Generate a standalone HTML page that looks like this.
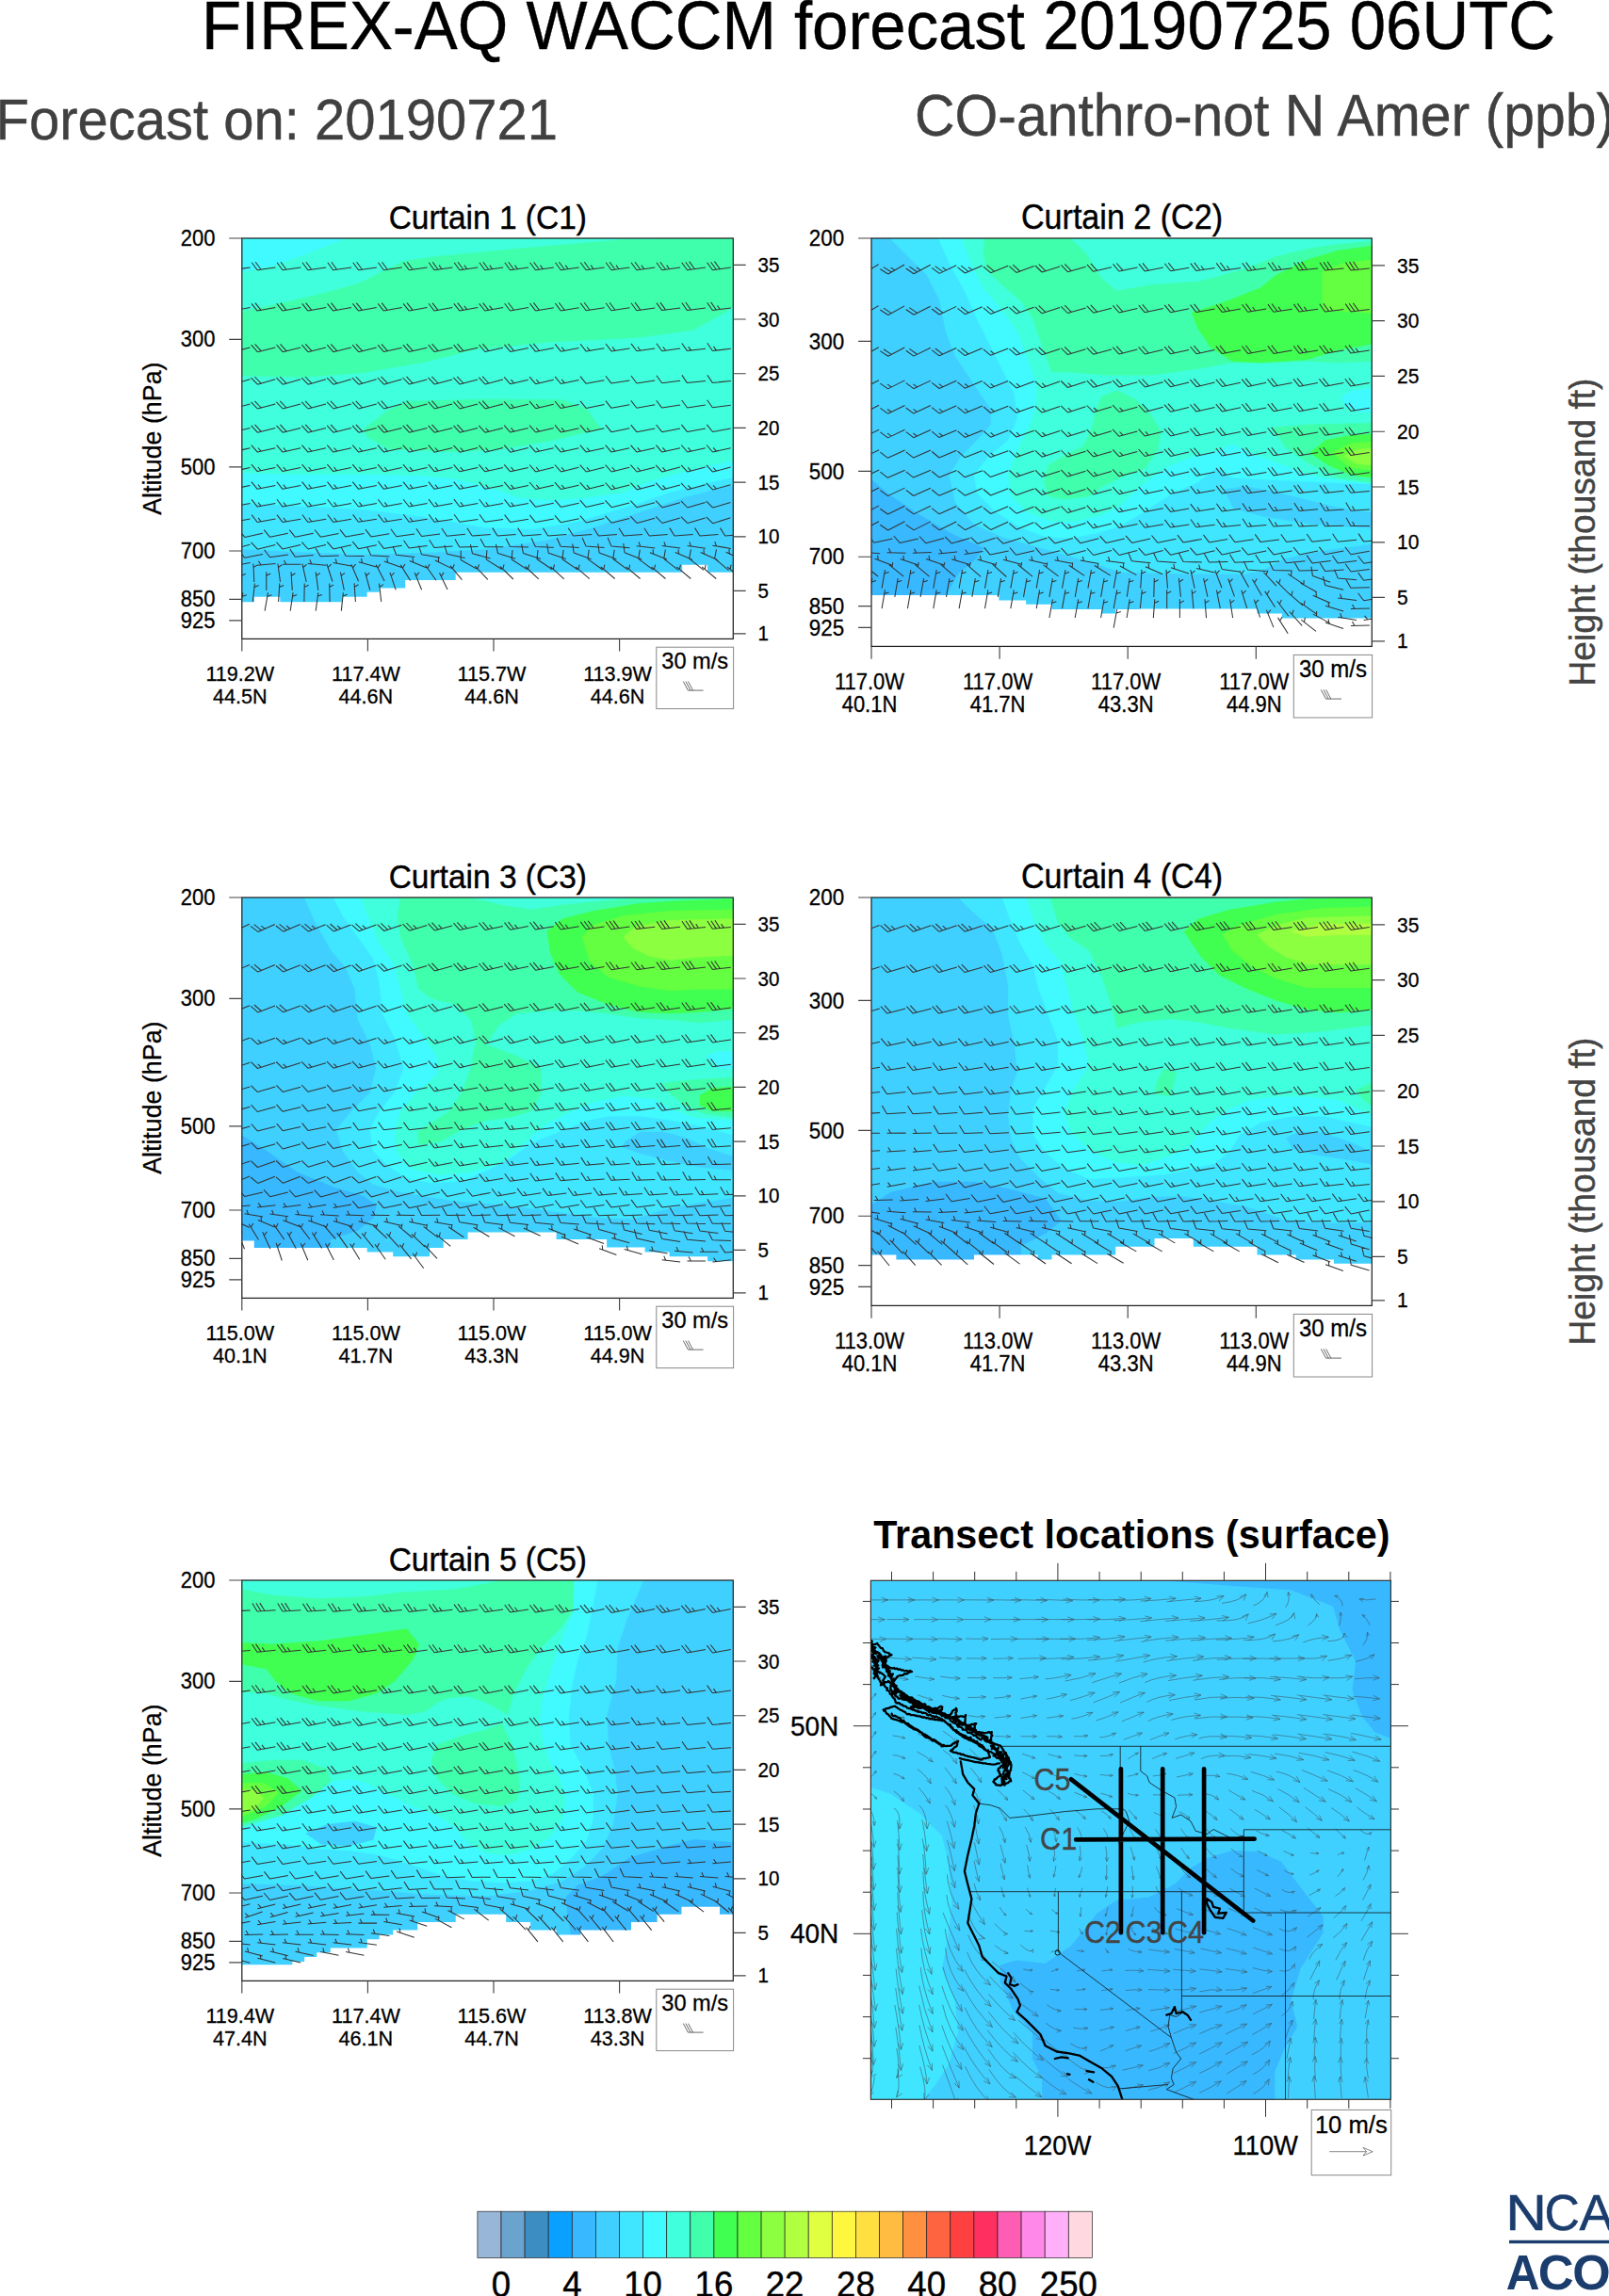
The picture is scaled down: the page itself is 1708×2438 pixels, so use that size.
<!DOCTYPE html>
<html><head><meta charset="utf-8"><title>FIREX-AQ WACCM forecast</title>
<style>html,body{margin:0;padding:0;background:#fff}svg{display:block}</style></head>
<body>
<svg width="1708" height="2438" viewBox="0 0 1708 2438" font-family="'Liberation Sans', sans-serif">
<rect width="1708" height="2438" fill="#fff"/>
<text transform="translate(932.5 51.5) scale(1.000 1.055)" font-size="68.9" text-anchor="middle" fill="#000"  stroke="#000" stroke-width="0.4">FIREX-AQ WACCM forecast 20190725 06UTC</text>
<text transform="translate(-4.5 148.4) scale(1.000 1.065)" font-size="58" text-anchor="start" fill="#404040"  stroke="#404040" stroke-width="0.4">Forecast on: 20190721</text>
<text transform="translate(971 143.5) scale(1.000 1.060)" font-size="58.9" text-anchor="start" fill="#404040"  stroke="#404040" stroke-width="0.4">CO-anthro-not N Amer (ppb)</text>
<clipPath id="cp0"><rect x="256.8" y="253" width="521.5" height="425.4"/></clipPath>
<g clip-path="url(#cp0)">
<rect x="256.8" y="253" width="521.5" height="425.4" fill="#40FFDC"/>
<polygon points="256.8,253 367,253 321.6,270.8 289.2,282.2 256.8,288.6" fill="#40FAFF" stroke="#40FAFF" stroke-width="0.6"/>
<polygon points="256.8,330.8 289.2,324.3 337.8,312.9 380,301.6 402.7,290.3 428.6,277.3 464.2,272.4 548.5,264.3 661.9,254.6 778.3,253 778.3,325.9 762.4,335.6 736.5,350.2 678.1,358.3 580.9,363.2 503.1,371.3 451.3,384.2 386.4,395.6 321.6,400.4 256.8,398.8" fill="#40FFAC" stroke="#40FFAC" stroke-width="0.6"/>
<polygon points="386.4,455.5 409.1,437.7 431.8,426.3 516.1,424.1 597.1,424.7 623,434.4 637.6,455.5 580.9,468.5 532.3,476.6 483.7,479.8 412.4,476.6 389.7,463.6" fill="#40FFAC" stroke="#40FFAC" stroke-width="0.6"/>
<polygon points="256.8,502.5 305.4,504.1 386.4,504.1 451.3,505.7 483.7,509 532.3,521.9 548.5,528.4 580.9,531.6 613.3,530 661.9,523.5 687.9,512.2 726.8,500.9 778.3,489.5 778.3,678.4 256.8,678.4" fill="#40FAFF" stroke="#40FAFF" stroke-width="0.6"/>
<polygon points="256.8,534.9 321.6,538.1 386.4,541.4 451.3,549.5 516.1,560.8 564.7,562.4 613.3,554.3 645.7,544.6 678.1,534.9 710.6,523.5 743,515.4 778.3,507.3 778.3,678.4 256.8,678.4" fill="#40E6FF" stroke="#40E6FF" stroke-width="0.6"/>
<polygon points="256.8,583.5 321.6,586.7 386.4,589.3 451.3,587.4 516.1,583.5 580.9,573.8 629.5,560.8 678.1,544.6 726.8,528.4 778.3,515.4 778.3,678.4 256.8,678.4" fill="#40D0FF" stroke="#40D0FF" stroke-width="0.6"/>
<path d="M256.8 678.4L256.8 639.2L269.8 639.2L269.8 633.7L297.3 633.7L297.3 639.2L363.8 639.2L363.8 633.7L389.7 633.7L389.7 628.8L402.7 628.8L402.7 624.6L430.2 624.6L430.2 615.9L483.7 615.9L483.7 607.8L778.6 607.8L778.3 678.4ZM724.2 599.7H751.1V608.1H724.2Z" fill="#fff"/>
<path d="M265.7 284L246.2 286.8M246.2 286.8L240.4 278.8M250.2 286.2L244.4 278.2M292.5 284L273.1 286.8M273.1 286.8L267.3 278.8M277.1 286.2L271.2 278.2M319.4 284L299.9 286.8M299.9 286.8L294.1 278.8M303.9 286.2L298.1 278.2M346.2 284L326.8 286.8M326.8 286.8L321 278.8M330.8 286.2L324.9 278.2M373.1 284L353.6 286.8M353.6 286.8L347.8 278.8M357.6 286.2L351.8 278.2M399.9 284L380.5 286.8M380.5 286.8L374.7 278.8M384.5 286.2L378.6 278.2M426.8 284L407.3 286.8M407.3 286.8L401.5 278.8M411.3 286.2L405.5 278.2M453.6 284L434.2 286.8M434.2 286.8L428.4 278.8M438.2 286.2L432.3 278.2M480.5 284L461 286.8M461 286.8L455.2 278.8M465 286.2L459.2 278.2M469 285.7L466.1 281.6M507.3 284L487.9 286.8M487.9 286.8L482.1 278.8M491.9 286.2L486 278.2M495.8 285.7L492.9 281.6M534.2 284L514.7 286.8M514.7 286.8L508.9 278.8M518.7 286.2L512.9 278.2M522.7 285.7L519.8 281.6M561 284L541.6 286.8M541.6 286.8L535.8 278.8M545.6 286.2L539.7 278.2M549.5 285.7L546.6 281.6M587.9 284L568.4 286.8M568.4 286.8L562.6 278.8M572.4 286.2L566.6 278.2M576.4 285.7L573.5 281.6M614.7 284L595.3 286.8M595.3 286.8L589.5 278.8M599.3 286.2L593.4 278.2M603.2 285.7L600.3 281.6M641.6 284L622.1 286.8M622.1 286.8L616.3 278.8M626.1 286.2L620.3 278.2M630.1 285.7L627.2 281.6M668.4 284L649 286.8M649 286.8L643.2 278.8M653 286.2L647.1 278.2M656.9 285.7L654 281.6M695.3 284L675.8 286.8M675.8 286.8L670 278.8M679.8 286.2L674 278.2M683.8 285.7L680.9 281.6M722.1 284L702.7 286.8M702.7 286.8L696.9 278.8M706.7 286.2L700.8 278.2M710.6 285.7L707.7 281.6M749 284L729.5 286.8M729.5 286.8L723.7 278.8M733.5 286.2L727.7 278.2M737.5 285.7L731.6 277.6M775.8 284L756.4 286.8M756.4 286.8L750.6 278.8M760.4 286.2L754.5 278.2M764.3 285.7L758.5 277.6M265.6 326.5L246.3 330.1M246.3 330.1L240.1 322.4M250.3 329.4L244.1 321.6M292.4 326.5L273.2 330.1M273.2 330.1L267 322.4M277.1 329.4L270.9 321.6M319.3 326.5L300 330.1M300 330.1L293.8 322.4M304 329.4L297.8 321.6M346.1 326.5L326.9 330.1M326.9 330.1L320.7 322.4M330.8 329.4L324.6 321.6M373 326.5L353.7 330.1M353.7 330.1L347.5 322.4M357.7 329.4L351.5 321.6M399.8 326.5L380.6 330.1M380.6 330.1L374.4 322.4M384.5 329.4L378.3 321.6M426.7 326.5L407.4 330.1M407.4 330.1L401.2 322.4M411.3 329.4L405.2 321.6M453.5 326.5L434.3 330.1M434.3 330.1L428.1 322.3M438.2 329.4L432 321.6M480.4 326.5L461.1 330.1M461.1 330.1L455 322.3M465 329.4L458.9 321.6M507.2 326.5L488 330.1M488 330.1L481.8 322.3M491.9 329.3L485.7 321.6M495.8 328.6L492.8 324.7M534.1 326.6L514.8 330M514.8 330L508.7 322.3M518.7 329.3L512.6 321.6M522.7 328.6L519.6 324.7M561 326.6L541.6 330M541.6 330L535.6 322.2M545.6 329.3L539.5 321.5M587.8 326.7L568.5 329.9M568.5 329.9L562.5 322.1M572.4 329.3L566.4 321.4M614.7 326.7L595.3 329.9M595.3 329.9L589.3 322M599.3 329.2L593.3 321.3M641.5 326.8L622.2 329.8M622.2 329.8L616.2 321.9M626.1 329.2L620.2 321.3M668.4 326.8L649 329.8M649 329.8L643.1 321.8M653 329.2L647.1 321.2M695.3 326.9L675.8 329.7M675.8 329.7L670 321.7M679.8 329.1L674 321.1M722.1 327L702.7 329.6M702.7 329.6L696.9 321.6M706.7 329.1L700.9 321.1M749 327L729.5 329.6M729.5 329.6L723.8 321.5M733.5 329.1L727.8 321M775.8 327.1L756.4 329.5M756.4 329.5L750.7 321.4M760.3 329L754.6 320.9M764.3 328.5L761.5 324.5M265.5 369.1L246.4 373.7M246.4 373.7L239.9 366.2M250.3 372.7L243.8 365.3M292.3 369.1L273.3 373.7M273.3 373.7L266.7 366.2M277.2 372.7L270.6 365.3M319.2 369.1L300.1 373.7M300.1 373.7L293.6 366.2M304 372.7L297.5 365.3M346 369.1L327 373.7M327 373.7L320.4 366.2M330.9 372.7L324.3 365.3M372.9 369.1L353.8 373.7M353.8 373.7L347.3 366.2M357.7 372.7L351.2 365.3M399.7 369.1L380.7 373.7M380.7 373.7L374.1 366.2M384.6 372.7L378 365.3M426.6 369.2L407.5 373.6M407.5 373.6L401 366.2M411.4 372.7L404.9 365.3M453.4 369.2L434.4 373.6M434.4 373.6L427.9 366.1M438.2 372.7L431.7 365.2M480.3 369.2L461.2 373.6M461.2 373.6L454.7 366.1M465.1 372.7L458.6 365.2M507.2 369.2L488 373.6M488 373.6L481.6 366.1M491.9 372.7L485.5 365.2M534 369.3L514.9 373.5M514.9 373.5L508.5 366M518.8 372.7L512.4 365.1M560.9 369.4L541.7 373.4M541.7 373.4L535.4 365.8M545.6 372.6L539.3 365M587.8 369.5L568.5 373.3M568.5 373.3L562.3 365.6M572.5 372.5L566.2 364.8M614.6 369.6L595.4 373.2M595.4 373.2L589.2 365.4M599.3 372.5L596.2 368.6M641.5 369.7L622.2 373.1M622.2 373.1L616.1 365.2M626.1 372.4L623.1 368.5M668.4 369.9L649 372.9M649 372.9L643.1 365M653 372.3L650 368.4M695.2 370L675.9 372.8M675.9 372.8L670 364.9M679.8 372.2L676.9 368.3M722.1 370.1L702.7 372.7M702.7 372.7L696.9 364.7M706.7 372.2L703.8 368.2M749 370.2L729.5 372.6M729.5 372.6L723.8 364.5M733.5 372.1L730.7 368.1M775.8 370.3L756.4 372.5M756.4 372.5L750.8 364.3M760.3 372L757.5 367.9M265.4 402.8L246.5 408.2M246.5 408.2L239.7 401.1M250.4 407.1L243.5 400M292.2 402.8L273.4 408.2M273.4 408.2L266.5 401.1M277.2 407.1L270.3 400M319.1 402.8L300.2 408.2M300.2 408.2L293.4 401.1M304.1 407.1L297.2 400M345.9 402.8L327.1 408.2M327.1 408.2L320.2 401.1M330.9 407.1L324 400M372.8 402.8L353.9 408.2M353.9 408.2L347.1 401.1M357.8 407.1L350.9 400M399.6 402.8L380.8 408.2M380.8 408.2L373.9 401.1M384.6 407.1L377.7 400M426.5 402.8L407.6 408.2M407.6 408.2L400.8 401M411.5 407.1L404.6 399.9M453.3 402.9L434.5 408.1M434.5 408.1L427.6 401M438.3 407.1L431.5 399.9M480.2 402.9L461.3 408.1M461.3 408.1L454.5 400.9M465.2 407L458.4 399.8M507.1 402.9L488.1 408.1M488.1 408.1L481.4 400.8M492 407L485.2 399.8M533.9 403L515 408M515 408L508.3 400.7M518.8 407L512.1 399.7M560.8 403.2L541.8 407.8M541.8 407.8L535.2 400.4M545.7 406.9L542.4 403.2M587.7 403.3L568.6 407.7M568.6 407.7L562.1 400.1M572.5 406.8L569.3 403M614.6 403.5L595.4 407.5M595.4 407.5L589.1 399.9M599.3 406.7L596.2 402.9M641.5 403.7L622.2 407.3M622.2 407.3L616 399.6M668.4 403.9L649 407.1M649 407.1L643 399.3M695.2 404L675.9 407M675.9 407L670 399M722.1 404.2L702.7 406.8M702.7 406.8L696.9 398.7M749 404.4L729.5 406.6M729.5 406.6L723.9 398.4M775.9 404.6L756.3 406.4M756.3 406.4L750.9 398.2M265.4 429L246.5 434M246.5 434L239.7 426.8M250.3 433L243.6 425.8M292.3 429L273.3 434M273.3 434L266.6 426.8M277.2 433L270.4 425.8M319.1 429L300.2 434M300.2 434L293.4 426.8M304 433L297.3 425.8M346 429L327 434M327 434L320.3 426.8M330.9 433L324.1 425.8M372.8 429L353.9 434M353.9 434L347.1 426.8M357.7 433L351 425.8M399.7 429L380.7 434M380.7 434L374 426.8M384.6 433L377.8 425.8M426.5 429L407.6 434M407.6 434L400.8 426.8M411.4 433L404.7 425.7M453.4 429L434.4 434M434.4 434L427.7 426.7M438.3 433L431.6 425.7M480.2 429L461.3 434M461.3 434L454.6 426.7M465.1 433L458.4 425.7M507.1 429L488.1 434M488.1 434L481.4 426.7M492 433L485.3 425.7M533.9 429.1L515 433.9M515 433.9L508.3 426.6M518.8 432.9L512.2 425.6M560.8 429.2L541.8 433.8M541.8 433.8L535.2 426.4M545.7 432.9L542.4 429.2M587.7 429.3L568.6 433.7M568.6 433.7L562.1 426.2M572.5 432.8L569.3 429M614.6 429.4L595.4 433.6M595.4 433.6L589 426M599.3 432.7L596.1 428.9M641.5 429.6L622.2 433.4M622.2 433.4L616 425.8M668.3 429.7L649.1 433.3M649.1 433.3L642.9 425.6M695.2 429.8L675.9 433.2M675.9 433.2L669.8 425.4M722.1 429.9L702.7 433.1M702.7 433.1L696.7 425.2M748.9 430L729.6 433M729.6 433L723.7 425M775.8 430.2L756.4 432.8M756.4 432.8L750.6 424.8M265.5 454.4L246.4 459.2M246.4 459.2L239.8 451.8M250.3 458.2L243.7 450.8M292.3 454.4L273.3 459.2M273.3 459.2L266.7 451.8M277.2 458.2L270.5 450.8M319.2 454.4L300.1 459.2M300.1 459.2L293.5 451.8M304 458.2L297.4 450.8M346 454.4L327 459.2M327 459.2L320.4 451.8M330.9 458.2L324.2 450.8M372.9 454.4L353.8 459.2M353.8 459.2L347.2 451.8M357.7 458.2L351.1 450.8M399.7 454.4L380.7 459.2M380.7 459.2L374.1 451.8M384.6 458.2L377.9 450.8M426.6 454.4L407.5 459.2M407.5 459.2L400.9 451.8M411.4 458.2L404.8 450.8M453.4 454.4L434.4 459.2M434.4 459.2L427.8 451.8M438.3 458.2L431.6 450.8M480.3 454.4L461.2 459.2M461.2 459.2L454.6 451.8M465.1 458.2L458.5 450.8M507.1 454.4L488.1 459.2M488.1 459.2L481.5 451.8M492 458.2L485.3 450.8M534 454.4L514.9 459.2M514.9 459.2L508.3 451.8M518.8 458.2L515.5 454.5M560.8 454.5L541.8 459.1M541.8 459.1L535.2 451.7M545.7 458.2L542.4 454.4M587.7 454.6L568.6 459M568.6 459L562.1 451.6M572.5 458.1L569.2 454.4M614.6 454.7L595.4 458.9M595.4 458.9L589 451.4M599.3 458.1L596.1 454.3M641.4 454.7L622.3 458.9M622.3 458.9L615.9 451.3M626.2 458L623 454.3M668.3 454.8L649.1 458.8M649.1 458.8L642.8 451.2M695.2 454.9L675.9 458.7M675.9 458.7L669.7 451.1M722 454.9L702.8 458.7M702.8 458.7L696.5 451M748.9 455L729.6 458.6M729.6 458.6L723.4 450.9M775.7 455.1L756.5 458.5M756.5 458.5L750.3 450.8M265.5 475.7L246.4 480.1M246.4 480.1L239.9 472.6M250.3 479.2L247.1 475.5M292.3 475.7L273.3 480.1M273.3 480.1L266.8 472.6M277.1 479.2L273.9 475.5M319.2 475.7L300.1 480.1M300.1 480.1L293.6 472.6M304 479.2L300.8 475.5M346 475.7L327 480.1M327 480.1L320.5 472.6M330.8 479.2L327.6 475.5M372.9 475.7L353.8 480.1M353.8 480.1L347.3 472.6M357.7 479.2L354.5 475.5M399.7 475.7L380.7 480.1M380.7 480.1L374.2 472.6M384.5 479.2L381.3 475.5M426.6 475.7L407.5 480.1M407.5 480.1L401 472.7M411.4 479.2L408.1 475.5M453.4 475.7L434.4 480.1M434.4 480.1L427.8 472.7M438.3 479.2L435 475.5M480.3 475.6L461.2 480.2M461.2 480.2L454.7 472.7M465.1 479.2L461.8 475.5M507.1 475.6L488.1 480.2M488.1 480.2L481.5 472.8M492 479.2L488.7 475.5M534 475.6L514.9 480.2M514.9 480.2L508.4 472.8M518.8 479.3L515.5 475.5M560.8 475.6L541.8 480.2M541.8 480.2L535.2 472.7M545.7 479.2L542.4 475.5M587.7 475.7L568.6 480.1M568.6 480.1L562.1 472.7M572.5 479.2L569.2 475.5M614.5 475.7L595.5 480.1M595.5 480.1L588.9 472.7M599.4 479.2L596.1 475.5M641.4 475.7L622.3 480.1M622.3 480.1L615.8 472.7M626.2 479.2L622.9 475.5M668.3 475.7L649.1 480.1M649.1 480.1L642.7 472.6M653 479.2L649.8 475.5M695.1 475.7L676 480.1M676 480.1L669.5 472.6M679.9 479.2L676.7 475.4M722 475.7L702.8 480.1M702.8 480.1L696.4 472.6M706.7 479.2L703.5 475.4M748.8 475.8L729.7 480M729.7 480L723.2 472.5M733.6 479.2L730.4 475.4M775.7 475.8L756.5 480M756.5 480L750.1 472.5M760.4 479.2L757.2 475.4M265.5 496.6L246.4 500.6M246.4 500.6L240 493.1M250.3 499.8L247.1 496M292.4 496.6L273.2 500.6M273.2 500.6L266.9 493.1M277.1 499.8L273.9 496M319.2 496.6L300.1 500.6M300.1 500.6L293.7 493.1M304 499.8L300.8 496M346.1 496.6L326.9 500.6M326.9 500.6L320.6 493.1M330.8 499.8L327.6 496M372.9 496.6L353.8 500.6M353.8 500.6L347.4 493.1M357.7 499.8L354.5 496M399.8 496.6L380.6 500.6M380.6 500.6L374.2 493.1M384.5 499.8L381.3 496M426.6 496.5L407.5 500.7M407.5 500.7L401.1 493.1M411.4 499.8L408.2 496M453.5 496.5L434.3 500.7M434.3 500.7L427.9 493.2M438.2 499.8L435 496.1M480.3 496.5L461.2 500.7M461.2 500.7L454.7 493.2M465.1 499.9L461.9 496.1M507.2 496.4L488 500.8M488 500.8L481.6 493.3M491.9 499.9L488.7 496.1M534 496.4L514.9 500.8M514.9 500.8L508.4 493.3M518.8 499.9L515.5 496.2M560.8 496.4L541.8 500.8M541.8 500.8L535.2 493.4M545.7 499.9L542.4 496.2M587.7 496.3L568.6 500.9M568.6 500.9L562.1 493.5M572.5 500L569.2 496.2M614.5 496.3L595.5 500.9M595.5 500.9L588.9 493.5M599.4 500L596.1 496.3M641.4 496.2L622.3 501M622.3 501L615.7 493.6M626.2 500L622.9 496.3M668.2 496.2L649.2 501M649.2 501L642.6 493.6M653.1 500L649.8 496.3M695 496.2L676.1 501M676.1 501L669.4 493.7M679.9 500L676.6 496.4M721.9 496.1L702.9 501.1M702.9 501.1L696.2 493.8M706.8 500.1L703.4 496.4M748.7 496.1L729.8 501.1M729.8 501.1L723.1 493.8M733.6 500.1L730.3 496.4M775.6 496.1L756.6 501.1M756.6 501.1L749.9 493.9M760.5 500.1L757.1 496.5M265.6 515.5L246.3 519.3M246.3 519.3L240.1 511.7M250.3 518.5L247.1 514.7M292.4 515.5L273.2 519.3M273.2 519.3L266.9 511.7M277.1 518.5L274 514.7M319.3 515.5L300 519.3M300 519.3L293.8 511.6M304 518.5L300.8 514.7M346.1 515.5L326.9 519.3M326.9 519.3L320.6 511.6M330.8 518.5L327.7 514.7M373 515.5L353.7 519.3M353.7 519.3L347.5 511.6M357.7 518.5L354.5 514.7M399.8 515.5L380.6 519.3M380.6 519.3L374.3 511.6M384.5 518.5L381.4 514.7M426.7 515.5L407.4 519.3M407.4 519.3L401.2 511.6M411.4 518.5L408.2 514.7M453.5 515.5L434.3 519.3M434.3 519.3L428 511.6M438.2 518.5L435.1 514.7M480.4 515.5L461.1 519.3M461.1 519.3L454.9 511.6M465.1 518.5L461.9 514.7M507.2 515.5L488 519.3M488 519.3L481.7 511.7M491.9 518.5L488.8 514.7M534.1 515.5L514.8 519.3M514.8 519.3L508.6 511.7M518.8 518.6L515.6 514.7M560.9 515.4L541.7 519.4M541.7 519.4L535.3 511.9M545.6 518.6L542.4 514.8M587.7 515.3L568.6 519.5M568.6 519.5L562.1 512M572.5 518.7L569.3 514.9M614.5 515.2L595.5 519.6M595.5 519.6L588.9 512.2M599.4 518.7L596.1 515M641.4 515.1L622.3 519.7M622.3 519.7L615.7 512.3M626.2 518.8L622.9 515.1M668.2 515L649.2 519.8M649.2 519.8L642.6 512.5M653.1 518.8L649.8 515.2M695 514.9L676.1 519.9M676.1 519.9L669.4 512.6M679.9 518.9L676.6 515.2M721.9 514.9L702.9 519.9M702.9 519.9L696.2 512.7M706.8 518.9L703.4 515.3M748.7 514.8L729.8 520M729.8 520L723 512.8M733.7 518.9L730.3 515.3M775.5 514.7L756.7 520.1M756.7 520.1L749.8 512.9M760.5 519L757.1 515.4M265.6 534.5L246.3 538.1M246.3 538.1L240.1 530.4M250.3 537.4L247.2 533.5M292.4 534.5L273.2 538.1M273.2 538.1L267 530.3M277.1 537.4L274 533.5M319.3 534.5L300 538.1M300 538.1L293.9 530.3M303.9 537.3L300.9 533.5M346.1 534.6L326.9 538M326.9 538L320.7 530.3M330.8 537.3L327.7 533.4M373 534.6L353.7 538M353.7 538L347.6 530.2M357.6 537.3L354.6 533.4M399.9 534.6L380.5 538M380.5 538L374.5 530.2M384.5 537.3L381.4 533.4M426.7 534.6L407.4 538M407.4 538L401.3 530.2M411.3 537.3L408.3 533.4M453.6 534.6L434.2 538M434.2 538L428.2 530.2M438.2 537.3L435.1 533.4M480.4 534.6L461.1 538M461.1 538L455 530.1M465 537.3L462 533.4M507.3 534.6L487.9 538M487.9 538L481.9 530.1M491.9 537.3L488.9 533.4M534.1 534.6L514.8 538M514.8 538L508.7 530.2M518.7 537.3L515.7 533.4M560.9 534.5L541.7 538.1M541.7 538.1L535.5 530.4M545.6 537.4L542.5 533.5M587.7 534.3L568.6 538.3M568.6 538.3L562.2 530.7M614.6 534.2L595.4 538.4M595.4 538.4L589 530.9M641.4 534L622.3 538.6M622.3 538.6L615.8 531.2M668.2 533.9L649.2 538.7M649.2 538.7L642.5 531.4M695 533.8L676.1 538.8M676.1 538.8L669.3 531.6M721.8 533.7L703 538.9M703 538.9L696.1 531.7M748.7 533.6L729.8 539M729.8 539L722.9 531.9M775.5 533.5L756.7 539.1M756.7 539.1L749.7 532.1M265.6 551.1L246.3 554.5M246.3 554.5L240.2 546.7M250.2 553.8L247.2 549.9M292.5 551.1L273.1 554.5M273.1 554.5L267.1 546.6M277.1 553.8L274.1 549.9M319.3 551.2L300 554.4M300 554.4L293.9 546.6M303.9 553.8L300.9 549.8M346.2 551.2L326.8 554.4M326.8 554.4L320.8 546.5M330.8 553.7L327.8 549.8M373 551.2L353.7 554.4M353.7 554.4L347.7 546.5M357.6 553.7L354.6 549.8M399.9 551.3L380.5 554.3M380.5 554.3L374.6 546.4M384.5 553.7L381.5 549.8M426.7 551.3L407.4 554.3M407.4 554.3L401.4 546.4M411.3 553.7L408.4 549.7M453.6 551.3L434.2 554.3M434.2 554.3L428.3 546.3M438.2 553.7L435.2 549.7M480.4 551.4L461.1 554.2M461.1 554.2L455.2 546.3M465 553.6L462.1 549.7M507.3 551.4L487.9 554.2M487.9 554.2L482.1 546.2M534.1 551.4L514.8 554.2M514.8 554.2L508.9 546.2M561 551.2L541.6 554.4M541.6 554.4L535.6 546.6M587.8 551L568.5 554.6M568.5 554.6L562.3 546.9M614.6 550.8L595.4 554.8M595.4 554.8L589 547.3M641.4 550.6L622.3 555M622.3 555L615.8 547.6M668.2 550.4L649.2 555.2M649.2 555.2L642.5 547.9M695 550.2L676.1 555.4M676.1 555.4L669.3 548.1M721.8 550.1L703 555.5M703 555.5L696.1 548.4M748.6 550L729.9 555.6M729.9 555.6L722.9 548.6M775.4 549.8L756.8 555.8M756.8 555.8L749.7 548.8M252.1 566.2L232.9 570.4M232.9 570.4L226.5 562.9M278.9 566.2L259.8 570.4M259.8 570.4L253.4 562.8M305.8 566.3L286.6 570.3M286.6 570.3L280.3 562.7M332.7 566.3L313.4 570.3M313.4 570.3L307.2 562.6M359.5 566.4L340.3 570.2M340.3 570.2L334 562.5M386.4 566.5L367.1 570.1M367.1 570.1L360.9 562.4M413.3 566.7L393.9 569.9M393.9 569.9L387.9 562.1M440.1 566.9L420.8 569.7M420.8 569.7L414.9 561.7M467 567.1L447.6 569.5M447.6 569.5L441.9 561.4M493.9 567.3L474.4 569.3M474.4 569.3L468.9 561M520.8 567.6L501.2 569M501.2 569L495.9 560.7M547.6 567.6L528.1 569M528.1 569L522.8 560.6M574.5 567.6L554.9 569M554.9 569L549.7 560.6M601.3 567.6L581.8 569M581.8 569L576.5 560.7M628.2 567.6L608.6 569M608.6 569L603.3 560.7M655 567.5L635.5 569.1M635.5 569.1L630.2 560.7M681.9 567.5L662.3 569.1M662.3 569.1L657 560.7M708.7 567.6L689.2 569M689.2 569L683.9 560.7M735.6 567.6L716 569M716 569L710.8 560.6M762.4 567.6L742.9 569M742.9 569L737.6 560.6M789.3 567.6L769.7 569M769.7 569L764.5 560.6M265.4 578.3L246.5 583.3M246.5 583.3L239.7 576.1M292.3 578.4L273.3 583.2M273.3 583.2L266.6 575.9M319.2 578.5L300.1 583.1M300.1 583.1L293.5 575.8M346 578.6L327 583M327 583L320.4 575.6M372.9 578.7L353.8 582.9M353.8 582.9L347.3 575.4M399.8 578.8L380.6 582.8M380.6 582.8L374.3 575.2M426.7 579.2L407.4 582.4M407.4 582.4L401.4 574.5M453.6 579.6L434.2 582M434.2 582L428.5 573.8M480.5 580.1L461 581.5M461 581.5L455.7 573.2M507.4 580.5L487.8 581.1M487.8 581.1L482.9 572.5M534.2 580.8L514.7 580.8M514.7 580.8L510 572M561.1 581L541.5 580.6M541.5 580.6L537.1 571.7M587.9 581.2L568.4 580.4M568.4 580.4L564.1 571.5M614.8 581.4L595.2 580.2M595.2 580.2L591.1 571.2M641.6 581.5L622.1 580.1M622.1 580.1L618.1 571M668.5 581.7L648.9 579.9M648.9 579.9L645.1 570.7M695.3 581.9L675.8 579.7M679.8 580.1L678 575.5M722.1 582.1L702.7 579.5M706.6 580L704.9 575.4M748.9 582.2L729.6 579.4M733.5 579.9L731.9 575.3M775.8 582.4L756.4 579.2M760.4 579.8L758.8 575.1M252.1 588.3L232.9 592.5M232.9 592.5L226.5 585M279 588.5L259.7 592.3M259.7 592.3L253.5 584.6M305.9 589L286.5 591.8M286.5 591.8L280.6 583.8M332.8 589.5L313.3 591.3M313.3 591.3L307.8 583.1M359.7 590L340.1 590.8M340.1 590.8L335.1 582.3M386.5 590.5L367 590.3M367 590.3L362.4 581.6M413.4 591L393.8 589.8M393.8 589.8L389.7 580.8M440.2 591.5L420.7 589.3M420.7 589.3L417.1 580.1M467 592L447.6 588.8M447.6 588.8L444.5 579.4M493.7 592.5L474.6 588.3M474.6 588.3L471.9 578.8M520.5 593L501.5 587.8M501.5 587.8L499.4 578.2M547.2 593.2L528.5 587.6M528.5 587.6L526.5 577.9M574 593.4L555.4 587.4M555.4 587.4L553.6 577.7M600.8 593.5L582.3 587.3M582.3 587.3L580.6 577.5M627.6 593.7L609.2 587.1M609.2 587.1L607.7 577.3M654.4 593.8L636.1 587M636.1 587L634.8 577.2M681.2 594L663 586.8M663 586.8L661.8 577M708 594.1L689.9 586.7M693.6 588.2L693.1 583.3M734.8 594.3L716.8 586.5M720.5 588.1L720.1 583.2M761.6 594.4L743.7 586.4M747.4 588L747 583.1M788.4 594.5L770.6 586.3M774.2 587.9L774 583M265.6 597.6L246.3 601M250.2 600.3L247.2 596.4M292.6 598.4L273 600.2M277 599.8L274.3 595.7M319.4 599.3L299.9 599.3M303.9 599.3L301.5 594.9M346.3 600.2L326.7 598.4M330.7 598.8L328.8 594.2M373 601.1L353.7 597.5M357.6 598.2L356.2 593.5M399.6 601.9L380.8 596.7M384.6 597.8L383.5 592.9M426.3 602.5L407.8 596.1M411.6 597.4L410.8 592.5M453 603L434.8 595.6M438.5 597.1L438.1 592.2M479.6 603.6L461.9 595M465.5 596.8L465.4 591.8M506.1 604.1L489.1 594.5M489.1 594.5L489.3 584.6M532.7 604.5L516.2 594.1M516.2 594.1L516.9 584.2M559.5 604.6L543.1 594M543.1 594L544 584.1M586.3 604.8L570 593.8M570 593.8L571 584M613.1 604.9L596.9 593.7M596.9 593.7L598.1 583.9M639.8 605L623.9 593.6M623.9 593.6L625.2 583.8M666.6 605.1L650.8 593.5M650.8 593.5L652.2 583.7M693.4 605.2L677.7 593.4M677.7 593.4L679.3 583.6M720.1 605.3L704.7 593.3M704.7 593.3L706.4 583.5M746.9 605.4L731.6 593.2M731.6 593.2L733.5 583.4M773.6 605.6L758.6 593M758.6 593L760.5 583.4M242.5 618L242.5 598.4M242.5 602.4L246.9 600.1M269.8 618L268.9 598.4M269.1 602.4L273.4 599.9M297.5 617.9L294.9 598.5M295.4 602.5L299.5 599.6M325.2 617.8L320.9 598.6M321.8 602.5L325.5 599.3M352.9 617.5L346.9 598.9M348.1 602.7L351.6 599.1M380.6 617.2L372.9 599.2M374.5 602.9L377.6 599M408.1 616.9L399.1 599.5M400.9 603.1L403.7 599M435.6 616.5L425.3 599.9M427.4 603.3L429.9 599M463 616.2L451.6 600.2M453.9 603.5L456.1 599.1M490.4 615.7L477.9 600.7M480.4 603.7L482.3 599.2M517.8 615.3L504.2 601.1M507 604L508.5 599.3M544.9 615L530.8 601.4M533.7 604.2L535.1 599.4M571.8 614.9L557.6 601.5M560.5 604.2L561.8 599.5M598.8 614.8L584.3 601.6M587.3 604.3L588.5 599.5M625.8 614.6L611 601.8M614 604.4L615.2 599.6M652.7 614.5L637.8 601.9M640.8 604.5L641.9 599.6M679.6 614.5L664.6 601.9M667.7 604.5L668.7 599.6M706.5 614.5L691.4 601.9M694.5 604.5L695.5 599.6M733.3 614.5L718.3 601.9M721.4 604.5L722.4 599.6M760.2 614.5L745.1 601.9M748.2 604.5L749.2 599.6M787 614.5L772 601.9M775.1 604.5L776.1 599.6M255.3 626.9L256.6 607.3M256.3 611.3L260.8 609.3M282.8 626.9L282.8 607.3M282.8 611.3L287.2 609M310.3 626.9L309 607.3M309.3 611.3L313.5 608.7M337.8 626.8L335.2 607.4M335.7 611.4L339.7 608.5M365.3 626.7L361.4 607.5M362.2 611.4L366 608.3M392.8 626.5L387.6 607.7M388.7 611.5L392.3 608.1M420.2 626.4L413.9 607.8M415.2 611.6L418.6 608M447.6 626.2L440.2 608M441.7 611.7L444.9 607.9M475 626L466.5 608.2M468.3 611.9L471.2 607.9M241.2 638.9L243.8 619.5M243.3 623.4L247.9 621.7M268.3 638.9L270.4 619.5M270 623.4L274.6 621.6M295.6 639L296.8 619.4M296.6 623.4L301.1 621.4M322.9 639L323.2 619.4M323.2 623.4L327.6 621.2M350.1 639L349.7 619.4M349.8 623.4L354.1 621M377.4 639L376.1 619.4M376.3 623.4L380.5 620.8M404.7 638.9L402.5 619.5M402.9 623.4L407 620.6M254 648.5L257.9 629.3M257.1 633.2L261.8 631.8M281.1 648.6L284.5 629.2M283.8 633.2L288.5 631.7M308.2 648.6L311.1 629.2M310.5 633.2L315.2 631.5M335.2 648.6L337.8 629.2M337.2 633.1L341.9 631.4M362.3 648.6L364.4 629.2M364 633.1L368.6 631.3" fill="none" stroke="#333" stroke-width="1.05" stroke-linecap="butt"/>
</g>
<rect x="256.8" y="253" width="521.5" height="425.4" fill="none" stroke="#222" stroke-width="1.25"/>
<text transform="translate(228.4 261) scale(1.000 1.050)" font-size="22" text-anchor="end" fill="#000"  stroke="#000" stroke-width="0.28">200</text>
<text transform="translate(228.4 368.4) scale(1.000 1.050)" font-size="22" text-anchor="end" fill="#000"  stroke="#000" stroke-width="0.28">300</text>
<text transform="translate(228.4 503.8) scale(1.000 1.050)" font-size="22" text-anchor="end" fill="#000"  stroke="#000" stroke-width="0.28">500</text>
<text transform="translate(228.4 593) scale(1.000 1.050)" font-size="22" text-anchor="end" fill="#000"  stroke="#000" stroke-width="0.28">700</text>
<text transform="translate(228.4 644.4) scale(1.000 1.050)" font-size="22" text-anchor="end" fill="#000"  stroke="#000" stroke-width="0.28">850</text>
<text transform="translate(228.4 666.8) scale(1.000 1.050)" font-size="22" text-anchor="end" fill="#000"  stroke="#000" stroke-width="0.28">925</text>
<text transform="translate(804.6 288.8) scale(1.000 1.050)" font-size="20.6" text-anchor="start" fill="#000"  stroke="#000" stroke-width="0.28">35</text>
<text transform="translate(804.6 346.5) scale(1.000 1.050)" font-size="20.6" text-anchor="start" fill="#000"  stroke="#000" stroke-width="0.28">30</text>
<text transform="translate(804.6 404.2) scale(1.000 1.050)" font-size="20.6" text-anchor="start" fill="#000"  stroke="#000" stroke-width="0.28">25</text>
<text transform="translate(804.6 461.9) scale(1.000 1.050)" font-size="20.6" text-anchor="start" fill="#000"  stroke="#000" stroke-width="0.28">20</text>
<text transform="translate(804.6 519.6) scale(1.000 1.050)" font-size="20.6" text-anchor="start" fill="#000"  stroke="#000" stroke-width="0.28">15</text>
<text transform="translate(804.6 577.3) scale(1.000 1.050)" font-size="20.6" text-anchor="start" fill="#000"  stroke="#000" stroke-width="0.28">10</text>
<text transform="translate(804.6 634.8) scale(1.000 1.050)" font-size="20.6" text-anchor="start" fill="#000"  stroke="#000" stroke-width="0.28">5</text>
<text transform="translate(804.6 680.4) scale(1.000 1.050)" font-size="20.6" text-anchor="start" fill="#000"  stroke="#000" stroke-width="0.28">1</text>
<text transform="translate(254.8 722.9) scale(1.000 1.050)" font-size="21.6" text-anchor="middle" fill="#000"  stroke="#000" stroke-width="0.28">119.2W</text>
<text transform="translate(254.8 746.8) scale(1.000 1.050)" font-size="21.6" text-anchor="middle" fill="#000"  stroke="#000" stroke-width="0.28">44.5N</text>
<text transform="translate(388.4 722.9) scale(1.000 1.050)" font-size="21.6" text-anchor="middle" fill="#000"  stroke="#000" stroke-width="0.28">117.4W</text>
<text transform="translate(388.4 746.8) scale(1.000 1.050)" font-size="21.6" text-anchor="middle" fill="#000"  stroke="#000" stroke-width="0.28">44.6N</text>
<text transform="translate(522 722.9) scale(1.000 1.050)" font-size="21.6" text-anchor="middle" fill="#000"  stroke="#000" stroke-width="0.28">115.7W</text>
<text transform="translate(522 746.8) scale(1.000 1.050)" font-size="21.6" text-anchor="middle" fill="#000"  stroke="#000" stroke-width="0.28">44.6N</text>
<text transform="translate(655.6 722.9) scale(1.000 1.050)" font-size="21.6" text-anchor="middle" fill="#000"  stroke="#000" stroke-width="0.28">113.9W</text>
<text transform="translate(655.6 746.8) scale(1.000 1.050)" font-size="21.6" text-anchor="middle" fill="#000"  stroke="#000" stroke-width="0.28">44.6N</text>
<path d="M243.2 253H256.8M243.2 360.4H256.8M243.2 495.8H256.8M243.2 585H256.8M243.2 636.4H256.8M243.2 658.8H256.8M778.3 281.3H791.7M778.3 339H791.7M778.3 396.7H791.7M778.3 454.4H791.7M778.3 512.1H791.7M778.3 569.8H791.7M778.3 627.3H791.7M778.3 672.9H791.7M256.8 678.4V691.6M390.4 678.4V691.6M524 678.4V691.6M657.6 678.4V691.6" fill="none" stroke="#444" stroke-width="1.15"/>
<text transform="translate(517.8 243.2) scale(1.000 1.075)" font-size="33.5" text-anchor="middle" fill="#000"  stroke="#000" stroke-width="0.4">Curtain 1 (C1)</text>
<text transform="translate(171.3 465.7) rotate(-90) scale(1.000 1.040)" font-size="26.8" text-anchor="middle" fill="#000"  stroke="#000" stroke-width="0.28">Altitude (hPa)</text>
<rect x="696.8" y="687.2" width="81.8" height="65.4" fill="#fff" stroke="#888" stroke-width="1"/>
<text transform="translate(737.7 710.1) scale(1.000 1.040)" font-size="23.6" text-anchor="middle" fill="#000"  stroke="#000" stroke-width="0.28">30 m/s</text>
<path d="M746.6 733.1L730.4 733.1M730.4 733.1L725.3 723.6M733 733.1L727.9 723.6M735.6 733.1L730.5 723.6" fill="none" stroke="#444" stroke-width="0.8"/>
<clipPath id="cp1"><rect x="925" y="253" width="531.3" height="433.4"/></clipPath>
<g clip-path="url(#cp1)">
<rect x="925" y="253" width="531.3" height="433.4" fill="#40D0FF"/>
<polygon points="944.8,253 961.3,269.5 984.4,292.6 997.6,319 1004.2,352 1014.2,378.4 1034,408.1 1052.1,434.5 1052.1,451 1037.3,467.6 1020.8,484.1 1007.6,503.9 1014.2,533.6 1034,556.7 1063.7,569.9 1109.9,583.1 1156.1,596.3 1190.2,607.5 1256.2,609.2 1322.6,609.2 1339.1,605.9 1363.8,592.7 1405.1,584.4 1456.3,577.5 1456.3,253" fill="#40E6FF" stroke="#40E6FF" stroke-width="0.6"/>
<polygon points="1299.5,519.7 1322.6,516.4 1355.6,523 1388.6,531.3 1421.6,539.5 1456.3,544.5 1456.3,561 1388.6,556 1339.1,547.8 1309.4,539.5" fill="#40D0FF" stroke="#40D0FF" stroke-width="0.6"/>
<polygon points="925,509.5 944.8,526 974.5,545.8 1007.6,565.6 1043.9,582.1 1034,595.3 1017.5,608.5 1004.2,631.6 1004.2,686.4 925,686.4" fill="#38B8FF" stroke="#38B8FF" stroke-width="0.6"/>
<polygon points="996,253 1007.6,279.4 1024.1,309.1 1037.3,338.8 1050.5,365.2 1063.7,391.6 1076.9,418 1080.2,444.4 1070.3,467.6 1050.5,484.1 1034,503.9 1037.3,523.7 1057.1,543.5 1083.5,560 1109.9,569.9 1136.3,571.5 1162.7,566.6 1189.2,558.3 1209,546.8 1228.8,533.6 1248.6,522 1271.7,512.1 1291.5,496.6 1308,507.2 1354.3,509.8 1403.8,512.1 1456.3,513.8 1456.3,253" fill="#40FAFF" stroke="#40FAFF" stroke-width="0.6"/>
<polygon points="1020.8,253 1030.7,279.4 1043.9,305.8 1063.7,328.9 1080.2,352 1090.1,378.4 1100,404.8 1100,431.2 1093.4,451 1080.2,477.5 1070.3,503.9 1073.6,527 1090.1,543.5 1116.5,553.4 1142.9,553.4 1169.4,546.8 1189.2,536.9 1205.7,520.4 1222.2,507.2 1242,494 1268.4,484.1 1294.8,477.5 1308,470.9 1327.9,480.8 1354.3,490.7 1380.7,500.6 1403.8,507.2 1456.3,513.8 1456.3,437.8 1440.1,437.8 1426.9,431.2 1423.6,421.3 1433.5,414.7 1456.3,411.4 1456.3,253" fill="#40FFDC" stroke="#40FFDC" stroke-width="0.6"/>
<polygon points="1045.5,253 1136.3,253 1152.8,269.5 1169.4,295.9 1185.9,309.1 1222.2,302.5 1271.7,299.2 1321.2,286 1354.3,272.8 1387.3,264.6 1420.3,259.6 1456.3,256.3 1456.3,383.4 1420.3,385 1387.3,383.4 1354.3,385 1308,385 1271.7,391.6 1222.2,398.2 1172.7,398.2 1136.3,394.9 1116.5,394.9 1106.6,368.5 1096.7,338.8 1083.5,319 1063.7,302.5 1047.2,286 1043.9,266.2" fill="#40FFAC" stroke="#40FFAC" stroke-width="0.6"/>
<polygon points="1169.4,421.3 1185.9,414.7 1205.7,424.6 1222.2,441.1 1232.1,457.7 1228.8,477.5 1215.6,497.3 1189.2,507.2 1169.4,517.1 1156.1,527 1129.7,530.3 1113.2,527 1108.3,510.5 1113.2,494 1129.7,484.1 1149.5,474.2 1159.4,454.3 1162.7,437.8" fill="#40FFAC" stroke="#40FFAC" stroke-width="0.6"/>
<polygon points="1351,454.3 1387.3,451 1456.3,449.4 1456.3,512.1 1420.3,507.2 1387.3,490.7 1364.2,474.2" fill="#40FFAC" stroke="#40FFAC" stroke-width="0.6"/>
<polygon points="1265.1,332.2 1304.7,319 1337.8,305.8 1354.3,292.6 1387.3,276.1 1420.3,266.2 1456.3,261.3 1456.3,365.2 1420.3,371.8 1387.3,381.7 1337.8,385 1308,383.4 1284.9,368.5 1271.7,348.7" fill="#40FF50" stroke="#40FF50" stroke-width="0.6"/>
<polygon points="1390.6,480.8 1407.1,467.6 1433.5,462.6 1456.3,461 1456.3,507.2 1433.5,503.9 1410.4,494" fill="#40FF50" stroke="#40FF50" stroke-width="0.6"/>
<polygon points="1403.8,287.7 1426.9,279.4 1456.3,276.1 1456.3,332.2 1426.9,330.6 1403.8,328.9" fill="#64FF40" stroke="#64FF40" stroke-width="0.6"/>
<polygon points="1413.7,480.8 1433.5,470.9 1456.3,469.2 1456.3,498.9 1433.5,496.6" fill="#64FF40" stroke="#64FF40" stroke-width="0.6"/>
<polygon points="1426.9,484.1 1440.1,477.5 1456.3,475.8 1456.3,494 1440.1,492.3" fill="#8CFF40" stroke="#8CFF40" stroke-width="0.6"/>
<path d="M925 686.4L925 631.9L1060.4 631.9L1060.4 637.5L1089.1 637.5L1089.1 641.8L1116.5 641.8L1116.5 647.1L1169.4 647.1L1169.4 651.4L1184.2 651.4L1184.2 647.1L1209 647.1L1209 646.5L1334.5 646.5L1334.5 651.4L1360.9 651.4L1360.9 656.4L1456.6 656.4L1456.3 686.4Z" fill="#fff"/>
<path d="M932.6 280.7L915.7 291.3M915.7 291.3L906.9 286.3M919.1 289.1L910.4 284.1M922.6 287L918.2 284.5M960.1 281L942.8 291M942.8 291L934.3 285.7M946.4 289L937.8 283.6M949.9 286.9L945.6 284.3M987.7 281.3L970 290.7M970 290.7L961.7 285M973.6 288.8L965.3 283.1M977.2 286.9L973 284M1015.2 281.7L997.2 290.4M997.2 290.4L989.1 284.4M1000.9 288.6L992.7 282.6M1004.5 286.8L1000.5 283.8M1042.7 282L1024.4 290M1024.4 290L1016.5 283.8M1028.1 288.4L1020.2 282.2M1031.9 286.7L1027.9 283.6M1070.2 282.3L1051.6 289.7M1051.6 289.7L1043.9 283.2M1055.4 288.2L1047.7 281.7M1097.7 282.6L1078.9 289.4M1078.9 289.4L1071.4 282.6M1082.7 288L1075.2 281.2M1125.1 283L1106.1 289M1106.1 289L1098.9 282M1110 287.8L1102.8 280.7M1152.6 283.3L1133.4 288.7M1133.4 288.7L1126.4 281.4M1137.3 287.6L1130.3 280.3M1180 283.7L1160.6 288.3M1160.6 288.3L1153.9 280.8M1164.6 287.4L1157.9 279.8M1207.5 284L1187.9 288M1187.9 288L1181.5 280.3M1191.9 287.2L1185.4 279.5M1234.8 284.1L1215.2 287.9M1215.2 287.9L1208.9 280.1M1219.2 287.1L1212.9 279.3M1262.2 284.3L1242.6 287.8M1242.6 287.8L1236.3 279.8M1246.6 287L1240.3 279.1M1289.6 284.4L1269.9 287.6M1269.9 287.6L1263.8 279.6M1273.9 287L1267.8 278.9M1277.9 286.3L1274.9 282.3M1317 284.5L1297.2 287.5M1297.2 287.5L1291.2 279.4M1301.3 286.9L1295.3 278.8M1305.3 286.3L1302.3 282.2M1344.3 284.7L1324.6 287.4M1324.6 287.4L1318.7 279.2M1328.6 286.8L1322.7 278.6M1332.6 286.3L1329.7 282.2M1371.7 284.8L1351.9 287.2M1351.9 287.2L1346.1 279M1355.9 286.7L1350.1 278.5M1360 286.2L1357.1 282.1M1399.1 284.9L1379.2 287.1M1379.2 287.1L1373.5 278.8M1383.3 286.7L1377.6 278.4M1387.3 286.2L1381.6 277.9M1426.5 285L1406.6 287M1406.6 287L1401 278.7M1410.6 286.6L1405 278.2M1414.7 286.2L1409.1 277.8M1453.8 285.1L1433.9 286.9M1433.9 286.9L1428.4 278.5M1438 286.6L1432.5 278.1M1442 286.2L1436.5 277.7M932.7 324.6L915.5 334.8M915.5 334.8L906.9 329.6M919.1 332.7L910.4 327.5M960.2 324.9L942.8 334.5M942.8 334.5L934.3 329M946.3 332.6L937.9 327.1M987.7 325.2L970 334.3M970 334.3L961.7 328.5M973.6 332.4L965.3 326.6M1015.2 325.4L997.2 334M997.2 334L989.1 328M1000.9 332.2L992.8 326.2M1042.7 325.7L1024.4 333.7M1024.4 333.7L1016.5 327.4M1028.1 332.1L1020.2 325.8M1070.2 326L1051.6 333.4M1051.6 333.4L1043.9 326.9M1055.4 331.9L1047.7 325.4M1097.6 326.3L1078.9 333.1M1078.9 333.1L1071.4 326.4M1082.7 331.7L1075.2 325M1125.1 326.6L1106.1 332.8M1106.1 332.8L1098.9 325.9M1110 331.6L1102.7 324.6M1152.5 326.9L1133.4 332.5M1133.4 332.5L1126.3 325.3M1137.3 331.4L1130.2 324.2M1180 327.2L1160.7 332.2M1160.7 332.2L1153.8 324.8M1164.6 331.2L1157.8 323.8M1207.4 327.4L1188 332M1188 332L1181.3 324.4M1191.9 331.1L1185.3 323.5M1234.8 327.6L1215.3 331.8M1215.3 331.8L1208.8 324.1M1219.3 331L1212.7 323.3M1262.2 327.7L1242.6 331.7M1242.6 331.7L1236.2 323.9M1246.6 330.9L1240.2 323.1M1289.6 327.9L1269.9 331.6M1269.9 331.6L1263.6 323.7M1273.9 330.8L1267.6 322.9M1316.9 328L1297.3 331.4M1297.3 331.4L1291.1 323.5M1301.3 330.7L1295.1 322.8M1305.3 330L1302.2 326M1344.3 328.1L1324.6 331.3M1324.6 331.3L1318.5 323.3M1328.6 330.7L1322.5 322.6M1332.6 330L1329.6 326M1371.7 328.2L1351.9 331.2M1351.9 331.2L1345.9 323.1M1356 330.6L1350 322.5M1360 330L1357 325.9M1399.1 328.3L1379.3 331.1M1379.3 331.1L1373.3 322.9M1383.3 330.5L1377.4 322.4M1387.3 330L1384.4 325.9M1426.4 328.4L1406.6 331M1406.6 331L1400.8 322.8M1410.7 330.5L1404.8 322.3M1414.7 330L1411.8 325.8M1453.8 328.5L1434 330.9M1434 330.9L1428.2 322.6M1438 330.4L1432.2 322.2M1442.1 329.9L1436.3 321.7M932.8 368.7L915.4 378.5M915.4 378.5L906.9 373.1M919 376.5L910.5 371.1M960.3 369L942.7 378.3M942.7 378.3L934.3 372.6M946.3 376.4L937.9 370.7M987.8 369.2L969.9 378.1M969.9 378.1L961.7 372.2M973.5 376.2L965.4 370.4M1015.3 369.4L997.1 377.8M997.1 377.8L989.1 371.7M1000.8 376.1L992.8 370M1042.7 369.7L1024.4 377.6M1024.4 377.6L1016.5 371.3M1028.1 376L1020.3 369.7M1070.2 369.9L1051.6 377.3M1051.6 377.3L1043.9 370.8M1055.4 375.8L1051.6 372.6M1097.6 370.2L1078.9 377.1M1078.9 377.1L1071.4 370.4M1082.7 375.7L1075.2 369M1125.1 370.4L1106.2 376.8M1106.2 376.8L1098.8 369.9M1110 375.5L1102.7 368.6M1152.5 370.7L1133.4 376.6M1133.4 376.6L1126.3 369.5M1137.3 375.4L1130.2 368.3M1179.9 370.9L1160.7 376.3M1160.7 376.3L1153.7 369.1M1164.6 375.2L1157.7 368M1207.4 371.1L1188 376.1M1188 376.1L1181.2 368.7M1192 375.1L1185.2 367.7M1234.7 371.3L1215.3 376M1215.3 376L1208.6 368.4M1219.3 375L1212.6 367.5M1262.1 371.4L1242.7 375.8M1242.7 375.8L1236.1 368.2M1246.6 374.9L1240 367.3M1289.5 371.6L1270 375.7M1270 375.7L1263.5 368M1274 374.9L1267.5 367.1M1316.9 371.7L1297.3 375.6M1297.3 375.6L1290.9 367.7M1301.3 374.8L1294.9 366.9M1344.3 371.8L1324.6 375.4M1324.6 375.4L1318.4 367.5M1328.6 374.7L1322.4 366.8M1371.6 371.9L1352 375.4M1352 375.4L1345.8 367.4M1356 374.7L1349.8 366.7M1399 372L1379.3 375.3M1379.3 375.3L1373.2 367.3M1383.3 374.6L1377.2 366.6M1387.4 373.9L1384.3 369.9M1426.4 372.1L1406.7 375.2M1406.7 375.2L1400.6 367.1M1410.7 374.6L1404.6 366.5M1414.7 373.9L1411.7 369.9M1453.7 372.1L1434 375.1M1434 375.1L1428 367M1438 374.5L1432 366.4M1442.1 373.9L1439.1 369.8M932.9 403.7L915.3 413.1M915.3 413.1L907 407.4M918.9 411.1L914.7 408.3M960.4 403.9L942.6 412.9M942.6 412.9L934.3 407.1M946.2 411L942.1 408.1M987.9 404.1L969.8 412.7M969.8 412.7L961.7 406.7M973.5 410.9L969.5 407.9M1015.3 404.3L997.1 412.5M997.1 412.5L989.1 406.3M1000.8 410.8L996.8 407.7M1042.7 404.5L1024.4 412.3M1024.4 412.3L1016.5 405.9M1028.1 410.7L1024.2 407.5M1070.2 404.6L1051.6 412.1M1051.6 412.1L1043.9 405.6M1055.4 410.6L1051.6 407.3M1097.6 404.9L1078.9 411.9M1078.9 411.9L1071.3 405.2M1082.7 410.4L1078.9 407.1M1125 405.1L1106.2 411.7M1106.2 411.7L1098.8 404.9M1110 410.3L1106.3 406.9M1152.5 405.3L1133.5 411.5M1133.5 411.5L1126.2 404.5M1137.4 410.2L1133.7 406.7M1179.9 405.5L1160.8 411.3M1160.8 411.3L1153.7 404.1M1164.7 410.1L1157.6 402.9M1207.3 405.7L1188.1 411.1M1188.1 411.1L1181.1 403.8M1192 410L1185 402.7M1234.7 405.8L1215.4 410.9M1215.4 410.9L1208.5 403.6M1219.3 409.9L1212.5 402.5M1262.1 405.9L1242.7 410.8M1242.7 410.8L1235.9 403.3M1246.7 409.8L1239.9 402.3M1289.5 406.1L1270 410.7M1270 410.7L1263.4 403.1M1274 409.7L1267.3 402.2M1316.8 406.2L1297.4 410.5M1297.4 410.5L1290.8 402.9M1301.3 409.6L1294.8 402M1344.2 406.3L1324.7 410.4M1324.7 410.4L1318.2 402.7M1328.7 409.6L1322.2 401.8M1371.6 406.4L1352 410.3M1352 410.3L1345.6 402.6M1356 409.5L1349.6 401.7M1399 406.5L1379.4 410.3M1379.4 410.3L1373 402.4M1383.4 409.5L1377 401.7M1426.3 406.5L1406.7 410.2M1406.7 410.2L1400.4 402.3M1410.7 409.5L1404.4 401.6M1453.7 406.6L1434 410.1M1434 410.1L1427.8 402.2M1438.1 409.4L1431.8 401.5M933 430.3L915.3 439.4M915.3 439.4L907 433.7M918.9 437.6L914.7 434.7M960.5 430.5L942.5 439.2M942.5 439.2L934.4 433.3M946.2 437.5L942.1 434.5M987.9 430.6L969.8 439.1M969.8 439.1L961.7 433M973.5 437.3L969.5 434.3M1015.3 430.8L997.1 438.9M997.1 438.9L989.1 432.6M1000.8 437.2L996.8 434.1M1042.8 431L1024.3 438.7M1024.3 438.7L1016.5 432.3M1028.1 437.1L1024.2 433.9M1070.2 431.2L1051.6 438.5M1051.6 438.5L1044 431.9M1055.4 437L1051.6 433.7M1097.6 431.4L1078.9 438.3M1078.9 438.3L1071.4 431.6M1082.7 436.9L1079 433.5M1125.1 431.6L1106.2 438.1M1106.2 438.1L1098.8 431.2M1110 436.8L1106.3 433.3M1152.5 431.8L1133.5 437.9M1133.5 437.9L1126.2 430.9M1137.3 436.7L1133.7 433.1M1179.9 432L1160.8 437.7M1160.8 437.7L1153.7 430.5M1164.7 436.5L1161.1 433M1207.3 432.2L1188.1 437.5M1188.1 437.5L1181.1 430.2M1192 436.4L1188.5 432.8M1234.7 432.3L1215.4 437.4M1215.4 437.4L1208.5 430M1219.3 436.4L1212.5 428.9M1262.1 432.5L1242.7 437.2M1242.7 437.2L1236 429.7M1246.7 436.3L1239.9 428.7M1289.5 432.6L1270 437.1M1270 437.1L1263.4 429.5M1274 436.2L1267.4 428.6M1316.9 432.8L1297.3 436.9M1297.3 436.9L1290.8 429.2M1301.3 436.1L1294.8 428.4M1344.2 432.9L1324.7 436.8M1324.7 436.8L1318.3 429M1328.7 436L1322.3 428.2M1371.6 433L1352 436.7M1352 436.7L1345.7 428.9M1356 436L1349.7 428.1M1399 433L1379.3 436.7M1379.3 436.7L1373.1 428.8M1383.4 435.9L1377.1 428M1426.3 433.1L1406.7 436.6M1406.7 436.6L1400.5 428.7M1410.7 435.9L1404.5 428M1453.7 433.2L1434 436.5M1434 436.5L1427.9 428.6M1438.1 435.9L1431.9 427.9M933.1 456.2L915.2 465.1M915.2 465.1L907 459.2M960.5 456.3L942.5 464.9M942.5 464.9L934.4 458.9M946.2 463.2L942.1 460.2M987.9 456.5L969.7 464.7M969.7 464.7L961.8 458.6M973.5 463.1L969.5 460M1015.4 456.7L997 464.6M997 464.6L989.2 458.2M1000.8 463L996.8 459.8M1042.8 456.9L1024.3 464.4M1024.3 464.4L1016.6 457.9M1028.1 462.8L1024.2 459.6M1070.2 457.1L1051.6 464.2M1051.6 464.2L1044 457.6M1055.4 462.7L1051.6 459.4M1097.7 457.3L1078.9 464M1078.9 464L1071.4 457.2M1082.7 462.6L1079 459.2M1125.1 457.4L1106.2 463.8M1106.2 463.8L1098.8 456.9M1110 462.5L1106.4 459.1M1152.5 457.6L1133.4 463.6M1133.4 463.6L1126.3 456.6M1137.3 462.4L1133.7 458.9M1179.9 457.8L1160.7 463.4M1160.7 463.4L1153.7 456.2M1164.7 462.3L1161.1 458.7M1207.3 458L1188 463.3M1188 463.3L1181.1 455.9M1192 462.2L1188.5 458.5M1234.7 458.2L1215.4 463.1M1215.4 463.1L1208.6 455.6M1219.3 462.1L1215.9 458.4M1262.1 458.3L1242.7 462.9M1242.7 462.9L1236 455.4M1246.6 462L1240 454.4M1289.5 458.5L1270 462.8M1270 462.8L1263.4 455.1M1274 461.9L1267.4 454.2M1316.9 458.6L1297.3 462.6M1297.3 462.6L1290.9 454.9M1301.3 461.8L1294.9 454M1344.3 458.8L1324.6 462.5M1324.6 462.5L1318.3 454.7M1328.7 461.7L1322.3 453.9M1371.6 458.8L1352 462.4M1352 462.4L1345.7 454.5M1356 461.7L1349.7 453.8M1399 458.9L1379.3 462.4M1379.3 462.4L1373.1 454.4M1383.3 461.7L1377.1 453.7M1426.4 459L1406.7 462.3M1406.7 462.3L1400.5 454.3M1410.7 461.6L1404.5 453.6M1453.7 459L1434 462.2M1434 462.2L1427.9 454.2M1438 461.6L1431.9 453.5M933.1 477.8L915.1 486.5M915.1 486.5L907 480.5M960.6 478L942.4 486.3M942.4 486.3L934.4 480.2M988 478.1L969.7 486.1M969.7 486.1L961.8 479.9M1015.4 478.3L997 486M997 486L989.2 479.5M1042.8 478.5L1024.3 485.8M1024.3 485.8L1016.6 479.2M1070.3 478.7L1051.5 485.6M1051.5 485.6L1044 478.9M1055.4 484.2L1051.6 480.8M1097.7 478.8L1078.8 485.4M1078.8 485.4L1071.4 478.6M1082.7 484.1L1079 480.7M1125.1 479L1106.1 485.2M1106.1 485.2L1098.9 478.3M1110 484L1106.4 480.5M1152.5 479.2L1133.4 485.1M1133.4 485.1L1126.3 478M1137.3 483.9L1133.8 480.3M1179.9 479.4L1160.7 484.9M1160.7 484.9L1153.7 477.6M1164.6 483.8L1161.1 480.1M1207.3 479.5L1188 484.7M1188 484.7L1181.2 477.3M1192 483.7L1188.5 480M1234.7 479.7L1215.3 484.5M1215.3 484.5L1208.6 477.1M1219.3 483.6L1215.9 479.8M1262.1 479.9L1242.7 484.4M1242.7 484.4L1236 476.8M1246.6 483.5L1240 475.9M1289.5 480L1270 484.2M1270 484.2L1263.5 476.5M1274 483.4L1267.5 475.6M1316.9 480.2L1297.3 484M1297.3 484L1290.9 476.2M1301.3 483.3L1294.9 475.4M1344.3 480.3L1324.6 483.9M1324.6 483.9L1318.4 476M1328.6 483.2L1322.4 475.3M1371.6 480.4L1352 483.8M1352 483.8L1345.8 475.9M1356 483.1L1349.8 475.2M1399 480.5L1379.3 483.8M1379.3 483.8L1373.2 475.8M1383.3 483.1L1377.2 475.1M1426.4 480.5L1406.7 483.7M1406.7 483.7L1400.6 475.7M1410.7 483.1L1404.6 475M1453.7 480.6L1434 483.6M1434 483.6L1428 475.5M1438 483L1432 474.9M933.2 499L915.1 507.4M915.1 507.4L907 501.4M960.6 499.2L942.4 507.3M942.4 507.3L934.4 501.1M988 499.3L969.7 507.1M969.7 507.1L961.8 500.8M1015.5 499.5L996.9 506.9M996.9 506.9L989.2 500.5M1042.9 499.7L1024.2 506.8M1024.2 506.8L1016.6 500.2M1070.3 499.8L1051.5 506.6M1051.5 506.6L1044 499.8M1097.7 500L1078.8 506.4M1078.8 506.4L1071.5 499.5M1082.7 505.1L1079 501.7M1125.1 500.2L1106.1 506.3M1106.1 506.3L1098.9 499.2M1110 505L1106.4 501.5M1152.5 500.3L1133.4 506.1M1133.4 506.1L1126.3 498.9M1137.3 504.9L1133.8 501.3M1179.9 500.5L1160.7 505.9M1160.7 505.9L1153.7 498.6M1164.6 504.8L1161.2 501.2M1207.3 500.7L1188 505.8M1188 505.8L1181.2 498.3M1192 504.7L1188.5 501M1234.7 500.9L1215.3 505.6M1215.3 505.6L1208.6 498.1M1219.3 504.6L1215.9 500.9M1262.1 501L1242.7 505.4M1242.7 505.4L1236.1 497.8M1246.6 504.5L1243.3 500.7M1289.5 501.2L1270 505.2M1270 505.2L1263.5 497.5M1274 504.4L1267.5 496.6M1316.9 501.4L1297.3 505.1M1297.3 505.1L1291 497.2M1301.3 504.3L1295 496.4M1344.3 501.5L1324.6 504.9M1324.6 504.9L1318.4 497M1328.6 504.2L1322.4 496.3M1371.7 501.6L1352 504.9M1352 504.9L1345.8 496.8M1356 504.2L1349.9 496.2M1399 501.7L1379.3 504.8M1379.3 504.8L1373.2 496.7M1383.3 504.1L1377.3 496.1M1426.4 501.7L1406.6 504.7M1406.6 504.7L1400.6 496.6M1410.7 504.1L1404.7 496M1453.8 501.8L1434 504.6M1434 504.6L1428 496.5M1438 504.1L1432.1 495.9M933.1 518L915.2 526.7M915.2 526.7L907 520.8M960.5 518.1L942.5 526.6M942.5 526.6L934.4 520.6M987.9 518.3L969.7 526.5M969.7 526.5L961.8 520.3M1015.4 518.4L997 526.3M997 526.3L989.2 520M1042.8 518.6L1024.3 526.2M1024.3 526.2L1016.5 519.8M1070.2 518.7L1051.6 526M1051.6 526L1043.9 519.5M1097.7 519L1078.9 525.8M1078.9 525.8L1071.4 519M1125.1 519.2L1106.1 525.5M1106.1 525.5L1098.8 518.5M1110 524.2L1106.4 520.7M1152.5 519.5L1133.4 525.2M1133.4 525.2L1126.3 518.1M1137.3 524.1L1133.8 520.5M1180 519.8L1160.7 525M1160.7 525L1153.8 517.6M1164.6 523.9L1161.2 520.2M1207.4 520L1188 524.7M1188 524.7L1181.3 517.2M1191.9 523.8L1188.6 520M1234.8 520.2L1215.3 524.5M1215.3 524.5L1208.7 516.9M1219.3 523.7L1216 519.8M1262.2 520.4L1242.6 524.3M1242.6 524.3L1236.2 516.5M1246.6 523.5L1243.4 519.6M1289.6 520.6L1269.9 524.1M1269.9 524.1L1263.7 516.2M1273.9 523.4L1270.8 519.5M1317 520.8L1297.2 523.9M1297.2 523.9L1291.2 515.9M1301.3 523.3L1295.2 515.2M1344.3 521L1324.6 523.8M1324.6 523.8L1318.6 515.6M1328.6 523.2L1322.7 515.1M1371.7 521.1L1351.9 523.7M1351.9 523.7L1346.1 515.5M1356 523.1L1350.1 514.9M1399.1 521.2L1379.3 523.6M1379.3 523.6L1373.5 515.3M1383.3 523.1L1377.5 514.8M1426.4 521.3L1406.6 523.5M1406.6 523.5L1400.9 515.1M1410.6 523L1405 514.7M1453.8 521.4L1433.9 523.3M1433.9 523.3L1428.4 514.9M1438 522.9L1432.4 514.5M933 537.1L915.2 546.2M915.2 546.2L907 540.4M960.4 537.2L942.5 546M942.5 546L934.3 540.2M987.9 537.3L969.8 545.9M969.8 545.9L961.7 539.9M1015.3 537.4L997.1 545.8M997.1 545.8L989.1 539.7M1042.7 537.6L1024.4 545.7M1024.4 545.7L1016.5 539.5M1070.1 537.7L1051.7 545.5M1051.7 545.5L1043.9 539.2M1097.6 538.1L1078.9 545.2M1078.9 545.2L1071.3 538.6M1125.1 538.4L1106.2 544.8M1106.2 544.8L1098.8 538M1110 543.5L1106.3 540.1M1152.5 538.8L1133.4 544.5M1133.4 544.5L1126.3 537.3M1137.3 543.3L1133.8 539.7M1180 539.1L1160.7 544.1M1160.7 544.1L1153.8 536.7M1164.6 543.1L1161.2 539.4M1207.4 539.4L1187.9 543.8M1187.9 543.8L1181.4 536.2M1191.9 542.9L1188.6 539.1M1234.8 539.7L1215.2 543.6M1215.2 543.6L1208.9 535.8M1219.2 542.8L1216 538.9M1262.2 539.9L1242.6 543.4M1242.6 543.4L1236.3 535.4M1246.6 542.7L1243.5 538.7M1289.6 540.1L1269.9 543.1M1269.9 543.1L1263.8 535.1M1273.9 542.5L1270.9 538.5M1317 540.3L1297.2 542.9M1297.2 542.9L1291.4 534.7M1301.2 542.4L1298.3 538.3M1344.4 540.5L1324.5 542.7M1324.5 542.7L1318.8 534.4M1328.6 542.3L1325.7 538.1M1371.7 540.7L1351.9 542.6M1351.9 542.6L1346.3 534.2M1355.9 542.2L1353.1 538M1399.1 540.8L1379.2 542.4M1379.2 542.4L1373.8 534M1383.3 542.1L1380.6 537.9M1426.5 541L1406.6 542.3M1406.6 542.3L1401.2 533.7M1410.6 542L1408 537.7M1453.8 541.1L1433.9 542.2M1433.9 542.2L1428.7 533.5M1438 541.9L1435.4 537.6M932.9 553.7L915.3 563.1M915.3 563.1L907 557.5M960.4 553.8L942.6 563M942.6 563L934.3 557.3M987.8 553.9L969.9 562.9M969.9 562.9L961.7 557.1M1015.2 554L997.2 562.8M997.2 562.8L989.1 556.9M1042.6 554.1L1024.5 562.7M1024.5 562.7L1016.4 556.7M1070 554.3L1051.8 562.6M1051.8 562.6L1043.8 556.5M1097.5 554.7L1079 562.2M1079 562.2L1071.3 555.7M1125 555.1L1106.2 561.7M1106.2 561.7L1098.8 554.9M1152.5 555.6L1133.4 561.3M1133.4 561.3L1126.3 554.1M1137.3 560.1L1133.8 556.5M1180 556L1160.6 560.8M1160.6 560.8L1153.9 553.4M1164.6 559.9L1161.2 556.1M1207.5 556.4L1187.9 560.4M1187.9 560.4L1181.5 552.7M1191.9 559.6L1188.7 555.7M1234.9 556.7L1215.2 560.2M1215.2 560.2L1209 552.3M1219.2 559.5L1216.1 555.5M1262.3 556.9L1242.5 560M1242.5 560L1236.5 551.9M1246.6 559.3L1243.5 555.3M1289.6 557.2L1269.8 559.7M1269.8 559.7L1264 551.5M1273.9 559.2L1271 555.1M1317 557.4L1297.2 559.5M1297.2 559.5L1291.5 551.1M1301.2 559L1298.4 554.9M1344.4 557.6L1324.5 559.2M1324.5 559.2L1319.1 550.7M1328.6 558.9L1325.8 554.7M1371.8 557.8L1351.8 559.1M1351.8 559.1L1346.6 550.5M1355.9 558.8L1353.3 554.5M1399.1 558L1379.2 558.9M1379.2 558.9L1374.1 550.2M1383.3 558.7L1380.7 554.4M1426.5 558.2L1406.5 558.7M1406.5 558.7L1401.6 549.9M1410.6 558.6L1408.1 554.2M1453.9 558.4L1433.9 558.5M1433.9 558.5L1429.1 549.7M1438 558.5L1435.6 554.1M920.2 572.2L900.6 576.2M900.6 576.2L894.2 568.4M947.5 572.1L928 576.3M928 576.3L921.5 568.6M974.8 571.9L955.4 576.6M955.4 576.6L948.7 569M1002.1 571.6L982.9 576.8M982.9 576.8L976 569.5M1029.4 571.4L1010.3 577.1M1010.3 577.1L1003.2 569.9M1056.7 571.2L1037.7 577.3M1037.7 577.3L1030.5 570.3M1084.1 571.2L1065.1 577.3M1065.1 577.3L1057.8 570.3M1111.5 571.3L1092.4 577.1M1092.4 577.1L1085.2 570M1138.9 571.5L1119.7 576.9M1119.7 576.9L1112.7 569.7M1166.3 571.7L1147 576.8M1147 576.8L1140.1 569.4M1193.7 571.9L1174.3 576.6M1174.3 576.6L1167.6 569.1M1221.1 572L1201.6 576.4M1201.6 576.4L1195 568.8M1248.5 572.2L1228.9 576.3M1228.9 576.3L1222.5 568.5M1275.9 572.4L1256.2 576.1M1256.2 576.1L1249.9 568.2M1303.2 572.6L1283.6 575.9M1283.6 575.9L1277.4 567.9M1330.6 572.7L1310.9 575.7M1310.9 575.7L1304.9 567.6M1358 572.9L1338.2 575.6M1338.2 575.6L1332.3 567.4M1385.4 573L1365.6 575.5M1365.6 575.5L1359.8 567.2M1412.7 573.1L1392.9 575.3M1392.9 575.3L1387.2 567M1440.1 573.2L1420.2 575.2M1420.2 575.2L1414.6 566.8M1467.5 573.4L1447.6 575.1M1447.6 575.1L1442.1 566.6M934.1 587.8L914.2 586.1M918.2 586.4L916.3 581.8M961.5 587.2L941.5 586.7M945.6 586.8L943.3 582.3M988.8 586.6L968.9 587.3M972.9 587.2L970.4 582.8M1016.1 586L996.3 587.9M1000.3 587.5L997.5 583.3M1043.4 585.4L1023.7 588.5M1027.7 587.9L1024.7 583.8M1070.7 584.9L1051.1 589.1M1051.1 589.1L1044.7 581.3M1098 584.8L1078.5 589.2M1078.5 589.2L1071.9 581.5M1125.3 584.7L1105.9 589.3M1105.9 589.3L1099.2 581.7M1152.7 584.6L1133.3 589.4M1133.3 589.4L1126.5 581.9M1180 584.5L1160.7 589.5M1160.7 589.5L1153.8 582M1207.3 584.4L1188 589.5M1188 589.5L1181.2 582.1M1234.7 584.5L1215.4 589.4M1215.4 589.4L1208.6 581.9M1262.1 584.6L1242.7 589.3M1242.7 589.3L1236 581.8M1289.5 584.7L1270 589.2M1270 589.2L1263.4 581.6M1316.9 584.8L1297.3 589.1M1297.3 589.1L1290.8 581.4M1344.2 584.9L1324.7 589M1324.7 589L1318.2 581.3M1371.6 585L1352 588.9M1352 588.9L1345.6 581.1M1399 585.1L1379.4 588.9M1379.4 588.9L1373 581M1426.3 585.1L1406.7 588.8M1406.7 588.8L1400.4 580.9M1453.7 585.2L1434 588.7M1434 588.7L1427.8 580.8M919.7 600.4L901.1 593.1M904.9 594.6L904.4 589.6M947.1 600.3L928.5 593.2M932.3 594.6L931.6 589.6M974.6 600.1L955.7 593.4M959.6 594.8L958.8 589.8M1002 599.9L983 593.6M986.9 594.9L986 589.9M1029.4 599.6L1010.3 593.8M1014.2 595L1013.2 590.1M1056.8 599.4L1037.6 594.1M1041.5 595.2L1040.4 590.2M1084.2 599.2L1064.9 594.3M1068.8 595.3L1067.6 590.4M1111.7 598.9L1092.2 594.6M1096.1 595.5L1094.8 590.6M1139.1 598.6L1119.5 594.8M1123.5 595.6L1122 590.8M1166.5 598.4L1146.8 595.1M1150.8 595.8L1149.2 591M1193.9 598.1L1174.1 595.4M1178.1 595.9L1176.4 591.2M1221.3 597.7L1201.4 595.7M1201.4 595.7L1197.6 586.4M1248.7 597.4L1228.7 596.1M1228.7 596.1L1224.5 587M1276 597L1256.1 596.5M1256.1 596.5L1251.5 587.5M1303.4 596.6L1283.4 596.9M1283.4 596.9L1278.5 588.1M1330.7 596.2L1310.8 597.3M1310.8 597.3L1305.5 588.7M1358.1 596L1338.2 597.5M1338.2 597.5L1332.7 589M1385.4 595.8L1365.5 597.7M1365.5 597.7L1359.9 589.3M1412.7 595.6L1392.9 597.9M1392.9 597.9L1387.1 589.6M1440.1 595.4L1420.3 598.1M1420.3 598.1L1414.4 590M1467.4 595.2L1447.7 598.3M1447.7 598.3L1441.6 590.2M932 612L916.3 599.7M916.3 599.7L918 589.7M959.3 612.1L943.7 599.6M946.9 602.1L947.8 597.2M986.5 612.2L971.2 599.4M974.3 602L975.3 597.1M1013.8 612.3L998.6 599.3M1001.7 602L1002.8 597.1M1041.1 612.4L1026 599.2M1029.1 601.9L1030.3 597M1068.4 612.5L1053.5 599.2M1056.5 601.9L1057.7 597M1096 612.1L1080.5 599.5M1083.7 602.1L1084.7 597.1M1123.6 611.8L1107.6 599.8M1110.9 602.3L1111.7 597.3M1151.2 611.4L1134.7 600.2M1138.1 602.5L1138.6 597.5M1178.8 611.1L1161.8 600.5M1165.3 602.7L1165.6 597.7M1206.4 610.6L1188.9 601M1192.5 603L1192.6 597.9M1234.2 609.8L1215.9 601.8M1219.6 603.5L1219.2 598.4M1261.9 609L1242.9 602.7M1246.8 603.9L1245.9 599M1289.5 608.1L1270 603.5M1274 604.5L1272.7 599.6M1317 607.2L1297.2 604.4M1297.2 604.4L1293.8 594.9M1344.4 606.5L1324.5 605.1M1324.5 605.1L1320.4 595.9M1371.8 606L1351.8 605.6M1351.8 605.6L1347.3 596.6M1399.1 605.6L1379.2 606.1M1379.2 606.1L1374.2 597.3M1426.5 605.1L1406.6 606.5M1406.6 606.5L1401.2 598M1453.8 604.6L1434 607M1434 607L1428.2 598.7M908.7 624.7L912.2 605M911.5 609.1L916.3 607.5M936.1 624.7L939.5 605M938.8 609.1L943.6 607.5M963.4 624.7L966.9 605M966.2 609.1L971 607.5M990.8 624.7L994.2 605M993.5 609.1L998.3 607.5M1018.1 624.7L1021.6 605M1020.9 609.1L1025.7 607.5M1045.5 624.7L1048.9 605M1048.2 609.1L1053 607.5M1072.8 624.7L1076.3 605M1075.6 609.1L1080.4 607.5M1100.2 624.7L1103.6 605M1102.9 609.1L1107.7 607.5M1127.5 624.7L1131 605M1130.3 609.1L1135.1 607.5M1154.9 624.7L1158.4 605M1157.7 609.1L1162.4 607.5M1182.2 624.7L1185.7 605M1185 609.1L1189.8 607.5M1210.7 624.8L1212 604.9M1211.7 609L1216.3 606.9M1239.5 624.8L1237.9 604.9M1238.2 609L1242.5 606.3M1268.2 624.6L1263.8 605.1M1264.7 609.1L1268.6 605.8M1297 624.2L1289.8 605.6M1291.3 609.4L1294.6 605.6M1325.6 623.6L1315.9 606.2M1317.9 609.7L1320.6 605.5M1354.9 622.2L1341.3 607.5M1344.1 610.5L1345.8 605.8M1383.8 620.4L1367.1 609.4M1370.5 611.6L1371 606.6M1412.2 618.2L1393.4 611.6M1393.4 611.6L1391.9 601.6M1440.1 615.8L1420.2 613.9M1420.2 613.9L1416.4 604.6M1467.4 613.5L1447.6 616.3M1447.6 616.3L1441.7 608.1M922.4 633.8L925.9 614.1M925.2 618.1L930 616.6M949.8 633.8L953.2 614.1M952.5 618.1L957.3 616.6M977.1 633.8L980.6 614.1M979.9 618.1L984.7 616.6M1004.5 633.8L1007.9 614.1M1007.2 618.1L1012 616.6M1031.8 633.8L1035.3 614.1M1034.6 618.1L1039.4 616.6M1059.2 633.8L1062.6 614.1M1061.9 618.1L1066.7 616.6M1086.5 633.8L1090 614.1M1089.3 618.1L1094.1 616.6M1113.9 633.8L1117.4 614.1M1116.6 618.1L1121.4 616.6M1141.2 633.8L1144.7 614.1M1144 618.1L1148.8 616.6M1168.6 633.8L1172.1 614.1M1171.4 618.1L1176.1 616.6M1196.3 633.8L1199.1 614.1M1198.5 618.1L1203.3 616.4M1224.8 633.9L1225.3 614M1225.2 618L1229.7 615.8M1253.4 633.9L1251.4 614M1251.8 618.1L1256 615.3M1281.9 633.7L1277.6 614.2M1278.5 618.2L1282.3 614.9M1310.4 633.4L1303.8 614.5M1305.1 618.4L1308.5 614.7M1339.4 632.6L1329.5 615.3M1331.5 618.8L1334.2 614.6M1368.9 631L1354.7 616.9M1357.6 619.8L1359.1 615M1397.9 628.8L1380.5 619.1M1384 621.1L1384.1 616M1426.2 626.3L1406.8 621.5M1406.8 621.5L1404.4 611.8M1453.9 623.7L1433.9 624.2M1433.9 624.2L1428.9 615.4M908.7 646.1L912.2 626.4M911.5 630.5L916.3 628.9M936.1 646.1L939.5 626.4M938.8 630.5L943.6 628.9M963.4 646.1L966.9 626.4M966.2 630.5L971 628.9M990.8 646.1L994.2 626.4M993.5 630.5L998.3 628.9M1018.1 646.1L1021.6 626.4M1020.9 630.5L1025.7 628.9M1045.5 646.1L1048.9 626.4M1048.2 630.5L1053 628.9M1072.8 646.1L1076.3 626.4M1075.6 630.5L1080.4 628.9M1100.2 646.1L1103.6 626.4M1102.9 630.5L1107.7 628.9M1127.5 646.1L1131 626.4M1130.3 630.5L1135.1 628.9M1154.9 646.1L1158.4 626.4M1157.7 630.5L1162.4 628.9M1182.2 646.1L1185.7 626.4M1185 630.5L1189.8 628.9M1210.3 646.2L1212.3 626.3M1211.9 630.4L1216.6 628.5M1238.7 646.3L1238.7 626.3M1238.7 630.4L1243.1 628M1267 646.2L1265.1 626.3M1265.5 630.4L1269.7 627.6M1295.3 646.1L1291.4 626.5M1292.2 630.5L1296.1 627.3M1323.7 645.8L1317.8 626.7M1319 630.6L1322.6 627.1M1353.5 644.7L1342.7 627.9M1344.9 631.3L1347.4 626.9M1383 642.8L1367.9 629.8M1371 632.4L1372.1 627.5M1412 640.3L1393.7 632.2M1397.4 633.9L1397 628.9M1440.1 637.5L1420.3 635M1424.3 635.5L1422.5 630.8M1467.4 634.7L1447.7 637.8M1447.7 637.8L1441.6 629.8M1113.9 656L1117.4 636.3M1116.6 640.3L1121.4 638.8M1141.2 656L1144.7 636.3M1144 640.3L1148.8 638.8M1168.6 656L1172.1 636.3M1171.4 640.3L1176.1 638.8M1196.1 656L1199.2 636.3M1198.6 640.3L1203.4 638.7M1224.3 656.1L1225.8 636.2M1225.5 640.3L1230.1 638.3M1252.4 656.1L1252.4 636.2M1252.4 640.2L1256.9 637.9M1280.5 656.1L1279 636.2M1279.3 640.3L1283.6 637.6M1308.6 656L1305.6 636.3M1306.2 640.3L1310.3 637.3M1337.6 655.6L1331.3 636.7M1332.6 640.6L1336 636.9M1367.8 654.2L1355.8 638.2M1358.3 641.4L1360.4 636.9M1397.3 651.9L1381 640.4M1384.3 642.8L1385 637.8M1426.1 649.1L1407 643.2M1410.9 644.4L1409.9 639.5M1453.9 645.9L1433.9 646.4M1438 646.3L1435.5 641.9M1182.2 666.7L1185.7 647M1185 651L1189.8 649.5M1351.9 666.1L1344.3 647.6M1345.8 651.4L1349 647.5M1382.2 664.3L1368.8 649.5M1371.5 652.5L1373.2 647.7M1411.6 661.6L1394 652.1M1397.6 654.1L1397.6 649M1440 658.4L1420.3 655.3M1424.3 656L1422.7 651.2M1467.4 655.1L1447.7 658.6M1451.7 657.9L1448.6 653.9M1367.2 672.7L1356.5 655.9M1358.6 659.3L1361.1 654.9M1397 670.4L1381.3 658.1M1384.5 660.7L1385.4 655.7M1426 667.5L1407 661.1M1410.9 662.4L1410.1 657.4M1453.9 664.1L1433.9 664.5M1438 664.4L1435.5 660" fill="none" stroke="#333" stroke-width="1.05" stroke-linecap="butt"/>
</g>
<rect x="925" y="253" width="531.3" height="433.4" fill="none" stroke="#222" stroke-width="1.25"/>
<text transform="translate(896.1 261.1) scale(1.000 1.050)" font-size="22.4" text-anchor="end" fill="#000"  stroke="#000" stroke-width="0.28">200</text>
<text transform="translate(896.1 370.6) scale(1.000 1.050)" font-size="22.4" text-anchor="end" fill="#000"  stroke="#000" stroke-width="0.28">300</text>
<text transform="translate(896.1 508.5) scale(1.000 1.050)" font-size="22.4" text-anchor="end" fill="#000"  stroke="#000" stroke-width="0.28">500</text>
<text transform="translate(896.1 599.4) scale(1.000 1.050)" font-size="22.4" text-anchor="end" fill="#000"  stroke="#000" stroke-width="0.28">700</text>
<text transform="translate(896.1 651.7) scale(1.000 1.050)" font-size="22.4" text-anchor="end" fill="#000"  stroke="#000" stroke-width="0.28">850</text>
<text transform="translate(896.1 674.6) scale(1.000 1.050)" font-size="22.4" text-anchor="end" fill="#000"  stroke="#000" stroke-width="0.28">925</text>
<text transform="translate(1483.1 289.5) scale(1.000 1.050)" font-size="21" text-anchor="start" fill="#000"  stroke="#000" stroke-width="0.28">35</text>
<text transform="translate(1483.1 348.2) scale(1.000 1.050)" font-size="21" text-anchor="start" fill="#000"  stroke="#000" stroke-width="0.28">30</text>
<text transform="translate(1483.1 407) scale(1.000 1.050)" font-size="21" text-anchor="start" fill="#000"  stroke="#000" stroke-width="0.28">25</text>
<text transform="translate(1483.1 465.8) scale(1.000 1.050)" font-size="21" text-anchor="start" fill="#000"  stroke="#000" stroke-width="0.28">20</text>
<text transform="translate(1483.1 524.6) scale(1.000 1.050)" font-size="21" text-anchor="start" fill="#000"  stroke="#000" stroke-width="0.28">15</text>
<text transform="translate(1483.1 583.4) scale(1.000 1.050)" font-size="21" text-anchor="start" fill="#000"  stroke="#000" stroke-width="0.28">10</text>
<text transform="translate(1483.1 642) scale(1.000 1.050)" font-size="21" text-anchor="start" fill="#000"  stroke="#000" stroke-width="0.28">5</text>
<text transform="translate(1483.1 688.4) scale(1.000 1.050)" font-size="21" text-anchor="start" fill="#000"  stroke="#000" stroke-width="0.28">1</text>
<text transform="translate(923 731.7) scale(1.000 1.050)" font-size="22" text-anchor="middle" fill="#000"  stroke="#000" stroke-width="0.28">117.0W</text>
<text transform="translate(923 756.1) scale(1.000 1.050)" font-size="22" text-anchor="middle" fill="#000"  stroke="#000" stroke-width="0.28">40.1N</text>
<text transform="translate(1059.1 731.7) scale(1.000 1.050)" font-size="22" text-anchor="middle" fill="#000"  stroke="#000" stroke-width="0.28">117.0W</text>
<text transform="translate(1059.1 756.1) scale(1.000 1.050)" font-size="22" text-anchor="middle" fill="#000"  stroke="#000" stroke-width="0.28">41.7N</text>
<text transform="translate(1195.2 731.7) scale(1.000 1.050)" font-size="22" text-anchor="middle" fill="#000"  stroke="#000" stroke-width="0.28">117.0W</text>
<text transform="translate(1195.2 756.1) scale(1.000 1.050)" font-size="22" text-anchor="middle" fill="#000"  stroke="#000" stroke-width="0.28">43.3N</text>
<text transform="translate(1331.3 731.7) scale(1.000 1.050)" font-size="22" text-anchor="middle" fill="#000"  stroke="#000" stroke-width="0.28">117.0W</text>
<text transform="translate(1331.3 756.1) scale(1.000 1.050)" font-size="22" text-anchor="middle" fill="#000"  stroke="#000" stroke-width="0.28">44.9N</text>
<path d="M911.1 253H925M911.1 362.4H925M911.1 500.4H925M911.1 591.2H925M911.1 643.6H925M911.1 666.4H925M1456.3 281.8H1470M1456.3 340.6H1470M1456.3 399.4H1470M1456.3 458.2H1470M1456.3 517H1470M1456.3 575.8H1470M1456.3 634.3H1470M1456.3 680.8H1470M925 686.4V699.8M1061.1 686.4V699.8M1197.2 686.4V699.8M1333.3 686.4V699.8" fill="none" stroke="#444" stroke-width="1.15"/>
<text transform="translate(1191 243) scale(1.000 1.075)" font-size="34.1" text-anchor="middle" fill="#000"  stroke="#000" stroke-width="0.4">Curtain 2 (C2)</text>
<rect x="1373.3" y="695.4" width="83.3" height="66.6" fill="#fff" stroke="#888" stroke-width="1"/>
<text transform="translate(1414.9 718.7) scale(1.000 1.040)" font-size="24" text-anchor="middle" fill="#000"  stroke="#000" stroke-width="0.28">30 m/s</text>
<path d="M1424 742.1L1407.5 742.1M1407.5 742.1L1402.3 732.4M1410.1 742.1L1405 732.4M1412.8 742.1L1407.6 732.4" fill="none" stroke="#444" stroke-width="0.8"/>
<clipPath id="cp2"><rect x="256.8" y="953" width="521.5" height="425.4"/></clipPath>
<g clip-path="url(#cp2)">
<rect x="256.8" y="953" width="521.5" height="425.4" fill="#40D0FF"/>
<polygon points="323.2,953 334.6,978.9 350.8,1008.1 367,1027.5 376.7,1050.2 380,1082.6 392.9,1108.5 399.4,1134.4 392.9,1160.4 373.5,1179.8 357.3,1199.2 363.8,1221.9 380,1244.6 396.2,1257.6 425.3,1265.7 483.7,1275.4 518.7,1278 575.1,1284.4 631.8,1292.5 672,1294.2 704.4,1284.4 736.5,1278 778.3,1271.5 778.3,953" fill="#40E6FF" stroke="#40E6FF" stroke-width="0.6"/>
<polygon points="663.9,1211.9 680.1,1202.1 704.4,1202.1 728.4,1208.6 752.7,1220 778.3,1228.1 778.3,1242.6 744.6,1239.4 712.5,1232.9 680.1,1224.8 660.6,1218.3" fill="#40D0FF" stroke="#40D0FF" stroke-width="0.6"/>
<polygon points="256.8,1205.7 282.7,1221.9 315.1,1244.6 354,1260.8 386.4,1270.5 399.4,1280.2 396.2,1293.2 380,1306.2 350.8,1315.9 350.8,1378.4 256.8,1378.4" fill="#38B8FF" stroke="#38B8FF" stroke-width="0.6"/>
<polygon points="354,953 363.8,972.4 380,995.1 396.2,1017.8 402.7,1043.7 405.9,1076.1 418.9,1102 428.6,1134.4 418.9,1160.4 402.7,1179.8 392.9,1199.2 396.2,1221.9 412.4,1238.1 431.8,1251.1 457.8,1255.9 490.2,1254.3 518.7,1242 543,1228.4 567,1212.2 599.4,1199.2 623.7,1189.5 647.7,1185 680.1,1185 712.5,1189.5 744.6,1196 778.3,1205.1 778.3,953" fill="#40FAFF" stroke="#40FAFF" stroke-width="0.6"/>
<polygon points="383.2,953 392.9,978.9 402.7,1001.6 418.9,1024.3 425.3,1050.2 431.8,1076.1 448,1098.8 464.2,1121.5 464.2,1140.9 441.5,1160.4 425.3,1179.8 418.9,1205.7 422.1,1225.2 438.3,1241.4 467.5,1247.8 499.9,1244.6 532.3,1234.9 548.5,1221.9 564.7,1205.7 580.9,1192.8 606.8,1179.8 629.5,1170.1 661.9,1163.6 694.4,1166.8 710.6,1176.6 736.5,1186.3 778.3,1189.5 778.3,953" fill="#40FFDC" stroke="#40FFDC" stroke-width="0.6"/>
<polygon points="749.5,1121.5 762.4,1116.6 778.3,1116.6 778.3,1134.4 762.4,1134.4" fill="#40FAFF" stroke="#40FAFF" stroke-width="0.6"/>
<polygon points="425.3,953 496.6,953 532.3,961.1 564.7,966 597.1,961.1 645.7,956.2 678.1,953 778.3,953 778.3,1082.6 743,1085.8 710.6,1082.6 678.1,1081 645.7,1076.1 613.3,1072.9 580.9,1072.9 548.5,1076.1 529.1,1089.1 516.1,1108.5 506.4,1108.5 499.9,1082.6 483.7,1066.4 457.8,1059.9 444.8,1050.2 438.3,1024.3 425.3,995.1 422.1,972.4" fill="#40FFAC" stroke="#40FFAC" stroke-width="0.6"/>
<polygon points="506.4,1105.3 522.6,1111.8 548.5,1121.5 574.4,1134.4 574.4,1160.4 564.7,1179.8 542,1186.3 516.1,1189.5 490.2,1199.2 467.5,1212.2 444.8,1215.4 443.2,1202.5 457.8,1192.8 477.2,1179.8 490.2,1160.4 499.9,1134.4 503.1,1115" fill="#40FFAC" stroke="#40FFAC" stroke-width="0.6"/>
<polygon points="704.1,1150.6 726.8,1147.4 778.3,1144.2 778.3,1186.3 749.5,1183 726.8,1173.3 710.6,1160.4" fill="#40FFAC" stroke="#40FFAC" stroke-width="0.6"/>
<polygon points="743,1163.6 755.9,1155.5 778.3,1153.9 778.3,1179.8 755.9,1179.8 743,1173.3" fill="#40FF50" stroke="#40FF50" stroke-width="0.6"/>
<polygon points="580.9,988.6 597.1,975.7 629.5,967.6 678.1,959.5 726.8,956.2 778.3,954.6 778.3,1071.3 743,1074.5 710.6,1076.1 678.1,1074.5 645.7,1066.4 613.3,1053.4 593.9,1034 584.2,1011.3" fill="#40FF50" stroke="#40FF50" stroke-width="0.6"/>
<polygon points="618.2,995.1 629.5,982.2 661.9,972.4 710.6,967.6 778.3,966 778.3,1050.2 743,1050.2 710.6,1051.8 678.1,1047 645.7,1037.2 626.3,1021" fill="#64FF40" stroke="#64FF40" stroke-width="0.6"/>
<polygon points="661.9,995.1 674.9,983.8 710.6,977.3 778.3,975.7 778.3,1014.6 743,1016.2 710.6,1019.4 687.9,1014.6 671.7,1006.5" fill="#8CFF40" stroke="#8CFF40" stroke-width="0.6"/>
<path d="M256.8 1378.4L256.8 1317.5L269.8 1317.5L269.8 1324.9L389.7 1324.9L389.7 1329.5L417.2 1329.5L417.2 1334.3L456.1 1334.3L456.1 1324.9L470.7 1324.9L470.7 1315.9L496.6 1315.9L496.6 1308.4L590.6 1308.4L590.6 1315.9L644.1 1315.9L644.1 1324.6L684.6 1324.6L684.6 1329.5L710.6 1329.5L710.6 1334.3L751.1 1334.3L751.1 1339.2L778.6 1339.2L778.3 1378.4Z" fill="#fff"/>
<path d="M264.8 981.3L247.1 989.5M247.1 989.5L239.2 983.6M250.7 987.9L242.8 981.9M254.3 986.2L250.4 983.2M291.8 981.4L273.8 989.4M273.8 989.4L266 983.3M277.5 987.8L269.7 981.7M281.2 986.1L277.3 983.1M318.7 981.6L300.6 989.2M300.6 989.2L292.9 983M304.3 987.7L296.6 981.4M308 986.1L304.1 983M345.6 981.7L327.4 989.1M327.4 989.1L319.8 982.7M331.1 987.6L323.5 981.2M334.8 986.1L331 982.9M372.5 981.9L354.2 988.9M354.2 988.9L346.7 982.4M357.9 987.5L350.5 981M361.7 986L357.9 982.8M399.4 982.1L381 988.7M381 988.7L373.6 982.1M384.7 987.4L377.4 980.7M388.5 986L384.8 982.7M426.4 982.3L407.7 988.5M407.7 988.5L400.6 981.6M411.5 987.2L404.4 980.4M415.3 986L411.8 982.5M453.3 982.6L434.5 988.2M434.5 988.2L427.6 981.1M438.3 987L431.4 980M442.2 985.9L438.7 982.4M480.2 982.9L461.3 987.9M461.3 987.9L454.5 980.7M465.1 986.9L458.4 979.6M469 985.9L465.6 982.2M507.1 983.2L488.1 987.6M488.1 987.6L481.5 980.2M492 986.7L485.4 979.3M495.8 985.8L492.6 982.1M534 983.4L514.9 987.4M514.9 987.4L508.5 979.8M518.8 986.6L512.4 979M522.7 985.8L519.5 982M560.9 983.5L541.7 987.3M541.7 987.3L535.5 979.6M545.6 986.5L539.4 978.8M549.5 985.7L546.4 981.9M587.8 983.7L568.5 987.1M568.5 987.1L562.4 979.3M572.4 986.4L566.3 978.6M576.4 985.7L573.3 981.8M614.7 983.8L595.3 987M595.3 987L589.3 979.1M599.3 986.3L593.3 978.5M603.2 985.7L600.2 981.8M641.5 984L622.2 986.8M622.2 986.8L616.3 978.9M626.1 986.3L620.2 978.3M630.1 985.7L624.2 977.7M668.4 984.1L649 986.7M649 986.7L643.2 978.7M653 986.2L647.2 978.1M656.9 985.6L651.1 977.6M695.3 984.2L675.8 986.6M675.8 986.6L670.1 978.5M679.8 986.1L674.1 978M683.8 985.6L678.1 977.5M722.1 984.3L702.7 986.5M702.7 986.5L697.1 978.4M706.6 986.1L701 977.9M710.6 985.6L705 977.4M749 984.4L729.5 986.4M729.5 986.4L724 978.2M733.5 986L728 977.8M737.5 985.6L731.9 977.4M741.4 985.2L738.7 981.1M775.9 984.5L756.3 986.3M756.3 986.3L750.9 978M760.3 985.9L754.9 977.7M764.3 985.6L758.9 977.3M768.3 985.2L765.6 981.1M264.9 1024.4L247 1032.2M247 1032.2L239.2 1026M250.6 1030.6L242.9 1024.4M291.9 1024.5L273.7 1032.1M273.7 1032.1L266.1 1025.8M277.4 1030.5L269.8 1024.2M318.8 1024.7L300.5 1031.9M300.5 1031.9L293 1025.5M304.3 1030.4L296.7 1024M345.7 1024.8L327.3 1031.8M327.3 1031.8L319.9 1025.3M331.1 1030.4L323.6 1023.9M372.6 1024.9L354.1 1031.7M354.1 1031.7L346.8 1025M357.9 1030.3L350.5 1023.7M399.5 1025.1L380.9 1031.5M380.9 1031.5L373.7 1024.8M384.7 1030.2L377.5 1023.5M426.4 1025.3L407.7 1031.3M407.7 1031.3L400.6 1024.4M411.5 1030.1L404.4 1023.2M453.3 1025.5L434.5 1031.1M434.5 1031.1L427.6 1024M438.3 1030L431.4 1022.9M480.2 1025.7L461.3 1030.9M461.3 1030.9L454.5 1023.7M465.2 1029.8L458.4 1022.6M507.1 1025.9L488.1 1030.7M488.1 1030.7L481.5 1023.3M492 1029.7L485.4 1022.3M495.9 1028.7L492.5 1025.1M534 1026.1L514.9 1030.5M514.9 1030.5L508.4 1023M518.8 1029.6L512.3 1022.1M522.7 1028.7L519.5 1025M560.9 1026.3L541.7 1030.3M541.7 1030.3L535.3 1022.8M545.6 1029.5L539.3 1021.9M549.5 1028.7L546.4 1024.9M587.8 1026.4L568.5 1030.2M568.5 1030.2L562.3 1022.6M572.5 1029.4L566.2 1021.8M576.4 1028.7L573.2 1024.8M614.6 1026.5L595.4 1030.1M595.4 1030.1L589.2 1022.3M599.3 1029.4L593.1 1021.6M603.2 1028.6L600.1 1024.8M641.5 1026.6L622.2 1030M622.2 1030L616.1 1022.1M626.1 1029.3L620.1 1021.5M630.1 1028.6L627 1024.7M668.4 1026.8L649 1029.8M649 1029.8L643.1 1021.9M653 1029.2L647 1021.3M656.9 1028.6L653.9 1024.6M695.2 1026.9L675.9 1029.7M675.9 1029.7L670 1021.8M679.8 1029.1L673.9 1021.2M683.8 1028.6L680.8 1024.6M722.1 1027L702.7 1029.6M702.7 1029.6L696.9 1021.6M706.7 1029.1L700.9 1021M710.6 1028.5L704.8 1020.5M749 1027.1L729.5 1029.5M729.5 1029.5L723.8 1021.4M733.5 1029L727.8 1020.9M737.5 1028.5L731.8 1020.4M775.8 1027.2L756.4 1029.4M756.4 1029.4L750.8 1021.2M760.3 1028.9L754.8 1020.8M764.3 1028.5L758.7 1020.3M265.1 1067.8L246.8 1075M246.8 1075L239.3 1068.6M250.6 1073.5L243 1067.1M291.9 1067.9L273.7 1074.9M273.7 1074.9L266.2 1068.4M277.4 1073.5L269.9 1067M318.8 1068L300.5 1074.8M300.5 1074.8L293.1 1068.3M304.2 1073.4L296.8 1066.9M345.7 1068.1L327.3 1074.7M327.3 1074.7L319.9 1068.1M331 1073.4L323.7 1066.7M372.6 1068.2L354.1 1074.6M354.1 1074.6L346.8 1067.9M357.9 1073.3L350.6 1066.6M399.5 1068.3L380.9 1074.5M380.9 1074.5L373.7 1067.7M384.7 1073.2L377.5 1066.4M426.4 1068.4L407.7 1074.4M407.7 1074.4L400.6 1067.4M411.5 1073.2L404.4 1066.2M453.3 1068.6L434.5 1074.2M434.5 1074.2L427.6 1067.2M438.3 1073.1L431.4 1066M480.2 1068.8L461.3 1074M461.3 1074L454.5 1066.9M465.2 1073L458.3 1065.8M507.1 1068.9L488.1 1073.9M488.1 1073.9L481.4 1066.6M492 1072.9L485.3 1065.6M534 1069.1L514.9 1073.7M514.9 1073.7L508.3 1066.4M518.8 1072.8L512.2 1065.4M560.8 1069.2L541.8 1073.6M541.8 1073.6L535.2 1066.2M545.7 1072.7L539.1 1065.3M587.7 1069.3L568.6 1073.5M568.6 1073.5L562.2 1066M572.5 1072.7L566.1 1065.1M614.6 1069.4L595.4 1073.4M595.4 1073.4L589.1 1065.8M599.3 1072.6L593 1065M641.5 1069.5L622.2 1073.3M622.2 1073.3L616 1065.6M626.2 1072.5L619.9 1064.8M668.3 1069.6L649.1 1073.2M649.1 1073.2L642.9 1065.4M653 1072.4L646.9 1064.7M656.9 1071.7L653.9 1067.8M695.2 1069.8L675.9 1073M675.9 1073L669.8 1065.2M679.8 1072.4L673.8 1064.5M683.8 1071.7L680.8 1067.8M722.1 1069.9L702.7 1072.9M702.7 1072.9L696.8 1065M706.7 1072.3L700.7 1064.4M710.6 1071.7L707.7 1067.7M749 1070L729.5 1072.8M729.5 1072.8L723.7 1064.8M733.5 1072.2L727.7 1064.2M737.5 1071.7L734.6 1067.7M775.8 1070.1L756.4 1072.7M756.4 1072.7L750.7 1064.6M760.3 1072.1L754.6 1064.1M764.3 1071.6L761.5 1067.6M265.2 1102.1L246.7 1108.9M246.7 1108.9L239.4 1102.2M250.5 1107.5L246.8 1104.2M292 1102.2L273.6 1108.8M273.6 1108.8L266.3 1102.1M277.3 1107.4L273.7 1104.1M318.9 1102.3L300.4 1108.7M300.4 1108.7L293.1 1102M304.2 1107.4L300.5 1104M345.8 1102.3L327.2 1108.7M327.2 1108.7L320 1101.9M331 1107.4L327.4 1104M372.7 1102.4L354 1108.6M354 1108.6L346.9 1101.8M357.8 1107.3L354.3 1103.9M399.5 1102.5L380.9 1108.5M380.9 1108.5L373.8 1101.6M384.7 1107.3L381.1 1103.8M426.4 1102.6L407.7 1108.4M407.7 1108.4L400.7 1101.5M411.5 1107.2L408 1103.7M453.3 1102.7L434.5 1108.3M434.5 1108.3L427.6 1101.3M438.3 1107.2L434.9 1103.6M480.2 1102.8L461.3 1108.2M461.3 1108.2L454.4 1101.1M465.2 1107.1L461.7 1103.6M507 1102.9L488.2 1108.1M488.2 1108.1L481.3 1100.9M492 1107L485.2 1099.9M533.9 1103L515 1108M515 1108L508.2 1100.8M518.8 1107L512.1 1099.7M560.8 1103.1L541.8 1107.9M541.8 1107.9L535.1 1100.6M545.7 1106.9L539 1099.6M587.7 1103.2L568.6 1107.8M568.6 1107.8L562.1 1100.4M572.5 1106.9L565.9 1099.5M614.5 1103.3L595.5 1107.7M595.5 1107.7L589 1100.2M599.3 1106.8L592.9 1099.3M641.4 1103.4L622.3 1107.6M622.3 1107.6L615.9 1100.1M626.2 1106.7L619.8 1099.2M668.3 1103.5L649.1 1107.5M649.1 1107.5L642.8 1099.9M653 1106.7L646.7 1099.1M695.2 1103.7L675.9 1107.3M675.9 1107.3L669.7 1099.6M679.9 1106.6L673.6 1098.9M722.1 1103.8L702.7 1107.2M702.7 1107.2L696.7 1099.4M706.7 1106.5L700.6 1098.7M748.9 1103.9L729.6 1107.1M729.6 1107.1L723.6 1099.2M733.5 1106.4L727.5 1098.5M775.8 1104.1L756.4 1106.9M756.4 1106.9L750.5 1099M760.4 1106.3L754.5 1098.4M265.2 1128.3L246.7 1134.7M246.7 1134.7L239.5 1127.9M250.5 1133.4L246.9 1130M292.1 1128.5L273.5 1134.5M273.5 1134.5L266.4 1127.7M277.3 1133.3L273.7 1129.9M319 1128.6L300.3 1134.4M300.3 1134.4L293.2 1127.5M304.1 1133.2L300.6 1129.8M345.9 1128.7L327.1 1134.3M327.1 1134.3L320.1 1127.3M330.9 1133.2L327.5 1129.7M372.8 1128.8L353.9 1134.2M353.9 1134.2L347 1127.1M357.8 1133.1L354.3 1129.6M399.6 1128.9L380.8 1134.1M380.8 1134.1L373.9 1126.9M384.6 1133L381.2 1129.4M426.5 1129L407.6 1134M407.6 1134L400.8 1126.7M411.4 1133L408.1 1129.4M453.4 1129.1L434.4 1133.9M434.4 1133.9L427.7 1126.6M438.3 1132.9L435 1129.3M480.3 1129.2L461.2 1133.8M461.2 1133.8L454.7 1126.4M465.1 1132.9L461.8 1129.2M507.2 1129.3L488 1133.7M488 1133.7L481.6 1126.2M491.9 1132.8L488.7 1129.1M534 1129.4L514.9 1133.6M514.9 1133.6L508.5 1126.1M518.8 1132.7L515.6 1129M560.9 1129.4L541.7 1133.6M541.7 1133.6L535.3 1126M545.6 1132.7L539.3 1125.1M587.7 1129.5L568.6 1133.5M568.6 1133.5L562.2 1125.9M572.5 1132.7L566.1 1125.1M614.6 1129.5L595.4 1133.5M595.4 1133.5L589.1 1125.8M599.3 1132.7L593 1125M641.5 1129.6L622.2 1133.4M622.2 1133.4L616 1125.7M626.2 1132.6L619.9 1125M668.3 1129.7L649.1 1133.3M649.1 1133.3L642.9 1125.6M653 1132.6L646.8 1124.8M695.2 1129.8L675.9 1133.2M675.9 1133.2L669.8 1125.4M679.8 1132.5L673.8 1124.7M722.1 1129.9L702.7 1133.1M702.7 1133.1L696.7 1125.2M706.7 1132.4L700.7 1124.5M748.9 1130.1L729.6 1132.9M729.6 1132.9L723.7 1125M733.5 1132.3L727.6 1124.4M775.8 1130.2L756.4 1132.8M756.4 1132.8L750.6 1124.7M760.4 1132.3L754.6 1124.2M265.3 1153.9L246.6 1159.7M246.6 1159.7L239.5 1152.8M292.2 1154L273.4 1159.6M273.4 1159.6L266.5 1152.6M319.1 1154.2L300.2 1159.4M300.2 1159.4L293.4 1152.3M346 1154.3L327 1159.3M327 1159.3L320.3 1152M372.9 1154.5L353.8 1159.1M353.8 1159.1L347.2 1151.8M399.8 1154.6L380.6 1159M380.6 1159L374.2 1151.5M384.5 1158.1L381.3 1154.4M426.6 1154.7L407.5 1158.9M407.5 1158.9L401.1 1151.3M411.4 1158L408.2 1154.3M453.5 1154.8L434.3 1158.8M434.3 1158.8L428 1151.2M438.2 1158L435.1 1154.2M480.4 1154.9L461.1 1158.7M461.1 1158.7L454.9 1151M465.1 1157.9L461.9 1154.1M507.2 1155L488 1158.6M488 1158.6L481.8 1150.8M491.9 1157.9L488.8 1154M534.1 1155.1L514.8 1158.5M514.8 1158.5L508.7 1150.7M518.7 1157.8L515.7 1153.9M561 1155.1L541.6 1158.5M541.6 1158.5L535.6 1150.7M545.6 1157.8L542.5 1153.9M587.8 1155.1L568.5 1158.5M568.5 1158.5L562.4 1150.7M572.4 1157.8L566.3 1150M614.7 1155.1L595.3 1158.5M595.3 1158.5L589.3 1150.7M599.3 1157.8L593.2 1150M641.5 1155.1L622.2 1158.5M622.2 1158.5L616.1 1150.7M626.1 1157.8L620 1150M668.4 1155.1L649 1158.5M649 1158.5L643 1150.6M653 1157.8L646.9 1149.9M695.2 1155.3L675.9 1158.3M675.9 1158.3L669.9 1150.4M679.8 1157.7L673.9 1149.8M722.1 1155.4L702.7 1158.2M702.7 1158.2L696.8 1150.2M706.7 1157.6L700.8 1149.7M749 1155.5L729.5 1158.1M729.5 1158.1L723.8 1150M733.5 1157.6L727.7 1149.5M775.8 1155.6L756.4 1158M756.4 1158L750.7 1149.8M760.3 1157.5L754.7 1149.4M265.4 1175.2L246.5 1180.6M246.5 1180.6L239.6 1173.6M292.3 1175.3L273.3 1180.5M273.3 1180.5L266.6 1173.2M319.2 1175.5L300.1 1180.3M300.1 1180.3L293.5 1172.9M346.1 1175.7L326.9 1180.1M326.9 1180.1L320.5 1172.6M373 1175.9L353.7 1179.9M353.7 1179.9L347.4 1172.2M399.8 1176.1L380.6 1179.7M380.6 1179.7L374.4 1171.9M426.7 1176.2L407.4 1179.6M407.4 1179.6L401.3 1171.7M453.6 1176.3L434.2 1179.5M434.2 1179.5L428.2 1171.6M438.2 1178.8L435.2 1174.9M480.4 1176.4L461.1 1179.4M461.1 1179.4L455.2 1171.4M465 1178.8L462.1 1174.8M507.3 1176.5L487.9 1179.3M487.9 1179.3L482.1 1171.2M491.9 1178.7L488.9 1174.7M534.2 1176.6L514.7 1179.2M514.7 1179.2L509 1171.1M518.7 1178.7L515.8 1174.6M561 1176.6L541.6 1179.2M541.6 1179.2L535.8 1171.2M545.6 1178.7L542.7 1174.7M587.8 1176.5L568.5 1179.3M568.5 1179.3L562.6 1171.3M572.4 1178.7L566.6 1170.7M614.7 1176.5L595.3 1179.3M595.3 1179.3L589.4 1171.4M599.3 1178.8L593.4 1170.8M641.5 1176.4L622.2 1179.4M622.2 1179.4L616.2 1171.5M626.1 1178.8L620.2 1170.9M668.4 1176.4L649 1179.4M649 1179.4L643.1 1171.5M653 1178.8L647 1170.8M695.3 1176.5L675.8 1179.3M675.8 1179.3L670 1171.3M679.8 1178.7L674 1170.7M722.1 1176.6L702.7 1179.2M702.7 1179.2L696.9 1171.1M706.6 1178.6L700.9 1170.6M749 1176.8L729.5 1179M729.5 1179L723.9 1170.9M733.5 1178.6L727.9 1170.4M775.8 1176.9L756.4 1178.9M756.4 1178.9L750.8 1170.7M760.3 1178.5L754.8 1170.3M265.4 1196.1L246.5 1201.1M246.5 1201.1L239.7 1193.9M292.3 1196.3L273.3 1200.9M273.3 1200.9L266.7 1193.5M319.2 1196.5L300.1 1200.7M300.1 1200.7L293.7 1193.1M346.1 1196.8L326.9 1200.4M326.9 1200.4L320.7 1192.7M373 1197L353.7 1200.2M353.7 1200.2L347.7 1192.3M399.9 1197.2L380.5 1200M380.5 1200L374.7 1191.9M426.8 1197.4L407.3 1199.8M407.3 1199.8L401.6 1191.8M453.6 1197.5L434.2 1199.7M434.2 1199.7L428.5 1191.6M480.5 1197.6L461 1199.6M461 1199.6L455.5 1191.4M465 1199.2L462.2 1195.1M507.4 1197.7L487.8 1199.5M487.8 1199.5L482.4 1191.3M491.8 1199.2L489.1 1195M534.2 1197.7L514.7 1199.5M514.7 1199.5L509.3 1191.2M518.7 1199.1L516 1195M561.1 1197.6L541.5 1199.6M541.5 1199.6L536 1191.4M545.5 1199.2L542.8 1195.1M587.9 1197.5L568.4 1199.7M568.4 1199.7L562.8 1191.5M572.4 1199.2L569.6 1195.2M614.7 1197.4L595.3 1199.8M595.3 1199.8L589.6 1191.7M599.2 1199.3L593.6 1191.2M641.6 1197.3L622.1 1199.9M622.1 1199.9L616.4 1191.9M626.1 1199.4L620.3 1191.3M668.4 1197.3L649 1199.9M649 1199.9L643.2 1191.9M653 1199.4L647.2 1191.3M695.3 1197.4L675.8 1199.8M675.8 1199.8L670.1 1191.7M679.8 1199.3L674.1 1191.2M722.1 1197.5L702.7 1199.7M702.7 1199.7L697.1 1191.6M706.6 1199.3L701 1191.1M749 1197.6L729.5 1199.6M729.5 1199.6L724 1191.4M733.5 1199.2L728 1191M775.9 1197.7L756.3 1199.5M756.3 1199.5L750.9 1191.2M760.3 1199.1L754.9 1190.9M265.3 1214.5L246.6 1220.3M246.6 1220.3L239.6 1213.4M292.2 1214.7L273.4 1220.1M273.4 1220.1L266.5 1213.1M319.1 1214.8L300.2 1220M300.2 1220L293.4 1212.7M346 1215L327 1219.8M327 1219.8L320.4 1212.4M372.9 1215.2L353.8 1219.6M353.8 1219.6L347.3 1212.1M399.8 1215.4L380.6 1219.4M380.6 1219.4L374.3 1211.8M426.7 1215.6L407.4 1219.2M407.4 1219.2L401.2 1211.5M453.6 1215.8L434.2 1219M434.2 1219L428.2 1211.2M480.4 1215.9L461.1 1218.9M461.1 1218.9L455.2 1210.9M465 1218.3L462.1 1214.3M507.3 1216.1L487.9 1218.7M487.9 1218.7L482.1 1210.6M491.8 1218.2L489 1214.1M534.2 1216.3L514.7 1218.5M514.7 1218.5L509.1 1210.4M518.7 1218.1L515.9 1214M561 1216.3L541.6 1218.5M541.6 1218.5L535.9 1210.4M545.5 1218.1L542.7 1214M587.9 1216.3L568.4 1218.5M568.4 1218.5L562.8 1210.4M572.4 1218.1L569.6 1214M614.7 1216.3L595.3 1218.5M595.3 1218.5L589.7 1210.3M599.2 1218.1L596.4 1214M641.6 1216.3L622.1 1218.5M622.1 1218.5L616.5 1210.3M626.1 1218L620.5 1209.9M668.4 1216.4L649 1218.4M649 1218.4L643.4 1210.2M652.9 1218L647.4 1209.8M695.3 1216.5L675.8 1218.3M675.8 1218.3L670.3 1210.1M679.8 1218L674.3 1209.7M722.2 1216.6L702.6 1218.2M702.6 1218.2L697.3 1209.9M706.6 1217.9L701.3 1209.6M749 1216.7L729.5 1218.1M729.5 1218.1L724.2 1209.7M733.5 1217.8L728.2 1209.5M775.9 1216.8L756.3 1218M756.3 1218L751.1 1209.6M760.3 1217.8L755.1 1209.3M265.2 1233L246.7 1239.6M246.7 1239.6L239.4 1232.9M292.1 1233.1L273.5 1239.5M273.5 1239.5L266.3 1232.7M319 1233.2L300.3 1239.4M300.3 1239.4L293.2 1232.5M345.9 1233.4L327.1 1239.2M327.1 1239.2L320.1 1232.3M372.7 1233.5L354 1239.1M354 1239.1L347 1232.1M399.6 1233.6L380.8 1239M380.8 1239L373.9 1231.8M426.5 1233.9L407.6 1238.7M407.6 1238.7L400.9 1231.4M453.5 1234.2L434.3 1238.4M434.3 1238.4L427.9 1230.9M480.4 1234.4L461.1 1238.2M461.1 1238.2L454.9 1230.5M465.1 1237.4L461.9 1233.6M507.3 1234.7L487.9 1237.9M487.9 1237.9L481.9 1230.1M491.9 1237.3L488.9 1233.3M534.2 1234.9L514.7 1237.7M514.7 1237.7L508.9 1229.7M518.7 1237.1L515.8 1233.1M561 1235L541.6 1237.6M541.6 1237.6L535.8 1229.5M545.5 1237L542.7 1233M587.9 1235.2L568.4 1237.4M568.4 1237.4L562.8 1229.3M572.4 1237L569.6 1232.9M614.7 1235.3L595.3 1237.3M595.3 1237.3L589.7 1229.1M599.2 1236.9L596.5 1232.8M641.6 1235.4L622.1 1237.2M622.1 1237.2L616.7 1228.9M626.1 1236.8L623.4 1232.7M668.5 1235.5L648.9 1237.1M648.9 1237.1L643.6 1228.7M652.9 1236.7L650.3 1232.6M695.3 1235.7L675.8 1236.9M675.8 1236.9L670.6 1228.5M679.8 1236.7L677.2 1232.5M722.2 1235.8L702.6 1236.8M702.6 1236.8L697.5 1228.4M706.6 1236.6L704 1232.4M749 1235.9L729.5 1236.7M729.5 1236.7L724.4 1228.2M733.5 1236.6L730.9 1232.3M775.9 1236L756.3 1236.6M756.3 1236.6L751.4 1228.1M760.3 1236.5L757.8 1232.2M265 1249.1L246.9 1256.5M246.9 1256.5L239.3 1250.1M291.9 1249.2L273.7 1256.4M273.7 1256.4L266.1 1250M318.8 1249.3L300.5 1256.3M300.5 1256.3L293 1249.9M345.7 1249.3L327.3 1256.3M327.3 1256.3L319.9 1249.8M372.5 1249.4L354.2 1256.2M354.2 1256.2L346.8 1249.6M399.4 1249.5L381 1256.1M381 1256.1L373.6 1249.5M426.4 1249.8L407.7 1255.8M407.7 1255.8L400.6 1248.9M453.3 1250.2L434.5 1255.4M434.5 1255.4L427.6 1248.3M480.3 1250.5L461.2 1255.1M461.2 1255.1L454.7 1247.7M465.1 1254.2L461.8 1250.5M507.2 1250.8L488 1254.8M488 1254.8L481.7 1247.1M491.9 1254L488.8 1250.1M534.1 1251.2L514.8 1254.4M514.8 1254.4L508.7 1246.6M518.7 1253.8L515.7 1249.8M561 1251.4L541.6 1254.2M541.6 1254.2L535.8 1246.2M545.6 1253.6L542.6 1249.6M587.9 1251.6L568.4 1254M568.4 1254L562.8 1245.8M572.4 1253.5L569.6 1249.4M614.8 1251.9L595.2 1253.7M595.2 1253.7L589.8 1245.4M599.2 1253.3L596.5 1249.2M641.6 1252.1L622.1 1253.5M622.1 1253.5L616.8 1245.1M626.1 1253.2L623.5 1249M668.5 1252.3L648.9 1253.3M648.9 1253.3L643.8 1244.8M652.9 1253.1L650.4 1248.8M695.3 1252.4L675.8 1253.2M675.8 1253.2L670.8 1244.6M679.8 1253L677.3 1248.7M722.2 1252.5L702.6 1253.1M702.6 1253.1L697.7 1244.4M706.6 1253L704.2 1248.6M749 1252.6L729.5 1253M729.5 1253L724.7 1244.3M733.5 1252.9L731.1 1248.6M775.9 1252.8L756.3 1252.8M756.3 1252.8L751.6 1244.1M760.3 1252.8L758 1248.5M252 1266L233 1270.6M233 1270.6L226.4 1263.2M278.9 1266L259.8 1270.6M259.8 1270.6L253.2 1263.2M305.7 1265.9L286.7 1270.7M286.7 1270.7L280 1263.4M332.5 1265.8L313.6 1270.8M313.6 1270.8L306.9 1263.5M359.4 1265.7L340.4 1270.9M340.4 1270.9L333.7 1263.7M386.2 1265.6L367.3 1271M367.3 1271L360.5 1263.8M413 1265.7L394.2 1270.9M394.2 1270.9L387.4 1263.7M439.9 1265.9L421 1270.7M421 1270.7L414.3 1263.4M466.8 1266L447.8 1270.6M447.8 1270.6L441.2 1263.1M493.7 1266.2L474.6 1270.4M474.6 1270.4L468.2 1262.8M520.6 1266.4L501.4 1270.2M501.4 1270.2L495.1 1262.5M547.5 1266.6L528.2 1270M528.2 1270L522.1 1262.2M532.1 1269.3L529.1 1265.4M574.4 1266.8L555 1269.8M555 1269.8L549.1 1261.9M559 1269.2L556 1265.3M601.3 1267L581.8 1269.6M581.8 1269.6L576 1261.6M585.8 1269.1L582.9 1265.1M628.1 1267.1L608.7 1269.5M608.7 1269.5L603 1261.3M612.6 1269L609.8 1264.9M655 1267.3L635.5 1269.3M635.5 1269.3L630 1261M639.5 1268.9L636.7 1264.7M681.9 1267.5L662.3 1269.1M662.3 1269.1L657 1260.8M666.3 1268.8L663.6 1264.6M708.7 1267.6L689.2 1269M689.2 1269L683.9 1260.7M693.2 1268.7L690.5 1264.6M735.6 1267.7L716 1268.9M716 1268.9L710.8 1260.5M720 1268.7L717.4 1264.5M762.4 1267.8L742.9 1268.8M742.9 1268.8L737.8 1260.4M746.9 1268.6L744.3 1264.4M789.3 1267.9L769.7 1268.7M769.7 1268.7L764.7 1260.2M773.7 1268.6L771.2 1264.3M265.7 1279.9L246.2 1281.7M250.2 1281.3L247.5 1277.2M292.5 1279.7L273.1 1281.9M277 1281.4L274.2 1277.4M319.4 1279.5L299.9 1282.1M303.9 1281.6L301 1277.6M346.2 1279.2L326.8 1282.4M330.8 1281.7L327.8 1277.8M373 1279L353.7 1282.6M357.7 1281.9L354.6 1278M399.8 1278.8L380.6 1282.8M380.6 1282.8L374.3 1275.3M426.6 1278.8L407.5 1282.8M407.5 1282.8L401.1 1275.3M453.5 1278.8L434.3 1282.8M434.3 1282.8L428 1275.3M480.3 1278.8L461.2 1282.8M461.2 1282.8L454.8 1275.3M507.2 1278.8L488 1282.8M488 1282.8L481.7 1275.3M534 1278.8L514.9 1282.8M514.9 1282.8L508.5 1275.2M560.9 1278.9L541.7 1282.7M541.7 1282.7L535.5 1275M587.8 1279.1L568.5 1282.5M568.5 1282.5L562.4 1274.7M614.7 1279.2L595.3 1282.4M595.3 1282.4L589.3 1274.5M641.5 1279.4L622.2 1282.2M622.2 1282.2L616.3 1274.3M668.4 1279.5L649 1282.1M649 1282.1L643.2 1274.1M695.3 1279.6L675.8 1282M675.8 1282L670.1 1273.9M722.1 1279.7L702.7 1281.9M702.7 1281.9L697.1 1273.8M749 1279.8L729.5 1281.8M729.5 1281.8L724 1273.6M775.9 1279.9L756.3 1281.7M756.3 1281.7L750.9 1273.4M252.2 1292.1L232.8 1288.7M236.8 1289.4L235.3 1284.7M279 1292L259.7 1288.8M263.6 1289.5L262 1284.8M305.9 1291.7L286.5 1289.1M290.4 1289.6L288.7 1285M332.8 1291.4L313.3 1289.4M317.3 1289.8L315.4 1285.2M359.7 1291.1L340.1 1289.7M344.1 1290L342.1 1285.5M386.5 1290.8L367 1290M371 1290.2L368.8 1285.7M413.4 1290.6L393.8 1290.2M397.8 1290.3L395.6 1285.9M440.2 1290.5L420.7 1290.3M424.7 1290.4L422.4 1286M467.1 1290.3L447.5 1290.5M447.5 1290.5L442.8 1281.8M493.9 1290.2L474.4 1290.6M474.4 1290.6L469.5 1281.9M520.8 1290.1L501.2 1290.7M501.2 1290.7L496.3 1282.1M547.6 1290L528.1 1290.8M528.1 1290.8L523.1 1282.2M574.5 1290L554.9 1290.8M554.9 1290.8L549.9 1282.2M601.3 1290L581.8 1290.8M581.8 1290.8L576.8 1282.2M628.2 1290L608.6 1290.8M608.6 1290.8L603.6 1282.3M655 1290L635.5 1290.8M635.5 1290.8L630.4 1282.3M681.9 1290L662.3 1290.8M662.3 1290.8L657.3 1282.3M708.7 1290L689.2 1290.8M689.2 1290.8L684.1 1282.3M735.6 1290L716 1290.8M716 1290.8L711 1282.3M762.4 1290L742.9 1290.8M742.9 1290.8L737.8 1282.3M789.3 1290L769.7 1290.8M769.7 1290.8L764.7 1282.3M264.8 1303.4L247.1 1295.2M250.7 1296.8L250.4 1291.9M291.8 1303.1L273.8 1295.5M277.5 1297L277 1292.1M318.8 1302.8L300.5 1295.8M304.2 1297.2L303.6 1292.3M345.8 1302.5L327.2 1296.1M331 1297.4L330.2 1292.5M372.7 1302.1L354 1296.5M357.8 1297.6L356.8 1292.8M399.7 1301.8L380.7 1296.8M384.6 1297.8L383.5 1293M426.6 1301.6L407.5 1297M411.4 1298L410.2 1293.2M453.5 1301.3L434.3 1297.3M438.2 1298.1L436.9 1293.3M480.4 1301.1L461.1 1297.5M465 1298.2L463.6 1293.5M507.3 1300.8L487.9 1297.8M487.9 1297.8L484.7 1288.4M534.2 1300.6L514.7 1298M514.7 1298L511.3 1288.7M561 1300.4L541.6 1298.2M541.6 1298.2L538 1288.9M587.9 1300.3L568.4 1298.3M568.4 1298.3L564.6 1289.2M614.8 1300.1L595.2 1298.5M595.2 1298.5L591.3 1289.4M641.6 1299.9L622.1 1298.7M622.1 1298.7L618 1289.7M668.5 1299.8L648.9 1298.8M648.9 1298.8L644.7 1289.9M695.3 1299.7L675.8 1298.9M675.8 1298.9L671.4 1290M722.2 1299.6L702.6 1299M702.6 1299L698.2 1290.2M749 1299.5L729.5 1299.1M729.5 1299.1L724.9 1290.3M775.9 1299.3L756.3 1299.3M756.3 1299.3L751.7 1290.5M247.4 1316.7L237.6 1299.7M239.6 1303.2L242.2 1299M274.5 1316.6L264.2 1299.8M266.3 1303.3L268.8 1299M301.8 1316.3L290.6 1300.1M292.9 1303.4L295.2 1299M329 1316L317.1 1300.4M319.5 1303.6L321.6 1299.1M356.3 1315.6L343.5 1300.8M346.1 1303.8L347.9 1299.2M383.5 1315.3L370 1301.1M372.7 1304L374.3 1299.3M410.8 1314.9L396.4 1301.5M399.4 1304.2L400.7 1299.5M438 1314.5L422.9 1301.9M426 1304.5L427 1299.6M465.1 1314.1L449.5 1302.3M452.7 1304.7L453.4 1299.8M492.3 1313.7L476 1302.7M479.3 1305L479.8 1300M519.4 1313.2L502.6 1303.2M506 1305.2L506.3 1300.3M546.5 1312.8L529.2 1303.6M532.7 1305.5L532.7 1300.6M573.6 1312.3L555.8 1304.1M559.4 1305.8L559.1 1300.8M600.7 1311.8L582.4 1304.6M586.2 1306.1L585.6 1301.2M627.7 1311.3L609.1 1305.1M612.9 1306.4L612.1 1301.5M654.7 1310.8L635.8 1305.6M635.8 1305.6L633.6 1296M681.6 1310.4L662.6 1306M662.6 1306L660 1296.4M708.6 1310.1L689.3 1306.3M689.3 1306.3L686.5 1296.8M735.5 1309.7L716.1 1306.7M716.1 1306.7L712.9 1297.3M762.4 1309.4L742.9 1307M742.9 1307L739.4 1297.8M789.3 1309.1L769.7 1307.3M769.7 1307.3L765.9 1298.2M259.5 1326.2L252.4 1308M253.8 1311.7L257.1 1307.9M286.9 1326L278.7 1308.2M280.4 1311.8L283.4 1307.9M314.3 1325.7L305 1308.5M306.9 1312L309.6 1307.9M341.7 1325.4L331.3 1308.8M333.4 1312.2L335.9 1307.9M369 1325.1L357.7 1309.1M360 1312.4L362.2 1307.9M396.4 1324.7L384 1309.5M386.5 1312.6L388.5 1308M423.7 1324.3L410.4 1309.9M413.1 1312.8L414.7 1308.2M451 1323.9L436.8 1310.3M439.7 1313.1L441 1308.3M478.3 1323.4L463.2 1310.8M466.3 1313.4L467.3 1308.5M614 1320.9L596 1313.3M599.7 1314.8L599.2 1309.9M641.1 1320.4L622.6 1313.8M626.4 1315.2L625.7 1310.3M668.1 1319.8L649.3 1314.4M653.1 1315.5L652.1 1310.7M695.1 1319.2L676 1315M676 1315L673.3 1305.4M722.1 1318.6L702.7 1315.6M702.7 1315.6L699.5 1306.2M749 1318L729.5 1316.2M729.5 1316.2L725.7 1307.1M775.9 1317.4L756.3 1316.8M756.3 1316.8L751.9 1307.9M299.3 1338.5L293.1 1319.9M294.4 1323.7L297.8 1320.1M326.8 1338.2L319.3 1320.2M320.8 1323.8L324 1320M354.3 1337.9L345.5 1320.5M347.3 1324L350.1 1320M381.8 1337.6L371.7 1320.8M373.8 1324.2L376.3 1320M409.2 1337.2L398 1321.2M400.3 1324.5L402.5 1320M436.6 1336.8L424.3 1321.6M426.8 1324.7L428.7 1320.1M464 1336.3L450.6 1322.1M453.3 1325L454.9 1320.3M654.4 1332.6L636.1 1325.8M639.8 1327.2L639.2 1322.3M681.5 1331.8L662.7 1326.6M666.5 1327.7L665.4 1322.8M708.6 1330.9L689.3 1327.5M693.2 1328.2L691.7 1323.5M735.6 1330.1L716 1328.3M720 1328.7L718.1 1324.1M762.4 1329.2L742.9 1329.2M746.9 1329.2L744.5 1324.8M789.3 1328.3L769.7 1330.1M769.7 1330.1L764.3 1321.8M449.7 1346.8L438.1 1331M440.5 1334.2L442.7 1329.8M722.1 1340L702.7 1337.8M706.6 1338.3L704.8 1333.6M749 1338.9L729.5 1338.9M733.5 1338.9L731.1 1334.6M775.8 1337.7L756.4 1340.1M760.3 1339.6L757.5 1335.5" fill="none" stroke="#333" stroke-width="1.05" stroke-linecap="butt"/>
</g>
<rect x="256.8" y="953" width="521.5" height="425.4" fill="none" stroke="#222" stroke-width="1.25"/>
<text transform="translate(228.4 961) scale(1.000 1.050)" font-size="22" text-anchor="end" fill="#000"  stroke="#000" stroke-width="0.28">200</text>
<text transform="translate(228.4 1068.4) scale(1.000 1.050)" font-size="22" text-anchor="end" fill="#000"  stroke="#000" stroke-width="0.28">300</text>
<text transform="translate(228.4 1203.8) scale(1.000 1.050)" font-size="22" text-anchor="end" fill="#000"  stroke="#000" stroke-width="0.28">500</text>
<text transform="translate(228.4 1293) scale(1.000 1.050)" font-size="22" text-anchor="end" fill="#000"  stroke="#000" stroke-width="0.28">700</text>
<text transform="translate(228.4 1344.4) scale(1.000 1.050)" font-size="22" text-anchor="end" fill="#000"  stroke="#000" stroke-width="0.28">850</text>
<text transform="translate(228.4 1366.8) scale(1.000 1.050)" font-size="22" text-anchor="end" fill="#000"  stroke="#000" stroke-width="0.28">925</text>
<text transform="translate(804.6 988.8) scale(1.000 1.050)" font-size="20.6" text-anchor="start" fill="#000"  stroke="#000" stroke-width="0.28">35</text>
<text transform="translate(804.6 1046.5) scale(1.000 1.050)" font-size="20.6" text-anchor="start" fill="#000"  stroke="#000" stroke-width="0.28">30</text>
<text transform="translate(804.6 1104.2) scale(1.000 1.050)" font-size="20.6" text-anchor="start" fill="#000"  stroke="#000" stroke-width="0.28">25</text>
<text transform="translate(804.6 1161.9) scale(1.000 1.050)" font-size="20.6" text-anchor="start" fill="#000"  stroke="#000" stroke-width="0.28">20</text>
<text transform="translate(804.6 1219.6) scale(1.000 1.050)" font-size="20.6" text-anchor="start" fill="#000"  stroke="#000" stroke-width="0.28">15</text>
<text transform="translate(804.6 1277.3) scale(1.000 1.050)" font-size="20.6" text-anchor="start" fill="#000"  stroke="#000" stroke-width="0.28">10</text>
<text transform="translate(804.6 1334.8) scale(1.000 1.050)" font-size="20.6" text-anchor="start" fill="#000"  stroke="#000" stroke-width="0.28">5</text>
<text transform="translate(804.6 1380.4) scale(1.000 1.050)" font-size="20.6" text-anchor="start" fill="#000"  stroke="#000" stroke-width="0.28">1</text>
<text transform="translate(254.8 1422.9) scale(1.000 1.050)" font-size="21.6" text-anchor="middle" fill="#000"  stroke="#000" stroke-width="0.28">115.0W</text>
<text transform="translate(254.8 1446.8) scale(1.000 1.050)" font-size="21.6" text-anchor="middle" fill="#000"  stroke="#000" stroke-width="0.28">40.1N</text>
<text transform="translate(388.4 1422.9) scale(1.000 1.050)" font-size="21.6" text-anchor="middle" fill="#000"  stroke="#000" stroke-width="0.28">115.0W</text>
<text transform="translate(388.4 1446.8) scale(1.000 1.050)" font-size="21.6" text-anchor="middle" fill="#000"  stroke="#000" stroke-width="0.28">41.7N</text>
<text transform="translate(522 1422.9) scale(1.000 1.050)" font-size="21.6" text-anchor="middle" fill="#000"  stroke="#000" stroke-width="0.28">115.0W</text>
<text transform="translate(522 1446.8) scale(1.000 1.050)" font-size="21.6" text-anchor="middle" fill="#000"  stroke="#000" stroke-width="0.28">43.3N</text>
<text transform="translate(655.6 1422.9) scale(1.000 1.050)" font-size="21.6" text-anchor="middle" fill="#000"  stroke="#000" stroke-width="0.28">115.0W</text>
<text transform="translate(655.6 1446.8) scale(1.000 1.050)" font-size="21.6" text-anchor="middle" fill="#000"  stroke="#000" stroke-width="0.28">44.9N</text>
<path d="M243.2 953H256.8M243.2 1060.4H256.8M243.2 1195.8H256.8M243.2 1285H256.8M243.2 1336.4H256.8M243.2 1358.8H256.8M778.3 981.3H791.7M778.3 1039H791.7M778.3 1096.7H791.7M778.3 1154.4H791.7M778.3 1212.1H791.7M778.3 1269.8H791.7M778.3 1327.3H791.7M778.3 1372.9H791.7M256.8 1378.4V1391.6M390.4 1378.4V1391.6M524 1378.4V1391.6M657.6 1378.4V1391.6" fill="none" stroke="#444" stroke-width="1.15"/>
<text transform="translate(517.8 943.2) scale(1.000 1.075)" font-size="33.5" text-anchor="middle" fill="#000"  stroke="#000" stroke-width="0.4">Curtain 3 (C3)</text>
<text transform="translate(171.3 1165.7) rotate(-90) scale(1.000 1.040)" font-size="26.8" text-anchor="middle" fill="#000"  stroke="#000" stroke-width="0.28">Altitude (hPa)</text>
<rect x="696.8" y="1387.2" width="81.8" height="65.4" fill="#fff" stroke="#888" stroke-width="1"/>
<text transform="translate(737.7 1410.1) scale(1.000 1.040)" font-size="23.6" text-anchor="middle" fill="#000"  stroke="#000" stroke-width="0.28">30 m/s</text>
<path d="M746.6 1433.1L730.4 1433.1M730.4 1433.1L725.3 1423.6M733 1433.1L727.9 1423.6M735.6 1433.1L730.5 1423.6" fill="none" stroke="#444" stroke-width="0.8"/>
<clipPath id="cp3"><rect x="925" y="953" width="531.3" height="433.4"/></clipPath>
<g clip-path="url(#cp3)">
<rect x="925" y="953" width="531.3" height="433.4" fill="#40D0FF"/>
<polygon points="1017.5,953 1034,969.5 1053.8,986 1063.7,1012.4 1070.3,1045.4 1070.3,1078.4 1076.9,1108.1 1080.2,1137.8 1073.6,1157.7 1070.3,1184.1 1073.6,1210.5 1083.5,1230.3 1103.3,1250.1 1123.1,1266.6 1156.1,1274.8 1190.2,1275.2 1223.2,1270.2 1256.2,1270.2 1289.5,1275.2 1322.6,1280.8 1347.3,1289 1363.8,1295.6 1405.1,1298.3 1456.3,1298.3 1456.3,953" fill="#40E6FF" stroke="#40E6FF" stroke-width="0.6"/>
<polygon points="1365.5,1208.2 1380.4,1201.6 1405.1,1203.2 1429.9,1211.5 1456.3,1223 1456.3,1236.2 1429.9,1231.3 1396.9,1226.3 1372.1,1219.7" fill="#40D0FF" stroke="#40D0FF" stroke-width="0.6"/>
<polygon points="925,1279.8 944.8,1266.6 991,1255 1034,1255 1073.6,1263.3 1109.9,1273.2 1126.4,1296.3 1109.9,1309.5 1083.5,1322.7 1083.5,1386.4 925,1386.4" fill="#38B8FF" stroke="#38B8FF" stroke-width="0.6"/>
<polygon points="1063.7,953 1073.6,979.4 1083.5,1002.5 1096.7,1025.6 1103.3,1052 1113.2,1078.4 1123.1,1104.8 1123.1,1131.2 1109.9,1154.3 1096.7,1177.5 1096.7,1203.9 1109.9,1223.7 1129.7,1240.2 1156.1,1251.7 1190.2,1250.1 1239.7,1246.8 1289.5,1235.2 1306.1,1221.4 1316,1204.9 1339.1,1191.6 1372.1,1185 1405.1,1185 1456.3,1196.6 1456.3,953" fill="#40FAFF" stroke="#40FAFF" stroke-width="0.6"/>
<polygon points="1090.1,953 1096.7,976.1 1109.9,1002.5 1126.4,1022.3 1133,1048.7 1139.6,1075.1 1149.5,1101.5 1156.1,1131.2 1139.6,1157.7 1129.7,1180.8 1136.3,1200.6 1156.1,1220.4 1182.6,1233.6 1212.3,1236.9 1242,1227 1261.8,1217.1 1271.7,1203.9 1284.9,1190.7 1304.7,1177.5 1327.9,1167.6 1354.3,1164.3 1387.3,1164.3 1420.3,1167.6 1456.3,1184.1 1456.3,953" fill="#40FFDC" stroke="#40FFDC" stroke-width="0.6"/>
<polygon points="1114.9,953 1123.1,979.4 1136.3,995.9 1156.1,1009.1 1169.4,1035.5 1179.3,1065.2 1185.9,1091.6 1209,1085 1242,1081.7 1271.7,1085 1304.7,1091.6 1354.3,1098.2 1403.8,1094.9 1456.3,1088.3 1456.3,953" fill="#40FFAC" stroke="#40FFAC" stroke-width="0.6"/>
<polygon points="1235.4,1134.5 1248.6,1139.5 1242,1164.3 1225.5,1161 1228.8,1147.7" fill="#40FFAC" stroke="#40FFAC" stroke-width="0.6"/>
<polygon points="1440.1,1157.7 1456.3,1149.4 1456.3,1174.2 1446.7,1167.6" fill="#40FFAC" stroke="#40FFAC" stroke-width="0.6"/>
<polygon points="1256.9,989.3 1271.7,976.1 1304.7,966.2 1354.3,958 1387.3,954.7 1456.3,953 1456.3,1071.8 1420.3,1075.1 1387.3,1071.8 1354.3,1061.9 1321.2,1048.7 1294.8,1035.5 1275,1015.7" fill="#40FF50" stroke="#40FF50" stroke-width="0.6"/>
<polygon points="1298.1,992.6 1314.6,982.7 1354.3,971.2 1403.8,964.6 1456.3,962.9 1456.3,1048.7 1420.3,1048.7 1387.3,1048.7 1354.3,1038.8 1327.9,1025.6 1308,1009.1" fill="#64FF40" stroke="#64FF40" stroke-width="0.6"/>
<polygon points="1334.5,992.6 1354.3,982.7 1387.3,974.5 1456.3,972.8 1456.3,1024 1420.3,1024 1387.3,1024 1364.2,1015.7 1347.7,1005.8" fill="#8CFF40" stroke="#8CFF40" stroke-width="0.6"/>
<polygon points="1370.8,989.3 1403.8,981.1 1456.3,981.1 1456.3,992.6 1420.3,992.6 1387.3,994.3" fill="#B0FF40" stroke="#B0FF40" stroke-width="0.6"/>
<path d="M925 1386.4L925 1332.6L951.4 1332.6L951.4 1337.5L1034 1337.5L1034 1332.6L1101.7 1332.6L1101.7 1337.5L1116.5 1337.5L1116.5 1332.6L1184.2 1332.6L1184.2 1323.7L1225.5 1323.7L1225.5 1315.1L1266.8 1315.1L1266.8 1323.7L1334.5 1323.7L1334.5 1332.6L1375.7 1332.6L1375.7 1337.5L1416 1337.5L1416 1341.8L1456.6 1341.8L1456.3 1386.4Z" fill="#fff"/>
<path d="M933.5 982.6L914.8 989.4M914.8 989.4L907.3 982.7M918.6 988L911.1 981.3M960.9 982.7L942.1 989.4M942.1 989.4L934.6 982.6M945.9 988L938.5 981.2M949.8 986.6L946 983.2M988.3 982.7L969.4 989.3M969.4 989.3L962 982.4M973.3 988L965.9 981.1M977.1 986.6L973.4 983.2M1015.7 982.8L996.7 989.2M996.7 989.2L989.4 982.3M1000.6 987.9L993.3 981M1004.5 986.6L1000.8 983.1M1043 982.9L1024.1 989.2M1024.1 989.2L1016.8 982.2M1027.9 987.9L1020.6 980.9M1031.8 986.6L1028.2 983.1M1070.4 982.9L1051.4 989.1M1051.4 989.1L1044.2 982.1M1055.3 987.8L1048 980.8M1059.2 986.6L1055.5 983.1M1097.8 983L1078.7 989M1078.7 989L1071.6 981.9M1082.6 987.8L1075.5 980.7M1086.5 986.6L1082.9 983M1125.2 983.1L1106.1 988.9M1106.1 988.9L1099 981.7M1110 987.7L1102.9 980.5M1113.9 986.5L1110.3 983M1152.6 983.2L1133.4 988.8M1133.4 988.8L1126.4 981.5M1137.3 987.6L1130.3 980.4M1141.2 986.5L1137.7 982.9M1180 983.3L1160.7 988.7M1160.7 988.7L1153.8 981.3M1164.6 987.6L1157.7 980.3M1168.6 986.5L1161.6 979.2M1207.3 983.5L1188 988.5M1188 988.5L1181.2 981.1M1192 987.5L1185.1 980.1M1195.9 986.5L1189.1 979.1M1234.7 983.6L1215.3 988.4M1215.3 988.4L1208.6 980.8M1219.3 987.4L1212.6 979.9M1223.3 986.4L1216.5 978.9M1262.1 983.8L1242.7 988.2M1242.7 988.2L1236.1 980.6M1246.6 987.3L1240.1 979.7M1250.6 986.4L1244 978.8M1289.5 984L1270 988M1270 988L1263.5 980.3M1274 987.2L1267.5 979.4M1278 986.4L1271.5 978.6M1316.9 984.2L1297.3 987.8M1297.3 987.8L1291 980M1301.3 987.1L1295 979.2M1305.3 986.3L1299 978.5M1344.3 984.3L1324.6 987.7M1324.6 987.7L1318.4 979.7M1328.6 987L1322.4 979.1M1332.6 986.3L1326.5 978.4M1371.7 984.4L1352 987.6M1352 987.6L1345.8 979.6M1356 987L1349.9 979M1360 986.3L1353.9 978.3M1399 984.4L1379.3 987.6M1379.3 987.6L1373.2 979.5M1383.3 986.9L1377.3 978.9M1387.4 986.3L1381.3 978.2M1426.4 984.5L1406.6 987.5M1406.6 987.5L1400.6 979.4M1410.7 986.9L1404.7 978.8M1414.7 986.3L1408.7 978.2M1418.7 985.7L1415.7 981.6M1453.8 984.6L1434 987.4M1434 987.4L1428 979.3M1438 986.9L1432.1 978.7M1442.1 986.3L1436.1 978.1M1446.1 985.7L1443.1 981.6M933.7 1026.7L914.6 1032.7M914.6 1032.7L907.4 1025.6M918.5 1031.5L911.3 1024.4M961 1026.8L941.9 1032.6M941.9 1032.6L934.8 1025.5M945.8 1031.4L938.7 1024.3M988.4 1026.8L969.3 1032.6M969.3 1032.6L962.2 1025.4M973.2 1031.4L966.1 1024.3M1015.8 1026.9L996.6 1032.6M996.6 1032.6L989.6 1025.4M1000.5 1031.4L993.5 1024.2M1043.1 1026.9L1024 1032.5M1024 1032.5L1016.9 1025.3M1027.9 1031.4L1020.8 1024.1M1070.5 1027L1051.3 1032.5M1051.3 1032.5L1044.3 1025.2M1055.2 1031.3L1048.2 1024.1M1097.9 1027L1078.6 1032.4M1078.6 1032.4L1071.7 1025.1M1082.6 1031.3L1075.6 1024M1125.3 1027.1L1106 1032.3M1106 1032.3L1099.1 1025M1109.9 1031.3L1103 1023.9M1113.8 1030.2L1110.4 1026.5M1152.6 1027.2L1133.3 1032.3M1133.3 1032.3L1126.5 1024.8M1137.3 1031.2L1130.4 1023.8M1141.2 1030.2L1137.8 1026.5M1180 1027.2L1160.7 1032.2M1160.7 1032.2L1153.9 1024.7M1164.6 1031.2L1157.8 1023.7M1168.6 1030.2L1165.2 1026.4M1207.4 1027.3L1188 1032.1M1188 1032.1L1181.3 1024.6M1191.9 1031.1L1185.2 1023.6M1195.9 1030.2L1192.5 1026.4M1234.8 1027.5L1215.3 1032M1215.3 1032L1208.7 1024.3M1219.3 1031L1212.7 1023.4M1223.2 1030.1L1219.9 1026.3M1262.2 1027.6L1242.6 1031.8M1242.6 1031.8L1236.1 1024.1M1246.6 1031L1240.1 1023.2M1250.6 1030.1L1247.3 1026.2M1289.5 1027.8L1270 1031.7M1270 1031.7L1263.6 1023.9M1274 1030.9L1267.6 1023.1M1277.9 1030.1L1274.8 1026.2M1316.9 1027.9L1297.3 1031.5M1297.3 1031.5L1291 1023.6M1301.3 1030.8L1295 1022.9M1305.3 1030L1302.2 1026.1M1344.3 1028L1324.6 1031.4M1324.6 1031.4L1318.4 1023.5M1328.6 1030.7L1322.4 1022.8M1332.6 1030L1329.6 1026M1371.7 1028.1L1352 1031.4M1352 1031.4L1345.8 1023.3M1356 1030.7L1349.9 1022.7M1360 1030L1356.9 1026M1399 1028.2L1379.3 1031.3M1379.3 1031.3L1373.2 1023.2M1383.3 1030.6L1377.3 1022.6M1387.4 1030L1381.3 1021.9M1426.4 1028.2L1406.6 1031.2M1406.6 1031.2L1400.6 1023.1M1410.7 1030.6L1404.7 1022.5M1414.7 1030L1408.7 1021.9M1453.8 1028.3L1434 1031.1M1434 1031.1L1428 1023M1438 1030.6L1432.1 1022.4M1442.1 1030L1436.1 1021.8M933.8 1071.1L914.5 1076.2M914.5 1076.2L907.6 1068.7M918.4 1075.1L915 1071.4M961.2 1071.1L941.8 1076.1M941.8 1076.1L935 1068.7M945.8 1075.1L939 1067.7M988.5 1071.1L969.2 1076.1M969.2 1076.1L962.4 1068.7M973.1 1075.1L966.3 1067.6M1015.9 1071.2L996.5 1076.1M996.5 1076.1L989.7 1068.6M1000.5 1075.1L993.7 1067.6M1043.2 1071.2L1023.9 1076.1M1023.9 1076.1L1017.1 1068.6M1027.8 1075.1L1021.1 1067.6M1070.6 1071.2L1051.2 1076M1051.2 1076L1044.5 1068.5M1055.2 1075.1L1048.4 1067.6M1098 1071.2L1078.6 1076M1078.6 1076L1071.8 1068.5M1082.5 1075L1075.8 1067.5M1125.3 1071.3L1105.9 1076M1105.9 1076L1099.2 1068.4M1109.9 1075L1103.2 1067.5M1152.7 1071.3L1133.3 1075.9M1133.3 1075.9L1126.6 1068.4M1137.2 1075L1130.6 1067.4M1180 1071.4L1160.6 1075.9M1160.6 1075.9L1154 1068.3M1164.6 1075L1157.9 1067.4M1207.4 1071.4L1187.9 1075.8M1187.9 1075.8L1181.4 1068.2M1191.9 1074.9L1185.3 1067.3M1234.8 1071.5L1215.3 1075.7M1215.3 1075.7L1208.8 1068M1219.3 1074.9L1212.7 1067.2M1262.2 1071.6L1242.6 1075.6M1242.6 1075.6L1236.2 1067.9M1246.6 1074.8L1240.2 1067M1289.5 1071.7L1269.9 1075.5M1269.9 1075.5L1263.6 1067.7M1273.9 1074.8L1267.6 1066.9M1316.9 1071.8L1297.3 1075.4M1297.3 1075.4L1291 1067.5M1301.3 1074.7L1295 1066.8M1305.3 1074L1302.2 1070M1344.3 1071.9L1324.6 1075.3M1324.6 1075.3L1318.4 1067.4M1328.6 1074.6L1322.4 1066.7M1332.6 1073.9L1329.6 1070M1371.7 1072L1352 1075.3M1352 1075.3L1345.8 1067.3M1356 1074.6L1349.9 1066.6M1360 1073.9L1356.9 1069.9M1399 1072.1L1379.3 1075.2M1379.3 1075.2L1373.2 1067.1M1383.3 1074.6L1377.3 1066.5M1387.4 1073.9L1384.3 1069.9M1426.4 1072.1L1406.6 1075.1M1406.6 1075.1L1400.6 1067M1410.7 1074.5L1404.7 1066.4M1414.7 1073.9L1411.7 1069.9M1453.8 1072.2L1434 1075M1434 1075L1428 1066.9M1438 1074.5L1432.1 1066.3M1442.1 1073.9L1439.1 1069.8M933.9 1106.3L914.4 1110.4M914.4 1110.4L907.9 1102.7M918.4 1109.6L915.1 1105.7M961.3 1106.3L941.7 1110.4M941.7 1110.4L935.2 1102.7M945.7 1109.6L942.5 1105.7M988.6 1106.3L969.1 1110.4M969.1 1110.4L962.6 1102.7M973.1 1109.6L969.8 1105.7M1016 1106.3L996.4 1110.4M996.4 1110.4L989.9 1102.7M1000.4 1109.6L997.2 1105.7M1043.3 1106.3L1023.8 1110.4M1023.8 1110.4L1017.3 1102.7M1027.8 1109.6L1024.5 1105.7M1070.7 1106.3L1051.1 1110.4M1051.1 1110.4L1044.7 1102.7M1055.1 1109.6L1051.9 1105.7M1098 1106.3L1078.5 1110.4M1078.5 1110.4L1072 1102.7M1082.5 1109.6L1079.2 1105.7M1125.4 1106.3L1105.9 1110.4M1105.9 1110.4L1099.4 1102.7M1109.8 1109.6L1106.6 1105.7M1152.7 1106.3L1133.2 1110.4M1133.2 1110.4L1126.7 1102.7M1137.2 1109.6L1134 1105.7M1180.1 1106.3L1160.6 1110.4M1160.6 1110.4L1154.1 1102.7M1164.5 1109.6L1158.1 1101.9M1207.5 1106.3L1187.9 1110.4M1187.9 1110.4L1181.4 1102.7M1191.9 1109.6L1185.4 1101.8M1234.8 1106.4L1215.3 1110.4M1215.3 1110.4L1208.8 1102.6M1219.2 1109.5L1212.8 1101.8M1262.2 1106.4L1242.6 1110.3M1242.6 1110.3L1236.2 1102.5M1246.6 1109.5L1240.2 1101.7M1289.6 1106.5L1269.9 1110.2M1269.9 1110.2L1263.6 1102.3M1273.9 1109.5L1267.6 1101.6M1316.9 1106.6L1297.3 1110.1M1297.3 1110.1L1291 1102.2M1301.3 1109.4L1295 1101.5M1344.3 1106.7L1324.6 1110.1M1324.6 1110.1L1318.4 1102.1M1328.6 1109.4L1322.4 1101.4M1371.7 1106.7L1352 1110M1352 1110L1345.8 1102M1356 1109.3L1349.9 1101.3M1399 1106.8L1379.3 1109.9M1379.3 1109.9L1373.2 1101.9M1383.3 1109.3L1377.3 1101.2M1426.4 1106.9L1406.6 1109.9M1406.6 1109.9L1400.6 1101.8M1410.7 1109.3L1404.7 1101.2M1453.8 1106.9L1434 1109.8M1434 1109.8L1428 1101.6M1438 1109.2L1432.1 1101.1M934 1133.3L914.3 1136.4M914.3 1136.4L908.2 1128.4M961.3 1133.3L941.6 1136.4M941.6 1136.4L935.5 1128.4M945.7 1135.8L942.6 1131.8M988.7 1133.2L969 1136.5M969 1136.5L962.9 1128.4M973 1135.8L970 1131.8M1016 1133.2L996.3 1136.5M996.3 1136.5L990.2 1128.5M1000.4 1135.8L997.3 1131.8M1043.4 1133.2L1023.7 1136.5M1023.7 1136.5L1017.6 1128.5M1027.7 1135.8L1024.6 1131.8M1070.7 1133.2L1051.1 1136.6M1051.1 1136.6L1044.9 1128.6M1055.1 1135.9L1052 1131.9M1098.1 1133.1L1078.4 1136.6M1078.4 1136.6L1072.2 1128.7M1082.4 1135.9L1079.3 1131.9M1125.4 1133.1L1105.8 1136.6M1105.8 1136.6L1099.5 1128.7M1109.8 1135.9L1106.7 1132M1152.8 1133L1133.2 1136.7M1133.2 1136.7L1126.9 1128.8M1137.2 1135.9L1134 1132M1180.1 1133L1160.5 1136.7M1160.5 1136.7L1154.2 1128.9M1164.5 1136L1161.4 1132M1207.5 1133L1187.9 1136.8M1187.9 1136.8L1181.5 1128.9M1191.9 1136L1188.7 1132.1M1234.8 1133L1215.2 1136.7M1215.2 1136.7L1208.9 1128.8M1219.2 1136L1216.1 1132M1262.2 1133L1242.6 1136.7M1242.6 1136.7L1236.3 1128.8M1246.6 1135.9L1240.3 1128M1289.6 1133.1L1269.9 1136.6M1269.9 1136.6L1263.7 1128.7M1273.9 1135.9L1267.7 1128M1316.9 1133.1L1297.3 1136.6M1297.3 1136.6L1291 1128.7M1301.3 1135.9L1295.1 1128M1344.3 1133.2L1324.6 1136.6M1324.6 1136.6L1318.4 1128.6M1328.6 1135.9L1322.4 1127.9M1371.7 1133.2L1352 1136.5M1352 1136.5L1345.8 1128.5M1356 1135.8L1349.9 1127.8M1399 1133.3L1379.3 1136.4M1379.3 1136.4L1373.2 1128.4M1383.3 1135.8L1377.3 1127.7M1426.4 1133.4L1406.6 1136.3M1406.6 1136.3L1400.6 1128.3M1410.7 1135.7L1404.7 1127.6M1453.8 1133.4L1434 1136.3M1434 1136.3L1428 1128.1M1438 1135.7L1432.1 1127.6M934.1 1159.6L914.2 1161.7M914.2 1161.7L908.6 1153.3M961.4 1159.5L941.6 1161.7M941.6 1161.7L935.9 1153.4M988.8 1159.5L968.9 1161.8M968.9 1161.8L963.2 1153.5M1016.1 1159.4L996.3 1161.8M996.3 1161.8L990.5 1153.6M1043.5 1159.4L1023.6 1161.9M1023.6 1161.9L1017.8 1153.6M1070.8 1159.3L1051 1161.9M1051 1161.9L1045.1 1153.7M1055.1 1161.4L1052.1 1157.3M1098.1 1159.2L1078.4 1162M1078.4 1162L1072.4 1153.9M1082.4 1161.5L1079.4 1157.4M1125.5 1159.1L1105.7 1162.1M1105.7 1162.1L1099.7 1154M1109.8 1161.5L1106.8 1157.5M1152.8 1159.1L1133.1 1162.2M1133.1 1162.2L1127 1154.2M1137.1 1161.6L1134.1 1157.5M1180.2 1159L1160.5 1162.3M1160.5 1162.3L1154.3 1154.3M1164.5 1161.6L1161.4 1157.6M1207.5 1158.9L1187.8 1162.4M1187.8 1162.4L1181.6 1154.4M1191.9 1161.7L1188.8 1157.7M1234.9 1158.9L1215.2 1162.4M1215.2 1162.4L1209 1154.4M1219.2 1161.7L1216.1 1157.7M1262.2 1158.9L1242.6 1162.4M1242.6 1162.4L1236.3 1154.4M1246.6 1161.7L1243.5 1157.7M1289.6 1158.9L1269.9 1162.4M1269.9 1162.4L1263.7 1154.4M1273.9 1161.7L1267.7 1153.7M1316.9 1158.9L1297.3 1162.4M1297.3 1162.4L1291.1 1154.4M1301.3 1161.7L1295.1 1153.7M1344.3 1158.9L1324.6 1162.3M1324.6 1162.3L1318.4 1154.4M1328.6 1161.6L1322.4 1153.7M1371.7 1159L1352 1162.3M1352 1162.3L1345.8 1154.3M1356 1161.6L1349.9 1153.6M1399 1159.1L1379.3 1162.2M1379.3 1162.2L1373.2 1154.1M1383.3 1161.6L1377.3 1153.5M1426.4 1159.1L1406.6 1162.1M1406.6 1162.1L1400.6 1154M1410.7 1161.5L1404.7 1153.4M1453.8 1159.2L1434 1162.1M1434 1162.1L1428 1153.9M1438 1161.5L1432.1 1153.3M934.1 1181.6L914.2 1182.7M914.2 1182.7L909 1174M961.5 1181.5L941.5 1182.7M941.5 1182.7L936.3 1174.1M988.8 1181.4L968.9 1182.8M968.9 1182.8L963.6 1174.2M1016.2 1181.4L996.2 1182.9M996.2 1182.9L990.8 1174.4M1043.5 1181.3L1023.6 1183M1023.6 1183L1018.1 1174.5M1070.8 1181.2L1051 1183.1M1051 1183.1L1045.4 1174.6M1098.2 1181.1L1078.3 1183.2M1078.3 1183.2L1072.7 1174.8M1125.5 1180.9L1105.7 1183.3M1105.7 1183.3L1099.9 1175.1M1152.9 1180.8L1133.1 1183.5M1133.1 1183.5L1127.2 1175.3M1137.1 1182.9L1134.2 1178.8M1180.2 1180.7L1160.5 1183.6M1160.5 1183.6L1154.5 1175.5M1164.5 1183L1161.5 1178.9M1207.5 1180.6L1187.8 1183.7M1187.8 1183.7L1181.7 1175.6M1191.8 1183.1L1188.8 1179M1234.9 1180.5L1215.2 1183.7M1215.2 1183.7L1209.1 1175.7M1219.2 1183.1L1216.2 1179.1M1262.2 1180.5L1242.5 1183.8M1242.5 1183.8L1236.4 1175.8M1246.6 1183.1L1243.5 1179.1M1289.6 1180.5L1269.9 1183.8M1269.9 1183.8L1263.7 1175.8M1273.9 1183.1L1270.8 1179.1M1316.9 1180.4L1297.3 1183.8M1297.3 1183.8L1291.1 1175.9M1301.3 1183.1L1295.1 1175.2M1344.3 1180.4L1324.6 1183.8M1324.6 1183.8L1318.4 1175.9M1328.6 1183.1L1322.4 1175.2M1371.7 1180.5L1352 1183.8M1352 1183.8L1345.8 1175.8M1356 1183.1L1349.9 1175.1M1399 1180.6L1379.3 1183.7M1379.3 1183.7L1373.2 1175.6M1383.3 1183.1L1377.3 1175M1426.4 1180.6L1406.6 1183.6M1406.6 1183.6L1400.6 1175.5M1410.7 1183L1404.7 1174.9M1453.8 1180.7L1434 1183.5M1434 1183.5L1428 1175.4M1438 1183L1432.1 1174.8M934.1 1203.2L914.1 1203.2M918.2 1203.2L915.9 1198.8M961.5 1203.1L941.5 1203.3M945.6 1203.3L943.2 1198.9M988.8 1203L968.9 1203.4M972.9 1203.3L970.5 1198.9M1016.2 1202.9L996.2 1203.5M996.2 1203.5L991.2 1194.8M1043.5 1202.8L1023.6 1203.6M1023.6 1203.6L1018.5 1194.9M1070.9 1202.7L1050.9 1203.8M1050.9 1203.8L1045.7 1195.1M1098.2 1202.5L1078.3 1203.9M1078.3 1203.9L1072.9 1195.4M1125.6 1202.3L1105.7 1204.1M1105.7 1204.1L1100.2 1195.7M1152.9 1202.1L1133 1204.3M1133 1204.3L1127.4 1196M1180.2 1202L1160.4 1204.5M1160.4 1204.5L1154.6 1196.2M1207.6 1201.8L1187.8 1204.6M1187.8 1204.6L1181.9 1196.5M1234.9 1201.7L1215.2 1204.7M1215.2 1204.7L1209.2 1196.6M1219.2 1204.1L1216.2 1200M1262.3 1201.7L1242.5 1204.8M1242.5 1204.8L1236.5 1196.7M1246.6 1204.1L1243.5 1200.1M1289.6 1201.6L1269.9 1204.8M1269.9 1204.8L1263.8 1196.8M1273.9 1204.2L1270.9 1200.2M1316.9 1201.5L1297.3 1204.9M1297.3 1204.9L1291.1 1196.9M1301.3 1204.2L1298.2 1200.2M1344.3 1201.5L1324.6 1204.9M1324.6 1204.9L1318.4 1197M1328.6 1204.2L1322.4 1196.3M1371.7 1201.6L1352 1204.9M1352 1204.9L1345.8 1196.8M1356 1204.2L1349.9 1196.2M1399 1201.7L1379.3 1204.8M1379.3 1204.8L1373.2 1196.7M1383.3 1204.1L1377.3 1196.1M1426.4 1201.7L1406.6 1204.7M1406.6 1204.7L1400.6 1196.6M1410.7 1204.1L1404.7 1196M1453.8 1201.8L1434 1204.6M1434 1204.6L1428 1196.5M1438 1204.1L1432.1 1195.9M934.1 1221.8L914.2 1223M918.2 1222.7L915.6 1218.4M961.4 1221.7L941.5 1223.1M945.6 1222.8L942.9 1218.5M988.8 1221.5L968.9 1223.2M973 1222.9L970.2 1218.6M1016.1 1221.4L996.3 1223.3M996.3 1223.3L990.7 1214.9M1043.5 1221.3L1023.6 1223.5M1023.6 1223.5L1017.9 1215.1M1070.8 1221.1L1051 1223.6M1051 1223.6L1045.2 1215.3M1098.2 1221.1L1078.4 1223.7M1078.4 1223.7L1072.5 1215.5M1125.5 1221L1105.7 1223.8M1105.7 1223.8L1099.8 1215.6M1152.8 1220.9L1133.1 1223.8M1133.1 1223.8L1127.1 1215.7M1180.2 1220.8L1160.5 1223.9M1160.5 1223.9L1154.4 1215.9M1207.5 1220.7L1187.8 1224M1187.8 1224L1181.7 1216M1234.9 1220.7L1215.2 1224M1215.2 1224L1209 1216M1219.2 1223.3L1216.1 1219.3M1262.2 1220.7L1242.5 1224M1242.5 1224L1236.4 1216.1M1246.6 1223.4L1243.5 1219.4M1289.6 1220.7L1269.9 1224.1M1269.9 1224.1L1263.7 1216.1M1273.9 1223.4L1270.8 1219.4M1316.9 1220.7L1297.3 1224.1M1297.3 1224.1L1291.1 1216.1M1301.3 1223.4L1298.2 1219.4M1344.3 1220.7L1324.6 1224.1M1324.6 1224.1L1318.4 1216.1M1328.6 1223.4L1325.5 1219.4M1371.7 1220.8L1352 1224M1352 1224L1345.9 1215.9M1356 1223.3L1352.9 1219.3M1399 1220.9L1379.3 1223.8M1379.3 1223.8L1373.3 1215.7M1383.3 1223.2L1377.3 1215.1M1426.4 1221L1406.6 1223.7M1406.6 1223.7L1400.7 1215.6M1410.7 1223.2L1404.8 1215M1453.8 1221.1L1434 1223.6M1434 1223.6L1428.1 1215.4M1438 1223.1L1432.2 1214.9M934.1 1240.5L914.2 1242.8M918.3 1242.3L915.4 1238.2M961.4 1240.3L941.6 1242.9M945.6 1242.4L942.7 1238.3M988.7 1240.2L969 1243.1M973 1242.5L970 1238.4M1016.1 1240L996.3 1243.2M996.3 1243.2L990.2 1235.2M1043.4 1239.9L1023.7 1243.4M1023.7 1243.4L1017.5 1235.5M1070.7 1239.7L1051.1 1243.5M1051.1 1243.5L1044.8 1235.7M1098.1 1239.7L1078.5 1243.5M1078.5 1243.5L1072.1 1235.7M1125.4 1239.7L1105.8 1243.5M1105.8 1243.5L1099.5 1235.7M1152.8 1239.8L1133.2 1243.5M1133.2 1243.5L1126.8 1235.6M1180.1 1239.8L1160.5 1243.5M1160.5 1243.5L1154.2 1235.6M1207.5 1239.8L1187.9 1243.5M1187.9 1243.5L1181.6 1235.6M1234.9 1239.8L1215.2 1243.4M1215.2 1243.4L1208.9 1235.6M1219.2 1242.7L1216.1 1238.8M1262.2 1239.8L1242.6 1243.4M1242.6 1243.4L1236.3 1235.5M1246.6 1242.7L1243.4 1238.7M1289.6 1239.9L1269.9 1243.4M1269.9 1243.4L1263.7 1235.5M1273.9 1242.7L1270.8 1238.7M1316.9 1239.9L1297.3 1243.4M1297.3 1243.4L1291 1235.4M1301.3 1242.7L1298.2 1238.7M1344.3 1239.9L1324.6 1243.3M1324.6 1243.3L1318.4 1235.3M1328.6 1242.6L1325.5 1238.6M1371.7 1240.1L1351.9 1243.2M1351.9 1243.2L1345.9 1235.1M1356 1242.5L1352.9 1238.5M1399.1 1240.2L1379.3 1243M1379.3 1243L1373.3 1234.9M1383.3 1242.5L1380.3 1238.4M1426.4 1240.4L1406.6 1242.9M1406.6 1242.9L1400.8 1234.6M1410.7 1242.4L1407.8 1238.2M1453.8 1240.5L1434 1242.7M1434 1242.7L1428.3 1234.4M1438 1242.3L1435.2 1238.1M934 1256.7L914.3 1260.2M918.3 1259.5L915.2 1255.5M961.3 1256.5L941.7 1260.3M945.7 1259.6L942.5 1255.6M988.6 1256.4L969.1 1260.5M973.1 1259.7L969.8 1255.8M1015.9 1256.2L996.5 1260.7M996.5 1260.7L989.8 1253.1M1043.2 1256L1023.9 1260.9M1023.9 1260.9L1017.1 1253.4M1070.6 1255.9L1051.3 1261M1051.3 1261L1044.4 1253.6M1097.9 1256L1078.6 1260.9M1078.6 1260.9L1071.8 1253.4M1125.3 1256.1L1105.9 1260.8M1105.9 1260.8L1099.2 1253.3M1152.7 1256.2L1133.2 1260.7M1133.2 1260.7L1126.6 1253.1M1180.1 1256.3L1160.6 1260.6M1160.6 1260.6L1154 1252.9M1207.5 1256.4L1187.9 1260.5M1187.9 1260.5L1181.4 1252.8M1234.8 1256.4L1215.3 1260.4M1215.3 1260.4L1208.8 1252.6M1219.2 1259.6L1216 1255.7M1262.2 1256.5L1242.6 1260.4M1242.6 1260.4L1236.2 1252.5M1246.6 1259.6L1243.4 1255.7M1289.6 1256.6L1269.9 1260.3M1269.9 1260.3L1263.6 1252.4M1273.9 1259.5L1270.8 1255.6M1316.9 1256.7L1297.3 1260.2M1297.3 1260.2L1291 1252.3M1301.3 1259.5L1298.2 1255.5M1344.3 1256.8L1324.6 1260.1M1324.6 1260.1L1318.5 1252.1M1328.6 1259.4L1325.6 1255.4M1371.7 1257L1351.9 1259.9M1351.9 1259.9L1345.9 1251.8M1356 1259.3L1353 1255.3M1399.1 1257.1L1379.3 1259.7M1379.3 1259.7L1373.4 1251.5M1383.3 1259.2L1380.4 1255.1M1426.4 1257.3L1406.6 1259.6M1406.6 1259.6L1400.9 1251.3M1410.6 1259.1L1407.8 1254.9M1453.8 1257.5L1433.9 1259.4M1433.9 1259.4L1428.4 1251M1438 1259L1435.2 1254.8M920.4 1274.1L900.4 1274.4M904.5 1274.3L902.1 1269.9M947.8 1273.9L927.8 1274.6M931.9 1274.4L929.4 1270.1M975.1 1273.4L955.2 1275M959.2 1274.7L956.5 1270.4M1002.4 1273L982.6 1275.4M986.6 1274.9L983.7 1270.8M1029.7 1272.6L1010 1275.8M1010 1275.8L1003.9 1267.8M1057 1272.2L1037.4 1276.2M1037.4 1276.2L1031 1268.5M1084.3 1272.1L1064.8 1276.4M1064.8 1276.4L1058.3 1268.7M1111.7 1272.1L1092.2 1276.4M1092.2 1276.4L1085.6 1268.7M1139 1272.1L1119.5 1276.3M1119.5 1276.3L1113 1268.6M1166.4 1272.1L1146.9 1276.3M1146.9 1276.3L1140.4 1268.6M1193.7 1272.1L1174.2 1276.3M1174.2 1276.3L1167.7 1268.6M1221.1 1272.2L1201.6 1276.2M1201.6 1276.2L1195.1 1268.4M1248.5 1272.3L1228.9 1276.1M1228.9 1276.1L1222.5 1268.3M1275.9 1272.4L1256.2 1276M1256.2 1276L1250 1268.1M1303.2 1272.5L1283.6 1275.9M1283.6 1275.9L1277.4 1267.9M1287.6 1275.2L1284.5 1271.2M1330.6 1272.7L1310.9 1275.8M1310.9 1275.8L1304.8 1267.8M1314.9 1275.2L1311.9 1271.1M1358 1272.7L1338.2 1275.8M1338.2 1275.8L1332.2 1267.7M1342.3 1275.1L1339.2 1271.1M1385.3 1272.7L1365.6 1275.8M1365.6 1275.8L1359.6 1267.7M1369.6 1275.1L1366.6 1271.1M1412.7 1272.7L1392.9 1275.7M1392.9 1275.7L1386.9 1267.7M1397 1275.1L1394 1271.1M1440 1272.7L1420.3 1275.7M1420.3 1275.7L1414.3 1267.6M1424.3 1275.1L1421.3 1271.1M1467.4 1272.8L1447.7 1275.7M1447.7 1275.7L1441.7 1267.6M1451.7 1275.1L1448.7 1271M934 1288.4L914.2 1285.6M918.3 1286.1L916.6 1281.4M961.4 1287.7L941.5 1286.2M945.6 1286.5L943.6 1281.9M988.8 1287.1L968.9 1286.8M972.9 1286.9L970.6 1282.4M1016.2 1286.4L996.2 1287.5M1000.3 1287.3L997.7 1282.9M1043.5 1285.8L1023.6 1288.1M1027.7 1287.7L1024.8 1283.5M1070.7 1285.2L1051.1 1288.7M1051.1 1288.7L1044.9 1280.8M1098.1 1285.2L1078.4 1288.8M1078.4 1288.8L1072.2 1280.9M1125.4 1285.1L1105.8 1288.8M1105.8 1288.8L1099.5 1281M1152.8 1285L1133.2 1288.9M1133.2 1288.9L1126.8 1281.1M1180.1 1284.9L1160.6 1289M1160.6 1289L1154.1 1281.2M1207.5 1284.9L1187.9 1289M1187.9 1289L1181.5 1281.3M1234.8 1285.1L1215.2 1288.9M1215.2 1288.9L1208.9 1281M1262.2 1285.2L1242.6 1288.7M1242.6 1288.7L1236.3 1280.8M1289.6 1285.3L1269.9 1288.6M1269.9 1288.6L1263.8 1280.6M1317 1285.5L1297.2 1288.4M1297.2 1288.4L1291.2 1280.3M1344.3 1285.5L1324.6 1288.4M1324.6 1288.4L1318.6 1280.3M1371.7 1285.4L1352 1288.6M1352 1288.6L1345.9 1280.5M1399 1285.2L1379.3 1288.7M1379.3 1288.7L1373.1 1280.7M1426.3 1285.1L1406.7 1288.8M1406.7 1288.8L1400.4 1281M1453.7 1285L1434.1 1289M1434.1 1289L1427.7 1281.2M919.9 1300L901 1293.5M904.8 1294.8L904.1 1289.8M947.3 1299.7L928.3 1293.8M932.1 1295L931.2 1290M974.8 1299.2L955.5 1294.3M959.4 1295.3L958.2 1290.4M1002.3 1298.6L982.7 1294.9M986.7 1295.7L985.2 1290.8M1029.8 1298L1009.9 1295.5M1014 1296L1012.2 1291.3M1057.2 1297.4L1037.2 1296.1M1041.3 1296.3L1039.2 1291.7M1084.5 1297.1L1064.6 1296.4M1068.7 1296.5L1066.4 1292M1111.9 1297L1091.9 1296.5M1096 1296.6L1093.7 1292.1M1139.3 1296.9L1119.3 1296.6M1119.3 1296.6L1114.6 1287.7M1166.6 1296.7L1146.6 1296.8M1146.6 1296.8L1141.9 1287.9M1194 1296.6L1174 1296.9M1174 1296.9L1169.1 1288.1M1221.3 1296.6L1201.4 1296.9M1201.4 1296.9L1196.4 1288.1M1248.7 1296.5L1228.7 1296.9M1228.7 1296.9L1223.8 1288.1M1276 1296.5L1256.1 1297M1256.1 1297L1251.1 1288.2M1303.4 1296.5L1283.4 1297M1283.4 1297L1278.5 1288.2M1330.7 1296.5L1310.8 1297M1310.8 1297L1305.8 1288.2M1358.1 1296.5L1338.1 1297M1338.1 1297L1333.2 1288.2M1385.4 1296.5L1365.5 1297M1365.5 1297L1360.5 1288.2M1412.8 1296.5L1392.8 1297M1392.8 1297L1387.9 1288.1M1440.2 1296.6L1420.2 1296.9M1420.2 1296.9L1415.3 1288.1M1467.5 1296.6L1447.5 1296.9M1447.5 1296.9L1442.7 1288.1M932.8 1310.8L915.5 1300.8M919 1302.9L919.2 1297.8M960.4 1310.3L942.6 1301.3M946.2 1303.1L946.1 1298.1M988 1309.9L969.7 1301.8M973.4 1303.4L973.1 1298.4M1015.5 1309.4L996.9 1302.3M1000.7 1303.7L1000 1298.7M1043.1 1308.9L1024 1302.8M1027.9 1304L1027 1299M1070.6 1308.4L1051.3 1303.2M1055.2 1304.3L1054.1 1299.4M1098 1308.2L1078.6 1303.4M1082.5 1304.4L1081.3 1299.5M1125.4 1308L1105.9 1303.6M1109.9 1304.5L1108.5 1299.6M1152.7 1307.9L1133.2 1303.8M1137.2 1304.6L1135.8 1299.8M1180.1 1307.7L1160.5 1303.9M1160.5 1303.9L1157.5 1294.3M1207.5 1307.5L1187.8 1304.1M1187.8 1304.1L1184.7 1294.5M1234.9 1307.3L1215.2 1304.3M1215.2 1304.3L1211.8 1294.8M1262.3 1307.1L1242.5 1304.5M1242.5 1304.5L1239 1295M1289.7 1307L1269.8 1304.7M1269.8 1304.7L1266.2 1295.3M1317 1306.8L1297.2 1304.8M1297.2 1304.8L1293.3 1295.5M1344.4 1306.8L1324.5 1304.9M1324.5 1304.9L1320.6 1295.6M1371.7 1306.9L1351.9 1304.7M1351.9 1304.7L1348.2 1295.3M1399.1 1307.1L1379.3 1304.5M1379.3 1304.5L1375.7 1295.1M1426.4 1307.3L1406.6 1304.3M1406.6 1304.3L1403.3 1294.8M1453.7 1307.5L1434 1304.2M1434 1304.2L1430.8 1294.6M917.5 1321.9L903.4 1307.8M906.3 1310.7L907.7 1305.9M945 1321.8L930.6 1307.9M933.5 1310.8L934.9 1305.9M972.6 1321.6L957.7 1308.2M960.7 1310.9L962 1306M1000.2 1321.3L984.8 1308.5M988 1311.1L989 1306.2M1027.7 1321L1012 1308.8M1015.2 1311.3L1016 1306.3M1055.3 1320.7L1039.1 1309M1042.4 1311.4L1043.1 1306.4M1082.8 1320.5L1066.3 1309.2M1069.7 1311.5L1070.2 1306.5M1110.3 1320.4L1093.6 1309.4M1097 1311.6L1097.4 1306.6M1137.7 1320.2L1120.8 1309.5M1124.3 1311.7L1124.7 1306.7M1165.2 1320.1L1148.1 1309.7M1151.6 1311.8L1151.9 1306.8M1192.6 1319.9L1175.4 1309.8M1178.9 1311.9L1179.1 1306.9M1220 1319.9L1202.7 1309.9M1206.2 1311.9L1206.4 1306.9M1247.3 1319.9L1230 1309.9M1233.6 1311.9L1233.7 1306.9M1274.7 1319.9L1257.4 1309.9M1260.9 1311.9L1261.1 1306.9M1302 1319.9L1284.8 1309.9M1288.3 1311.9L1288.5 1306.9M1329.4 1319.9L1312.1 1309.9M1315.6 1311.9L1315.8 1306.9M1357 1319.4L1339.2 1310.3M1342.9 1312.2L1342.8 1307.1M1384.6 1319L1366.4 1310.8M1370.1 1312.5L1369.7 1307.4M1412.1 1318.5L1393.5 1311.3M1397.3 1312.8L1396.7 1307.8M1439.7 1318L1420.7 1311.8M1424.6 1313.1L1423.7 1308.1M1467.2 1317.5L1447.9 1312.3M1447.9 1312.3L1445.6 1302.5M930.7 1331.5L917.6 1316.4M920.2 1319.5L922 1314.8M958.4 1331.2L944.6 1316.7M947.4 1319.7L949 1314.9M986.1 1330.8L971.6 1317M974.6 1319.9L975.9 1315M1013.7 1330.5L998.7 1317.4M1001.7 1320.1L1002.9 1315.1M1041.4 1330.2L1025.7 1317.7M1028.9 1320.3L1029.9 1315.3M1069 1329.8L1052.8 1318.1M1056.1 1320.5L1056.8 1315.5M1096.5 1329.6L1080.1 1318.2M1083.4 1320.6L1084 1315.6M1123.9 1329.5L1107.3 1318.4M1110.7 1320.7L1111.2 1315.7M1151.4 1329.3L1134.5 1318.6M1138 1320.8L1138.3 1315.8M1178.9 1329.1L1161.8 1318.8M1165.3 1320.9L1165.5 1315.9M1206.3 1328.9L1189 1319M1192.6 1321L1192.7 1316M1233.7 1328.9L1216.4 1319M1219.9 1321L1220.1 1316M1288.4 1328.9L1271.1 1319M1274.6 1321L1274.8 1316M1315.7 1328.9L1298.5 1319M1302 1321L1302.2 1316M1343.2 1328.7L1325.7 1319.1M1329.3 1321.1L1329.3 1316.1M1370.8 1328.3L1352.8 1319.6M1356.5 1321.4L1356.3 1316.3M1398.4 1327.8L1379.9 1320.1M1383.7 1321.7L1383.2 1316.7M1425.9 1327.3L1407.1 1320.6M1410.9 1322L1410.2 1317M1453.5 1326.8L1434.3 1321.1M1434.3 1321.1L1432.3 1311.2M916.5 1344.2L904.4 1328.4M906.8 1331.6L908.9 1327M944.1 1344L931.5 1328.5M934.1 1331.7L936 1327M971.8 1343.7L958.5 1328.9M961.2 1331.9L962.9 1327.1M999.6 1343.3L985.4 1329.2M988.3 1332.1L989.8 1327.3M1027.3 1342.9L1012.4 1329.6M1015.4 1332.3L1016.6 1327.4M1055 1342.5L1039.4 1330M1042.6 1332.6L1043.5 1327.6M1082.6 1342.2L1066.5 1330.3M1069.8 1332.8L1070.6 1327.8M1110.1 1342L1093.7 1330.5M1097.1 1332.9L1097.7 1327.9M1137.6 1341.8L1120.9 1330.8M1124.3 1333L1124.8 1328M1165.1 1341.6L1148.1 1331M1151.6 1333.1L1152 1328.1M1192.6 1341.3L1175.4 1331.2M1178.9 1333.3L1179.1 1328.2M1357 1340.8L1339.2 1331.7M1342.9 1333.6L1342.8 1328.5M1384.6 1340.4L1366.4 1332.2M1370.1 1333.9L1369.7 1328.8M1412.1 1339.9L1393.5 1332.7M1397.3 1334.2L1396.7 1329.1M1439.7 1339.3L1420.7 1333.2M1424.6 1334.5L1423.7 1329.5M1467.2 1338.9L1447.9 1333.7M1447.9 1333.7L1445.6 1323.9M1425.9 1349.5L1407.1 1342.8M1410.9 1344.2L1410.2 1339.2M1453.5 1349L1434.3 1343.3M1434.3 1343.3L1432.3 1333.5" fill="none" stroke="#333" stroke-width="1.05" stroke-linecap="butt"/>
</g>
<rect x="925" y="953" width="531.3" height="433.4" fill="none" stroke="#222" stroke-width="1.25"/>
<text transform="translate(896.1 961.1) scale(1.000 1.050)" font-size="22.4" text-anchor="end" fill="#000"  stroke="#000" stroke-width="0.28">200</text>
<text transform="translate(896.1 1070.6) scale(1.000 1.050)" font-size="22.4" text-anchor="end" fill="#000"  stroke="#000" stroke-width="0.28">300</text>
<text transform="translate(896.1 1208.5) scale(1.000 1.050)" font-size="22.4" text-anchor="end" fill="#000"  stroke="#000" stroke-width="0.28">500</text>
<text transform="translate(896.1 1299.4) scale(1.000 1.050)" font-size="22.4" text-anchor="end" fill="#000"  stroke="#000" stroke-width="0.28">700</text>
<text transform="translate(896.1 1351.7) scale(1.000 1.050)" font-size="22.4" text-anchor="end" fill="#000"  stroke="#000" stroke-width="0.28">850</text>
<text transform="translate(896.1 1374.6) scale(1.000 1.050)" font-size="22.4" text-anchor="end" fill="#000"  stroke="#000" stroke-width="0.28">925</text>
<text transform="translate(1483.1 989.5) scale(1.000 1.050)" font-size="21" text-anchor="start" fill="#000"  stroke="#000" stroke-width="0.28">35</text>
<text transform="translate(1483.1 1048.2) scale(1.000 1.050)" font-size="21" text-anchor="start" fill="#000"  stroke="#000" stroke-width="0.28">30</text>
<text transform="translate(1483.1 1107) scale(1.000 1.050)" font-size="21" text-anchor="start" fill="#000"  stroke="#000" stroke-width="0.28">25</text>
<text transform="translate(1483.1 1165.8) scale(1.000 1.050)" font-size="21" text-anchor="start" fill="#000"  stroke="#000" stroke-width="0.28">20</text>
<text transform="translate(1483.1 1224.6) scale(1.000 1.050)" font-size="21" text-anchor="start" fill="#000"  stroke="#000" stroke-width="0.28">15</text>
<text transform="translate(1483.1 1283.4) scale(1.000 1.050)" font-size="21" text-anchor="start" fill="#000"  stroke="#000" stroke-width="0.28">10</text>
<text transform="translate(1483.1 1342) scale(1.000 1.050)" font-size="21" text-anchor="start" fill="#000"  stroke="#000" stroke-width="0.28">5</text>
<text transform="translate(1483.1 1388.4) scale(1.000 1.050)" font-size="21" text-anchor="start" fill="#000"  stroke="#000" stroke-width="0.28">1</text>
<text transform="translate(923 1431.7) scale(1.000 1.050)" font-size="22" text-anchor="middle" fill="#000"  stroke="#000" stroke-width="0.28">113.0W</text>
<text transform="translate(923 1456.1) scale(1.000 1.050)" font-size="22" text-anchor="middle" fill="#000"  stroke="#000" stroke-width="0.28">40.1N</text>
<text transform="translate(1059.1 1431.7) scale(1.000 1.050)" font-size="22" text-anchor="middle" fill="#000"  stroke="#000" stroke-width="0.28">113.0W</text>
<text transform="translate(1059.1 1456.1) scale(1.000 1.050)" font-size="22" text-anchor="middle" fill="#000"  stroke="#000" stroke-width="0.28">41.7N</text>
<text transform="translate(1195.2 1431.7) scale(1.000 1.050)" font-size="22" text-anchor="middle" fill="#000"  stroke="#000" stroke-width="0.28">113.0W</text>
<text transform="translate(1195.2 1456.1) scale(1.000 1.050)" font-size="22" text-anchor="middle" fill="#000"  stroke="#000" stroke-width="0.28">43.3N</text>
<text transform="translate(1331.3 1431.7) scale(1.000 1.050)" font-size="22" text-anchor="middle" fill="#000"  stroke="#000" stroke-width="0.28">113.0W</text>
<text transform="translate(1331.3 1456.1) scale(1.000 1.050)" font-size="22" text-anchor="middle" fill="#000"  stroke="#000" stroke-width="0.28">44.9N</text>
<path d="M911.1 953H925M911.1 1062.4H925M911.1 1200.4H925M911.1 1291.2H925M911.1 1343.6H925M911.1 1366.4H925M1456.3 981.8H1470M1456.3 1040.6H1470M1456.3 1099.4H1470M1456.3 1158.2H1470M1456.3 1217H1470M1456.3 1275.8H1470M1456.3 1334.3H1470M1456.3 1380.8H1470M925 1386.4V1399.8M1061.1 1386.4V1399.8M1197.2 1386.4V1399.8M1333.3 1386.4V1399.8" fill="none" stroke="#444" stroke-width="1.15"/>
<text transform="translate(1191 943) scale(1.000 1.075)" font-size="34.1" text-anchor="middle" fill="#000"  stroke="#000" stroke-width="0.4">Curtain 4 (C4)</text>
<rect x="1373.3" y="1395.4" width="83.3" height="66.6" fill="#fff" stroke="#888" stroke-width="1"/>
<text transform="translate(1414.9 1418.7) scale(1.000 1.040)" font-size="24" text-anchor="middle" fill="#000"  stroke="#000" stroke-width="0.28">30 m/s</text>
<path d="M1424 1442.1L1407.5 1442.1M1407.5 1442.1L1402.3 1432.4M1410.1 1442.1L1405 1432.4M1412.8 1442.1L1407.6 1432.4" fill="none" stroke="#444" stroke-width="0.8"/>
<clipPath id="cp4"><rect x="256.8" y="1678" width="521.5" height="425.4"/></clipPath>
<g clip-path="url(#cp4)">
<rect x="256.8" y="1678" width="521.5" height="425.4" fill="#40D0FF"/>
<polygon points="256.8,1678 683,1678 674.9,1697.4 665.2,1720.1 655.5,1749.3 653.8,1784.9 644.1,1820.6 645.7,1853 652.2,1878.9 655.5,1904.8 650.6,1937.2 639.3,1963.1 619.8,1982.6 597.1,1997.1 564.7,2006.9 516.1,2013.3 451.3,2011.1 386.4,2006.2 321.6,2002 256.8,1999.7" fill="#40E6FF" stroke="#40E6FF" stroke-width="0.6"/>
<polygon points="256.8,1678 634.4,1678 629.5,1703.9 623,1736.3 613.3,1762.2 606.8,1791.4 603.6,1823.8 605.2,1853 619.8,1878.9 629.5,1904.8 629.5,1930.7 623,1953.4 606.8,1972.8 587.4,1989 564.7,1997.1 532.3,1998.8 499.9,1997.1 467.5,1990.7 435.1,1979.3 402.7,1969.6 370.2,1964.7 337.8,1963.1 305.4,1958.3 256.8,1956" fill="#40FAFF" stroke="#40FAFF" stroke-width="0.6"/>
<polygon points="324.9,1946.9 347.6,1937.2 376.7,1934 399.4,1940.4 396.2,1953.4 370.2,1959.9 341.1,1958.3" fill="#40D0FF" stroke="#40D0FF" stroke-width="0.6"/>
<polygon points="256.8,1678 610.1,1678 608.5,1703.9 602,1726.6 592.3,1749.3 584.2,1775.2 576.1,1801.1 572.8,1823.8 576.1,1849.7 584.2,1872.4 593.9,1888.6 600.4,1911.3 597.1,1930.7 584.2,1950.2 564.7,1963.1 542,1969.6 516.1,1968 496.6,1956.6 483.7,1940.4 464.2,1927.5 438.3,1917.8 412.4,1904.8 386.4,1891.8 370.2,1888.6 350.8,1891.8 331.3,1908 298.9,1927.5 256.8,1940.4" fill="#40FFDC" stroke="#40FFDC" stroke-width="0.6"/>
<polygon points="256.8,1687.7 289.2,1694.2 337.8,1697.4 386.4,1695.8 425.3,1691 483.7,1687.7 535.5,1678 608.5,1678 608.5,1710.4 593.9,1729.8 574.4,1749.3 558.2,1772 545.3,1797.9 538.8,1820.6 516.1,1807.6 496.6,1801.1 477.2,1802.7 464.2,1807.6 451.3,1817.3 431.8,1820.6 386.4,1817.3 337.8,1810.8 305.4,1804.4 282.7,1797.9 256.8,1796.3" fill="#40FFAC" stroke="#40FFAC" stroke-width="0.6"/>
<polygon points="464.2,1853 490.2,1843.2 516.1,1836.8 532.3,1830.3 542,1849.7 548.5,1872.4 551.7,1898.3 548.5,1911.3 532.3,1917.8 503.1,1914.5 480.4,1904.8 464.2,1888.6 457.8,1869.2" fill="#40FFAC" stroke="#40FFAC" stroke-width="0.6"/>
<polygon points="256.8,1872.4 289.2,1869.2 321.6,1869.2 347.6,1878.9 350.8,1891.8 331.3,1908 298.9,1927.5 256.8,1938.8" fill="#40FFAC" stroke="#40FFAC" stroke-width="0.6"/>
<polygon points="256.8,1883.7 282.7,1882.1 305.4,1888.6 320,1901.6 298.9,1917.8 273,1930.7 256.8,1935.6" fill="#40FF50" stroke="#40FF50" stroke-width="0.6"/>
<polygon points="256.8,1893.5 279.5,1893.5 295.7,1903.2 282.7,1917.8 256.8,1929.1" fill="#64FF40" stroke="#64FF40" stroke-width="0.6"/>
<polygon points="256.8,1899.9 273,1901.6 279.5,1909.7 269.8,1921 256.8,1924.2" fill="#8CFF40" stroke="#8CFF40" stroke-width="0.6"/>
<polygon points="256.8,1744.4 289.2,1746 337.8,1742.8 386.4,1736.3 431.8,1729.8 444.8,1746 438.3,1762.2 418.9,1784.9 399.4,1797.9 370.2,1806 337.8,1806 308.7,1797.9 292.5,1784.9 282.7,1772 256.8,1767.1" fill="#40FF50" stroke="#40FF50" stroke-width="0.6"/>
<polygon points="600.4,2015 613.3,2002 639.3,1992.3 668.4,1972.8 710.6,1959.9 736.5,1953.4 778.3,1956.6 778.3,2103.4 613.3,2103.4" fill="#38B8FF" stroke="#38B8FF" stroke-width="0.6"/>
<path d="M256.8 2103.4L256.8 2086.2L310.3 2086.2L310.3 2083L323.2 2083L323.2 2078.1L336.2 2078.1L336.2 2073.3L350.8 2073.3L350.8 2068.4L389.7 2068.4L389.7 2059.3L402.7 2059.3L402.7 2054.5L417.2 2054.5L417.2 2049.6L443.2 2049.6L443.2 2040.9L483.7 2040.9L483.7 2032.8L537.2 2032.8L537.2 2040.9L563.1 2040.9L563.1 2049.6L590.6 2049.6L590.6 2054.5L616.6 2054.5L616.6 2049.6L670 2049.6L670 2040.9L697.6 2040.9L697.6 2032.8L723.5 2032.8L723.5 2024.7L764 2024.7L764 2032.8L778.6 2032.8L778.3 2103.4Z" fill="#fff"/>
<path d="M265.7 1709.9L246.2 1710.9M246.2 1710.9L241.1 1702.4M250.2 1710.7L245.1 1702.2M254.2 1710.5L249.1 1702M292.6 1709.8L273 1711M273 1711L267.9 1702.5M277 1710.7L271.9 1702.3M281 1710.5L275.8 1702.1M319.4 1709.7L299.9 1711.1M299.9 1711.1L294.7 1702.6M303.9 1710.8L298.6 1702.4M307.9 1710.5L302.6 1702.1M346.3 1709.7L326.7 1711.1M326.7 1711.1L321.4 1702.7M330.7 1710.8L325.4 1702.5M334.7 1710.5L332.1 1706.3M373.1 1709.6L353.6 1711.2M353.6 1711.2L348.2 1702.9M357.6 1710.9L352.2 1702.5M361.6 1710.5L358.9 1706.4M400 1709.5L380.4 1711.3M380.4 1711.3L375 1703M384.4 1710.9L379 1702.6M388.4 1710.6L385.7 1706.4M426.8 1709.4L407.3 1711.4M407.3 1711.4L401.8 1703.1M411.3 1711L405.8 1702.7M415.3 1710.6L412.5 1706.5M453.6 1709.3L434.2 1711.5M434.2 1711.5L428.6 1703.3M438.1 1711L432.6 1702.9M442.1 1710.6L439.3 1706.5M480.5 1709.2L461 1711.6M461 1711.6L455.4 1703.5M465 1711.1L459.3 1703M469 1710.6L466.1 1706.6M507.3 1709.1L487.9 1711.7M487.9 1711.7L482.1 1703.6M491.9 1711.2L486.1 1703.1M495.8 1710.6L492.9 1706.6M534.1 1709L514.8 1711.8M514.8 1711.8L508.9 1703.8M518.7 1711.2L512.9 1703.2M522.7 1710.7L519.7 1706.7M561 1708.9L541.6 1711.9M541.6 1711.9L535.7 1704M545.6 1711.3L539.6 1703.4M549.5 1710.7L546.5 1706.7M587.8 1708.7L568.5 1712.1M568.5 1712.1L562.4 1704.3M572.4 1711.4L566.4 1703.6M576.4 1710.7L573.3 1706.8M614.6 1708.6L595.4 1712.2M595.4 1712.2L589.2 1704.5M599.3 1711.5L593.1 1703.7M603.2 1710.7L600.1 1706.9M641.5 1708.4L622.2 1712.4M622.2 1712.4L615.9 1704.7M626.2 1711.6L619.9 1703.9M630.1 1710.8L626.9 1706.9M668.3 1708.4L649.1 1712.4M649.1 1712.4L642.8 1704.9M653 1711.6L646.7 1704M656.9 1710.8L653.8 1707M695.1 1708.4L676 1712.4M676 1712.4L669.6 1704.9M679.9 1711.6L673.5 1704M683.8 1710.8L680.6 1707M722 1708.4L702.8 1712.4M702.8 1712.4L696.5 1704.9M706.7 1711.6L700.4 1704M710.6 1710.8L707.5 1707M748.8 1708.4L729.7 1712.4M729.7 1712.4L723.3 1704.9M733.6 1711.6L727.2 1704M737.5 1710.8L734.3 1707M775.7 1708.4L756.5 1712.4M756.5 1712.4L750.2 1704.9M760.4 1711.6L754.1 1704M764.3 1710.8L761.2 1707M265.7 1752.4L246.2 1754.2M246.2 1754.2L240.8 1745.9M250.2 1753.8L244.7 1745.6M254.2 1753.5L248.7 1745.2M292.6 1752.3L273 1754.3M273 1754.3L267.6 1746M277 1753.9L271.5 1745.6M281 1753.5L278.3 1749.4M319.4 1752.3L299.9 1754.3M299.9 1754.3L294.3 1746.2M303.9 1753.9L298.3 1745.7M307.9 1753.5L305.1 1749.4M346.2 1752.2L326.8 1754.4M326.8 1754.4L321.1 1746.3M330.7 1754L325.1 1745.8M334.7 1753.5L331.9 1749.4M373.1 1752.1L353.6 1754.5M353.6 1754.5L347.9 1746.4M357.6 1754L351.9 1745.9M361.6 1753.5L358.7 1749.5M399.9 1752L380.5 1754.6M380.5 1754.6L374.7 1746.5M384.4 1754L378.7 1746M388.4 1753.5L385.5 1749.5M426.8 1752L407.3 1754.6M407.3 1754.6L401.6 1746.6M411.3 1754.1L405.5 1746.1M415.3 1753.5L412.4 1749.5M453.6 1751.9L434.2 1754.7M434.2 1754.7L428.4 1746.7M438.2 1754.1L432.3 1746.1M442.1 1753.6L439.2 1749.6M480.4 1751.8L461.1 1754.8M461.1 1754.8L455.2 1746.8M465 1754.2L459.1 1746.2M469 1753.6L466 1749.6M507.3 1751.8L487.9 1754.8M487.9 1754.8L482 1746.9M491.9 1754.2L485.9 1746.3M495.8 1753.6L492.8 1749.6M534.1 1751.7L514.8 1754.9M514.8 1754.9L508.8 1747M518.7 1754.2L512.7 1746.4M522.7 1753.6L519.7 1749.7M561 1751.7L541.6 1754.9M541.6 1754.9L535.6 1747.1M545.6 1754.3L539.5 1746.4M549.5 1753.6L546.5 1749.7M587.8 1751.6L568.5 1755M568.5 1755L562.4 1747.2M572.4 1754.3L566.3 1746.5M576.4 1753.6L573.3 1749.7M614.6 1751.6L595.4 1755M595.4 1755L589.2 1747.3M599.3 1754.3L593.2 1746.6M641.5 1751.5L622.2 1755.1M622.2 1755.1L616.1 1747.3M626.1 1754.4L620 1746.6M668.3 1751.5L649.1 1755.1M649.1 1755.1L642.9 1747.4M653 1754.4L646.8 1746.6M695.2 1751.5L675.9 1755.1M675.9 1755.1L669.8 1747.3M679.8 1754.3L673.7 1746.6M722 1751.6L702.8 1755M702.8 1755L696.6 1747.2M706.7 1754.3L700.6 1746.5M748.9 1751.6L729.6 1755M729.6 1755L723.5 1747.2M733.5 1754.3L727.4 1746.5M775.8 1751.6L756.4 1755M756.4 1755L750.4 1747.1M760.4 1754.3L754.3 1746.5M265.7 1795.1L246.2 1797.7M246.2 1797.7L240.5 1789.7M250.2 1797.2L244.4 1789.1M254.2 1796.6L251.3 1792.6M292.5 1795L273.1 1797.8M273.1 1797.8L267.3 1789.8M277.1 1797.2L271.2 1789.2M281 1796.7L278.1 1792.7M319.3 1795L300 1797.8M300 1797.8L294.1 1789.9M303.9 1797.3L298 1789.3M307.9 1796.7L304.9 1792.7M346.2 1794.9L326.8 1797.9M326.8 1797.9L320.9 1790M330.8 1797.3L324.8 1789.4M334.7 1796.7L331.8 1792.7M373 1794.8L353.7 1798M353.7 1798L347.7 1790.1M357.6 1797.3L351.6 1789.5M361.6 1796.7L358.6 1792.8M399.9 1794.8L380.5 1798M380.5 1798L374.5 1790.2M384.5 1797.4L378.4 1789.5M388.4 1796.7L385.4 1792.8M426.7 1794.7L407.4 1798.1M407.4 1798.1L401.3 1790.3M411.3 1797.4L405.3 1789.6M415.3 1796.7L412.2 1792.8M453.5 1794.7L434.3 1798.1M434.3 1798.1L428.1 1790.3M438.2 1797.4L432.1 1789.6M480.4 1794.6L461.1 1798.2M461.1 1798.2L455 1790.4M465 1797.4L458.9 1789.7M507.2 1794.6L488 1798.2M488 1798.2L481.8 1790.4M491.9 1797.5L485.7 1789.7M534.1 1794.6L514.8 1798.2M514.8 1798.2L508.6 1790.5M518.7 1797.5L512.6 1789.7M560.9 1794.6L541.7 1798.2M541.7 1798.2L535.5 1790.4M545.6 1797.4L539.5 1789.7M587.8 1794.7L568.5 1798.1M568.5 1798.1L562.4 1790.3M572.4 1797.4L566.3 1789.6M614.7 1794.7L595.3 1798.1M595.3 1798.1L589.3 1790.2M599.3 1797.4L593.2 1789.6M641.5 1794.8L622.2 1798M622.2 1798L616.2 1790.2M626.1 1797.4L620.1 1789.5M668.4 1794.8L649 1798M649 1798L643 1790.1M653 1797.3L647 1789.4M695.2 1794.9L675.9 1797.9M675.9 1797.9L669.9 1790M679.8 1797.3L676.9 1793.3M722.1 1795L702.7 1797.8M702.7 1797.8L696.8 1789.8M706.7 1797.2L703.7 1793.3M749 1795L729.5 1797.8M729.5 1797.8L723.7 1789.7M733.5 1797.2L730.6 1793.2M775.8 1795.1L756.4 1797.7M756.4 1797.7L750.6 1789.6M760.3 1797.2L757.5 1793.1M265.6 1828.8L246.3 1832.2M246.3 1832.2L240.2 1824.4M250.2 1831.5L244.1 1823.7M254.2 1830.8L251.1 1826.9M292.4 1828.7L273.2 1832.3M273.2 1832.3L267 1824.5M277.1 1831.5L270.9 1823.8M281 1830.8L278 1826.9M319.3 1828.7L300 1832.3M300 1832.3L293.8 1824.6M304 1831.6L297.7 1823.9M307.9 1830.8L304.8 1827M346.1 1828.6L326.9 1832.4M326.9 1832.4L320.6 1824.7M330.8 1831.6L324.6 1824M334.7 1830.9L331.6 1827M372.9 1828.5L353.8 1832.5M353.8 1832.5L347.4 1824.9M357.7 1831.7L351.4 1824M361.6 1830.9L358.4 1827.1M399.8 1828.5L380.6 1832.5M380.6 1832.5L374.3 1825M384.5 1831.7L378.2 1824.1M426.6 1828.5L407.5 1832.5M407.5 1832.5L401.1 1825M411.4 1831.7L405 1824.1M453.5 1828.5L434.3 1832.5M434.3 1832.5L428 1825M438.2 1831.7L431.9 1824.1M480.3 1828.5L461.2 1832.5M461.2 1832.5L454.8 1825M465.1 1831.7L458.7 1824.1M507.2 1828.5L488 1832.5M488 1832.5L481.7 1825M491.9 1831.7L485.6 1824.1M534 1828.5L514.9 1832.5M514.9 1832.5L508.5 1824.9M518.8 1831.7L512.4 1824.1M560.9 1828.6L541.7 1832.4M541.7 1832.4L535.5 1824.7M545.6 1831.6L539.4 1823.9M587.8 1828.8L568.5 1832.2M568.5 1832.2L562.4 1824.4M572.4 1831.5L566.3 1823.7M614.7 1828.9L595.3 1832.1M595.3 1832.1L589.3 1824.2M599.3 1831.4L596.3 1827.5M641.5 1829.1L622.2 1831.9M622.2 1831.9L616.3 1824M626.1 1831.4L623.2 1827.4M668.4 1829.2L649 1831.8M649 1831.8L643.2 1823.8M653 1831.3L650.1 1827.3M695.3 1829.3L675.8 1831.7M675.8 1831.7L670.1 1823.6M679.8 1831.2L676.9 1827.2M722.1 1829.4L702.7 1831.6M702.7 1831.6L697.1 1823.5M706.6 1831.2L703.8 1827.1M749 1829.5L729.5 1831.5M729.5 1831.5L724 1823.3M775.9 1829.6L756.3 1831.4M756.3 1831.4L750.9 1823.1M265.6 1854.8L246.3 1858.2M246.3 1858.2L240.2 1850.4M250.2 1857.5L244.1 1849.7M254.2 1856.8L251.1 1852.9M292.4 1854.7L273.2 1858.3M273.2 1858.3L267 1850.5M277.1 1857.5L271 1849.8M281 1856.8L278 1852.9M319.3 1854.7L300 1858.3M300 1858.3L293.8 1850.6M303.9 1857.6L297.8 1849.8M307.9 1856.8L304.8 1853M346.1 1854.6L326.9 1858.4M326.9 1858.4L320.7 1850.7M330.8 1857.6L324.6 1849.9M373 1854.6L353.7 1858.4M353.7 1858.4L347.5 1850.7M357.7 1857.6L351.4 1850M399.8 1854.5L380.6 1858.5M380.6 1858.5L374.3 1850.8M384.5 1857.7L378.2 1850M426.7 1854.5L407.4 1858.5M407.4 1858.5L401.1 1850.8M411.4 1857.7L405.1 1850M453.5 1854.5L434.3 1858.5M434.3 1858.5L428 1850.8M438.2 1857.7L431.9 1850M480.4 1854.5L461.1 1858.5M461.1 1858.5L454.8 1850.8M465.1 1857.7L458.8 1850M507.2 1854.5L488 1858.5M488 1858.5L481.7 1850.8M491.9 1857.7L485.6 1850M534.1 1854.6L514.8 1858.4M514.8 1858.4L508.6 1850.8M518.8 1857.6L512.5 1850M560.9 1854.7L541.7 1858.3M541.7 1858.3L535.5 1850.6M545.6 1857.6L539.4 1849.8M587.8 1854.8L568.5 1858.2M568.5 1858.2L562.4 1850.4M572.4 1857.5L569.4 1853.6M614.7 1854.9L595.3 1858.1M595.3 1858.1L589.3 1850.2M599.3 1857.4L596.3 1853.5M641.5 1855.1L622.2 1857.9M622.2 1857.9L616.3 1850M626.1 1857.4L623.2 1853.4M668.4 1855.2L649 1857.8M649 1857.8L643.2 1849.8M653 1857.3L650.1 1853.3M695.3 1855.3L675.8 1857.7M675.8 1857.7L670.1 1849.6M679.8 1857.2L677 1853.2M722.1 1855.4L702.7 1857.6M702.7 1857.6L697.1 1849.4M749 1855.6L729.5 1857.4M729.5 1857.4L724 1849.2M775.9 1855.7L756.3 1857.3M756.3 1857.3L751 1849M265.6 1880.1L246.3 1883.5M246.3 1883.5L240.2 1875.7M250.2 1882.8L244.1 1875M292.4 1880.1L273.2 1883.5M273.2 1883.5L267 1875.8M277.1 1882.8L271 1875M319.3 1880L300 1883.6M300 1883.6L293.9 1875.8M303.9 1882.8L297.8 1875.1M346.1 1880L326.9 1883.6M326.9 1883.6L320.7 1875.9M330.8 1882.9L324.6 1875.1M373 1880L353.7 1883.6M353.7 1883.6L347.5 1875.9M357.7 1882.9L351.4 1875.2M399.8 1879.9L380.6 1883.7M380.6 1883.7L374.3 1876M384.5 1882.9L378.3 1875.2M426.7 1879.9L407.4 1883.7M407.4 1883.7L401.2 1876M411.4 1882.9L405.1 1875.2M453.5 1879.9L434.3 1883.7M434.3 1883.7L428 1876M438.2 1882.9L432 1875.2M480.4 1879.9L461.1 1883.7M461.1 1883.7L454.9 1876M465.1 1882.9L458.8 1875.2M507.2 1879.9L488 1883.7M488 1883.7L481.7 1876M491.9 1882.9L485.7 1875.2M534.1 1880L514.8 1883.6M514.8 1883.6L508.6 1875.9M518.8 1882.9L515.6 1879M560.9 1880.1L541.7 1883.5M541.7 1883.5L535.5 1875.8M545.6 1882.8L542.5 1878.9M587.8 1880.2L568.5 1883.4M568.5 1883.4L562.4 1875.6M572.4 1882.8L569.4 1878.8M614.7 1880.3L595.3 1883.3M595.3 1883.3L589.4 1875.4M599.3 1882.7L596.3 1878.8M641.5 1880.4L622.2 1883.2M622.2 1883.2L616.3 1875.3M626.1 1882.6L623.2 1878.7M668.4 1880.5L649 1883.1M649 1883.1L643.2 1875.1M653 1882.6L650.1 1878.6M695.3 1880.6L675.8 1883M675.8 1883L670.2 1874.8M722.1 1880.8L702.7 1882.8M702.7 1882.8L697.1 1874.6M749 1880.9L729.5 1882.7M729.5 1882.7L724.1 1874.4M775.9 1881.1L756.3 1882.5M756.3 1882.5L751 1874.2M265.6 1901.2L246.3 1904.6M246.3 1904.6L240.2 1896.8M250.2 1903.9L244.1 1896.1M292.4 1901.2L273.2 1904.6M273.2 1904.6L267 1896.8M277.1 1903.9L271 1896.1M319.3 1901.2L300 1904.6M300 1904.6L293.9 1896.9M303.9 1903.9L297.8 1896.1M346.1 1901.1L326.9 1904.7M326.9 1904.7L320.7 1896.9M330.8 1903.9L324.7 1896.2M373 1901.1L353.7 1904.7M353.7 1904.7L347.6 1896.9M357.6 1903.9L351.5 1896.2M399.8 1901.1L380.6 1904.7M380.6 1904.7L374.4 1896.9M384.5 1904L378.3 1896.2M426.7 1901.1L407.4 1904.7M407.4 1904.7L401.3 1896.9M411.3 1904L405.2 1896.2M453.5 1901.1L434.3 1904.7M434.3 1904.7L428.1 1896.9M438.2 1904L432 1896.2M480.4 1901.1L461.1 1904.7M461.1 1904.7L455 1896.9M465 1904L462 1900.1M507.2 1901.1L488 1904.7M488 1904.7L481.8 1896.9M491.9 1904L488.8 1900.1M534.1 1901.1L514.8 1904.7M514.8 1904.7L508.7 1896.9M518.7 1903.9L515.7 1900.1M561 1901.2L541.6 1904.6M541.6 1904.6L535.6 1896.8M545.6 1903.9L542.5 1900M587.8 1901.3L568.5 1904.5M568.5 1904.5L562.5 1896.6M572.4 1903.8L569.4 1899.9M614.7 1901.4L595.3 1904.4M595.3 1904.4L589.4 1896.5M599.3 1903.8L596.3 1899.8M641.5 1901.5L622.2 1904.3M622.2 1904.3L616.3 1896.3M626.1 1903.7L623.2 1899.7M668.4 1901.6L649 1904.2M649 1904.2L643.2 1896.2M653 1903.7L650.1 1899.6M695.3 1901.8L675.8 1904M675.8 1904L670.2 1895.9M722.2 1901.9L702.6 1903.9M702.6 1903.9L697.1 1895.7M749 1902.1L729.5 1903.7M729.5 1903.7L724.1 1895.4M775.9 1902.2L756.3 1903.6M756.3 1903.6L751.1 1895.2M265.6 1921.9L246.3 1925.3M246.3 1925.3L240.2 1917.5M250.2 1924.6L244.1 1916.8M292.5 1921.9L273.1 1925.3M273.1 1925.3L267.1 1917.5M277.1 1924.6L271 1916.8M319.3 1921.9L300 1925.3M300 1925.3L293.9 1917.5M303.9 1924.6L297.8 1916.8M346.2 1921.9L326.8 1925.3M326.8 1925.3L320.8 1917.5M330.8 1924.6L324.7 1916.8M373 1921.9L353.7 1925.3M353.7 1925.3L347.6 1917.5M357.6 1924.6L351.5 1916.8M399.9 1921.9L380.5 1925.3M380.5 1925.3L374.5 1917.5M384.5 1924.6L378.4 1916.8M426.7 1921.9L407.4 1925.3M407.4 1925.3L401.3 1917.5M411.3 1924.6L408.3 1920.7M453.6 1921.9L434.2 1925.3M434.2 1925.3L428.2 1917.5M438.2 1924.6L435.1 1920.7M480.4 1921.9L461.1 1925.3M461.1 1925.3L455 1917.5M465 1924.6L462 1920.7M507.3 1921.9L487.9 1925.3M487.9 1925.3L481.9 1917.5M491.9 1924.6L488.8 1920.7M534.1 1921.9L514.8 1925.3M514.8 1925.3L508.7 1917.5M518.7 1924.6L515.7 1920.7M561 1922L541.6 1925.2M541.6 1925.2L535.6 1917.4M545.6 1924.6L542.6 1920.6M587.8 1922.1L568.5 1925.1M568.5 1925.1L562.5 1917.2M572.4 1924.5L569.4 1920.6M614.7 1922.1L595.3 1925.1M595.3 1925.1L589.4 1917.1M599.3 1924.5L596.3 1920.5M641.5 1922.2L622.2 1925M622.2 1925L616.3 1917M668.4 1922.3L649 1924.9M649 1924.9L643.2 1916.8M695.3 1922.5L675.8 1924.7M675.8 1924.7L670.2 1916.6M722.2 1922.7L702.6 1924.5M702.6 1924.5L697.2 1916.3M749 1922.8L729.5 1924.4M729.5 1924.4L724.2 1916M775.9 1923L756.3 1924.2M756.3 1924.2L751.1 1915.7M265.6 1940.7L246.3 1944.1M246.3 1944.1L240.2 1936.3M250.2 1943.4L247.2 1939.5M292.5 1940.7L273.1 1944.1M273.1 1944.1L267.1 1936.3M277.1 1943.4L274 1939.5M319.3 1940.7L300 1944.1M300 1944.1L293.9 1936.2M303.9 1943.4L300.9 1939.5M346.2 1940.8L326.8 1944M326.8 1944L320.8 1936.2M330.8 1943.4L327.8 1939.4M373 1940.8L353.7 1944M353.7 1944L347.7 1936.2M357.6 1943.4L354.6 1939.4M399.9 1940.8L380.5 1944M380.5 1944L374.5 1936.1M384.5 1943.3L381.5 1939.4M426.7 1940.8L407.4 1944M407.4 1944L401.4 1936.1M411.3 1943.3L408.3 1939.4M453.6 1940.9L434.2 1943.9M434.2 1943.9L428.3 1936M438.2 1943.3L435.2 1939.3M480.4 1940.9L461.1 1943.9M461.1 1943.9L455.1 1935.9M465 1943.3L462.1 1939.3M507.3 1941L487.9 1943.8M487.9 1943.8L482 1935.9M491.9 1943.3L488.9 1939.3M534.1 1941L514.8 1943.8M514.8 1943.8L508.9 1935.8M518.7 1943.2L515.8 1939.2M561 1941L541.6 1943.8M541.6 1943.8L535.8 1935.8M545.6 1943.2L542.6 1939.2M587.9 1941.1L568.4 1943.7M568.4 1943.7L562.7 1935.7M572.4 1943.2L569.5 1939.2M614.7 1941.1L595.3 1943.7M595.3 1943.7L589.5 1935.6M599.2 1943.2L596.4 1939.1M641.6 1941.2L622.1 1943.6M622.1 1943.6L616.4 1935.5M668.4 1941.3L649 1943.5M649 1943.5L643.3 1935.4M695.3 1941.4L675.8 1943.4M675.8 1943.4L670.3 1935.2M722.2 1941.5L702.6 1943.3M702.6 1943.3L697.2 1935M749 1941.6L729.5 1943.2M729.5 1943.2L724.1 1934.9M775.9 1941.7L756.3 1943.1M756.3 1943.1L751.1 1934.7M265.6 1959.6L246.3 1963M246.3 1963L240.2 1955.2M250.2 1962.3L247.2 1958.4M292.5 1959.6L273.1 1963M273.1 1963L267.1 1955.1M277.1 1962.3L274.1 1958.4M319.3 1959.7L300 1962.9M300 1962.9L294 1955.1M303.9 1962.3L300.9 1958.3M346.2 1959.7L326.8 1962.9M326.8 1962.9L320.8 1955M330.8 1962.2L327.8 1958.3M373 1959.8L353.7 1962.8M353.7 1962.8L347.7 1954.9M357.6 1962.2L354.6 1958.2M399.9 1959.8L380.5 1962.8M380.5 1962.8L374.6 1954.8M384.5 1962.2L381.5 1958.2M426.7 1959.9L407.4 1962.7M407.4 1962.7L401.5 1954.7M411.3 1962.1L408.4 1958.1M453.6 1960L434.2 1962.6M434.2 1962.6L428.4 1954.6M438.2 1962.1L435.3 1958.1M480.5 1960L461 1962.6M461 1962.6L455.3 1954.5M465 1962L462.1 1958M507.3 1960.1L487.9 1962.5M487.9 1962.5L482.2 1954.4M491.8 1962L489 1957.9M534.2 1960.2L514.7 1962.4M514.7 1962.4L509.1 1954.3M518.7 1962L515.9 1957.9M561 1960.2L541.6 1962.4M541.6 1962.4L536 1954.2M545.5 1962L542.7 1957.9M587.9 1960.2L568.4 1962.4M568.4 1962.4L562.8 1954.2M572.4 1961.9L569.6 1957.9M614.7 1960.2L595.3 1962.4M595.3 1962.4L589.7 1954.2M641.6 1960.3L622.1 1962.3M622.1 1962.3L616.6 1954.1M668.4 1960.3L649 1962.3M649 1962.3L643.4 1954.1M695.3 1960.4L675.8 1962.2M675.8 1962.2L670.3 1954M722.2 1960.4L702.6 1962.2M702.6 1962.2L697.2 1953.9M749 1960.5L729.5 1962.1M729.5 1962.1L724.1 1953.8M775.9 1960.5L756.3 1962.1M760.3 1961.8L757.7 1957.6M265.6 1976.1L246.3 1979.5M246.3 1979.5L240.2 1971.7M292.5 1976.2L273.1 1979.4M273.1 1979.4L267.1 1971.6M319.3 1976.2L300 1979.4M300 1979.4L294 1971.5M346.2 1976.3L326.8 1979.3M326.8 1979.3L320.9 1971.4M373 1976.4L353.7 1979.2M353.7 1979.2L347.8 1971.3M399.9 1976.4L380.5 1979.2M380.5 1979.2L374.7 1971.1M426.8 1976.6L407.3 1979M407.3 1979L401.6 1971M453.6 1976.7L434.2 1978.9M434.2 1978.9L428.5 1970.8M480.5 1976.8L461 1978.8M461 1978.8L455.5 1970.6M465 1978.4L462.2 1974.3M507.4 1976.9L487.8 1978.7M487.8 1978.7L482.4 1970.5M491.8 1978.4L489.1 1974.2M534.2 1976.9L514.7 1978.7M514.7 1978.7L509.3 1970.4M518.7 1978.3L516 1974.2M561.1 1976.9L541.5 1978.7M541.5 1978.7L536.1 1970.4M545.5 1978.3L542.8 1974.2M587.9 1976.9L568.4 1978.7M568.4 1978.7L563 1970.4M572.4 1978.3L569.7 1974.2M614.8 1976.9L595.2 1978.7M595.2 1978.7L589.8 1970.4M641.6 1976.9L622.1 1978.7M622.1 1978.7L616.7 1970.4M668.5 1976.9L648.9 1978.7M648.9 1978.7L643.5 1970.4M695.3 1976.9L675.8 1978.7M675.8 1978.7L670.4 1970.4M722.2 1976.9L702.6 1978.7M702.6 1978.7L697.2 1970.4M749 1976.9L729.5 1978.7M733.5 1978.3L730.8 1974.2M775.9 1976.9L756.3 1978.7M760.3 1978.3L757.6 1974.2M252.1 1991.4L232.9 1995.2M232.9 1995.2L226.6 1987.5M279 1991.5L259.7 1995.1M259.7 1995.1L253.5 1987.4M305.8 1991.5L286.6 1995.1M286.6 1995.1L280.4 1987.3M332.7 1991.6L313.4 1995M313.4 1995L307.3 1987.2M359.6 1991.7L340.2 1994.9M340.2 1994.9L334.2 1987.1M386.4 1991.7L367.1 1994.9M367.1 1994.9L361.1 1987M413.3 1992L393.9 1994.6M393.9 1994.6L388.1 1986.6M440.2 1992.3L420.7 1994.3M420.7 1994.3L415.2 1986.1M467.1 1992.6L447.5 1994M447.5 1994L442.3 1985.6M493.9 1992.9L474.4 1993.7M474.4 1993.7L469.4 1985.1M520.8 1993.2L501.2 1993.4M501.2 1993.4L496.5 1984.7M547.6 1993.4L528.1 1993.2M528.1 1993.2L523.5 1984.5M574.5 1993.5L554.9 1993.1M554.9 1993.1L550.4 1984.3M601.3 1993.5L581.8 1993.1M581.8 1993.1L577.3 1984.2M628.2 1993.6L608.6 1993M608.6 1993L604.3 1984.1M655 1993.7L635.5 1992.9M635.5 1992.9L631.2 1983.9M681.9 1993.8L662.3 1992.8M662.3 1992.8L658.1 1983.8M708.7 1993.9L689.2 1992.7M693.2 1992.9L691.1 1988.4M735.6 1994L716 1992.6M720 1992.9L718 1988.4M762.4 1994.1L742.9 1992.5M746.9 1992.8L744.9 1988.3M789.3 1994.2L769.7 1992.4M773.7 1992.8L771.8 1988.2M265.5 2003.8L246.4 2007.8M246.4 2007.8L240 2000.3M292.4 2003.8L273.2 2007.8M273.2 2007.8L266.9 2000.1M319.3 2003.9L300 2007.7M300 2007.7L293.8 2000M346.1 2004L326.9 2007.6M326.9 2007.6L320.7 1999.9M373 2004L353.7 2007.6M353.7 2007.6L347.6 1999.8M399.9 2004.2L380.5 2007.4M380.5 2007.4L374.5 1999.6M426.8 2004.7L407.3 2006.9M407.3 2006.9L401.7 1998.8M453.7 2005.2L434.1 2006.4M434.1 2006.4L428.9 1998M480.5 2005.7L461 2005.9M461 2005.9L456.2 1997.2M507.4 2006.3L487.8 2005.3M487.8 2005.3L483.6 1996.4M534.2 2006.7L514.7 2004.9M514.7 2004.9L510.9 1995.8M561 2006.9L541.6 2004.7M541.6 2004.7L537.9 1995.5M587.9 2007L568.4 2004.6M568.4 2004.6L564.9 1995.3M614.7 2007.2L595.3 2004.4M595.3 2004.4L592 1995.1M641.5 2007.4L622.2 2004.2M622.2 2004.2L619 1994.8M668.3 2007.6L649.1 2004M649.1 2004L646.1 1994.6M695.2 2007.7L675.9 2003.9M679.9 2004.6L678.5 1999.9M722 2007.9L702.8 2003.7M706.7 2004.5L705.4 1999.8M748.8 2008.1L729.7 2003.5M733.6 2004.4L732.4 1999.7M775.6 2008.3L756.6 2003.3M760.5 2004.3L759.3 1999.5M252 2013.1L233 2017.7M233 2017.7L226.4 2010.3M278.9 2013.2L259.8 2017.6M259.8 2017.6L253.3 2010.2M305.8 2013.3L286.6 2017.5M286.6 2017.5L280.2 2010M332.6 2013.4L313.5 2017.4M313.5 2017.4L307.1 2009.8M359.5 2013.5L340.3 2017.3M340.3 2017.3L334 2009.6M386.4 2013.7L367.1 2017.1M367.1 2017.1L361 2009.4M413.3 2014.1L393.9 2016.7M393.9 2016.7L388.1 2008.7M440.2 2014.7L420.7 2016.1M420.7 2016.1L415.4 2007.7M467.1 2015.3L447.5 2015.5M447.5 2015.5L442.8 2006.8M493.9 2015.9L474.4 2014.9M474.4 2014.9L470.2 2005.9M520.7 2016.5L501.3 2014.3M501.3 2014.3L497.7 2005.1M547.5 2017L528.2 2013.8M528.2 2013.8L525 2004.4M574.3 2017.4L555.1 2013.4M555.1 2013.4L552.4 2003.8M601 2017.9L582.1 2012.9M582.1 2012.9L579.8 2003.3M627.8 2018.3L609 2012.5M612.9 2013.7L611.9 2008.8M654.5 2018.7L636 2012.1M639.8 2013.4L639.1 2008.5M681.2 2019L663 2011.8M666.7 2013.3L666.1 2008.4M708 2019.2L689.9 2011.6M693.6 2013.1L693.2 2008.2M734.7 2019.5L716.9 2011.3M720.5 2013L720.2 2008.1M761.5 2019.7L743.8 2011.1M747.4 2012.9L747.3 2007.9M788.2 2019.9L770.8 2010.9M774.4 2012.7L774.3 2007.8M265.4 2021.8L246.5 2026.8M250.3 2025.8L247 2022.2M292.3 2021.9L273.3 2026.7M277.2 2025.7L273.9 2022M319.2 2022.1L300.1 2026.5M304 2025.6L300.8 2021.9M346.1 2022.3L326.9 2026.3M330.8 2025.5L327.6 2021.7M373 2022.4L353.7 2026.2M357.7 2025.4L354.5 2021.5M399.9 2022.7L380.5 2025.9M384.5 2025.3L381.5 2021.3M426.8 2023.4L407.3 2025.2M411.3 2024.8L408.5 2020.7M453.7 2024.1L434.1 2024.5M438.1 2024.4L435.7 2020.1M480.5 2024.8L461 2023.8M465 2024L462.9 2019.5M507.3 2025.5L487.9 2023.1M487.9 2023.1L484.3 2013.9M534.1 2026.2L514.8 2022.4M514.8 2022.4L511.9 2012.9M560.8 2026.9L541.8 2021.7M545.7 2022.8L544.6 2018M587.4 2027.5L568.9 2021.1M572.7 2022.4L571.9 2017.5M614 2028.2L596 2020.4M599.7 2022L599.3 2017.1M640.5 2028.8L623.2 2019.8M626.7 2021.6L626.7 2016.7M667.1 2029.3L650.3 2019.3M653.7 2021.3L654 2016.4M693.8 2029.6L677.3 2019M680.7 2021.2L681.1 2016.2M720.4 2029.9L704.4 2018.7M707.6 2021L708.2 2016.1M747.1 2030.2L731.4 2018.4M734.6 2020.8L735.4 2015.9M773.7 2030.5L758.5 2018.1M761.6 2020.6L762.5 2015.8M251.7 2029.8L233.3 2036.6M237 2035.2L233.4 2031.9M278.6 2030.1L260.1 2036.3M263.9 2035L260.3 2031.6M305.6 2030.6L286.8 2035.8M290.6 2034.7L287.2 2031.2M332.6 2031.1L313.5 2035.3M317.4 2034.4L314.2 2030.7M359.6 2031.6L340.2 2034.8M344.2 2034.1L341.2 2030.2M386.5 2032.1L367 2034.3M371 2033.8L368.2 2029.7M413.4 2033.3L393.8 2033.1M397.8 2033.1L395.5 2028.7M440.1 2034.9L420.8 2031.5M424.7 2032.2L423.2 2027.5M466.6 2036.4L448 2030M451.8 2031.3L451.1 2026.4M492.8 2037.9L475.5 2028.5M479.1 2030.4L479.1 2025.5M518.7 2039.2L503.3 2027.2M506.4 2029.7L507.3 2024.8M545.2 2039.7L530.5 2026.7M533.5 2029.4L534.7 2024.5M571.8 2040L557.6 2026.4M560.5 2029.2L561.8 2024.4M598.4 2040.2L584.7 2026.2M587.5 2029.1L589 2024.3M625 2040.5L611.8 2025.9M614.5 2028.9L616.2 2024.2M651.6 2040.7L638.9 2025.7M641.5 2028.8L643.3 2024.2M678.4 2040.7L665.8 2025.7M668.4 2028.8L670.2 2024.2M705.2 2040.7L692.7 2025.7M695.2 2028.8L697.1 2024.2M785.8 2040.7L773.2 2025.7M775.8 2028.8L777.6 2024.2M265.6 2040.2L246.3 2044M250.3 2043.2L247.1 2039.4M292.5 2040.5L273.1 2043.7M277.1 2043L274.1 2039.1M319.4 2040.9L299.9 2043.3M303.9 2042.8L301 2038.8M346.3 2041.2L326.7 2043M330.7 2042.6L328 2038.5M373.1 2041.6L353.6 2042.6M357.6 2042.4L355 2038.2M400 2042.1L380.4 2042.1M384.4 2042.1L382.1 2037.8M426.7 2043.7L407.4 2040.5M411.3 2041.2L409.7 2036.5M453.2 2045.3L434.6 2038.9M438.4 2040.2L437.6 2035.3M479.4 2046.8L462.1 2037.4M465.6 2039.3L465.7 2034.4M558 2049.2L544.6 2035M547.3 2037.9L548.9 2033.2M584.7 2049.4L571.6 2034.8M574.3 2037.8L575.9 2033.1M611.4 2049.5L598.6 2034.7M601.2 2037.7L603 2033.1M638.1 2049.7L625.6 2034.5M628.2 2037.6L630.1 2033.1M664.8 2049.7L652.6 2034.5M655.1 2037.6L657 2033M691.7 2049.7L679.4 2034.5M681.9 2037.6L683.9 2033M252.3 2053.8L232.7 2054.6M236.7 2054.5L234.2 2050.2M279.1 2053.9L259.6 2054.5M263.6 2054.4L261.1 2050.1M306 2054L286.4 2054.4M290.4 2054.3L288 2050M332.8 2054.2L313.3 2054.2M317.3 2054.2L314.9 2049.8M359.7 2054.4L340.1 2054M344.1 2054.1L341.9 2049.7M386.5 2054.6L367 2053.8M371 2054L368.8 2049.5M413.3 2055.6L393.9 2052.8M397.9 2053.3L396.2 2048.7M439.8 2057.3L421.1 2051.1M424.9 2052.4L424.1 2047.5M570.9 2061.8L558.5 2046.6M561 2049.7L563 2045.1M597.7 2061.9L585.4 2046.5M587.9 2049.7L589.9 2045.1M624.4 2061.9L612.4 2046.5M614.8 2049.6L616.8 2045.1M651.2 2062L639.3 2046.4M641.7 2049.6L643.8 2045.1M265.7 2065L246.2 2062.8M250.2 2063.3L248.4 2058.7M292.5 2065L273.1 2062.8M277 2063.3L275.2 2058.7M319.4 2065L299.9 2062.8M303.9 2063.3L302.1 2058.7M346.2 2065L326.8 2062.8M330.7 2063.3L328.9 2058.7M373.1 2065L353.6 2062.8M357.6 2063.3L355.8 2058.7M399.9 2065.2L380.5 2062.6M384.4 2063.2L382.7 2058.5M252 2076.9L233 2071.9M236.9 2072.9L235.8 2068.1M278.8 2076.9L259.9 2071.9M263.7 2072.9L262.6 2068.1M305.7 2076.7L286.7 2072.1M290.6 2073L289.3 2068.3M332.6 2076.5L313.5 2072.3M317.4 2073.1L316.1 2068.4M359.5 2076.3L340.3 2072.5M344.2 2073.3L342.8 2068.5M386.4 2076.2L367.1 2072.6M371 2073.4L369.5 2068.6M265.4 2084.2L246.5 2079.2M250.3 2080.2L249.2 2075.4M292.3 2084.1L273.3 2079.3M277.2 2080.3L276 2075.5M319.2 2083.9L300.1 2079.5M304 2080.4L302.7 2075.6" fill="none" stroke="#333" stroke-width="1.05" stroke-linecap="butt"/>
</g>
<rect x="256.8" y="1678" width="521.5" height="425.4" fill="none" stroke="#222" stroke-width="1.25"/>
<text transform="translate(228.4 1686) scale(1.000 1.050)" font-size="22" text-anchor="end" fill="#000"  stroke="#000" stroke-width="0.28">200</text>
<text transform="translate(228.4 1793.4) scale(1.000 1.050)" font-size="22" text-anchor="end" fill="#000"  stroke="#000" stroke-width="0.28">300</text>
<text transform="translate(228.4 1928.8) scale(1.000 1.050)" font-size="22" text-anchor="end" fill="#000"  stroke="#000" stroke-width="0.28">500</text>
<text transform="translate(228.4 2018) scale(1.000 1.050)" font-size="22" text-anchor="end" fill="#000"  stroke="#000" stroke-width="0.28">700</text>
<text transform="translate(228.4 2069.4) scale(1.000 1.050)" font-size="22" text-anchor="end" fill="#000"  stroke="#000" stroke-width="0.28">850</text>
<text transform="translate(228.4 2091.8) scale(1.000 1.050)" font-size="22" text-anchor="end" fill="#000"  stroke="#000" stroke-width="0.28">925</text>
<text transform="translate(804.6 1713.8) scale(1.000 1.050)" font-size="20.6" text-anchor="start" fill="#000"  stroke="#000" stroke-width="0.28">35</text>
<text transform="translate(804.6 1771.5) scale(1.000 1.050)" font-size="20.6" text-anchor="start" fill="#000"  stroke="#000" stroke-width="0.28">30</text>
<text transform="translate(804.6 1829.2) scale(1.000 1.050)" font-size="20.6" text-anchor="start" fill="#000"  stroke="#000" stroke-width="0.28">25</text>
<text transform="translate(804.6 1886.9) scale(1.000 1.050)" font-size="20.6" text-anchor="start" fill="#000"  stroke="#000" stroke-width="0.28">20</text>
<text transform="translate(804.6 1944.6) scale(1.000 1.050)" font-size="20.6" text-anchor="start" fill="#000"  stroke="#000" stroke-width="0.28">15</text>
<text transform="translate(804.6 2002.3) scale(1.000 1.050)" font-size="20.6" text-anchor="start" fill="#000"  stroke="#000" stroke-width="0.28">10</text>
<text transform="translate(804.6 2059.8) scale(1.000 1.050)" font-size="20.6" text-anchor="start" fill="#000"  stroke="#000" stroke-width="0.28">5</text>
<text transform="translate(804.6 2105.4) scale(1.000 1.050)" font-size="20.6" text-anchor="start" fill="#000"  stroke="#000" stroke-width="0.28">1</text>
<text transform="translate(254.8 2147.9) scale(1.000 1.050)" font-size="21.6" text-anchor="middle" fill="#000"  stroke="#000" stroke-width="0.28">119.4W</text>
<text transform="translate(254.8 2171.8) scale(1.000 1.050)" font-size="21.6" text-anchor="middle" fill="#000"  stroke="#000" stroke-width="0.28">47.4N</text>
<text transform="translate(388.4 2147.9) scale(1.000 1.050)" font-size="21.6" text-anchor="middle" fill="#000"  stroke="#000" stroke-width="0.28">117.4W</text>
<text transform="translate(388.4 2171.8) scale(1.000 1.050)" font-size="21.6" text-anchor="middle" fill="#000"  stroke="#000" stroke-width="0.28">46.1N</text>
<text transform="translate(522 2147.9) scale(1.000 1.050)" font-size="21.6" text-anchor="middle" fill="#000"  stroke="#000" stroke-width="0.28">115.6W</text>
<text transform="translate(522 2171.8) scale(1.000 1.050)" font-size="21.6" text-anchor="middle" fill="#000"  stroke="#000" stroke-width="0.28">44.7N</text>
<text transform="translate(655.6 2147.9) scale(1.000 1.050)" font-size="21.6" text-anchor="middle" fill="#000"  stroke="#000" stroke-width="0.28">113.8W</text>
<text transform="translate(655.6 2171.8) scale(1.000 1.050)" font-size="21.6" text-anchor="middle" fill="#000"  stroke="#000" stroke-width="0.28">43.3N</text>
<path d="M243.2 1678H256.8M243.2 1785.4H256.8M243.2 1920.8H256.8M243.2 2010H256.8M243.2 2061.4H256.8M243.2 2083.8H256.8M778.3 1706.3H791.7M778.3 1764H791.7M778.3 1821.7H791.7M778.3 1879.4H791.7M778.3 1937.1H791.7M778.3 1994.8H791.7M778.3 2052.3H791.7M778.3 2097.9H791.7M256.8 2103.4V2116.6M390.4 2103.4V2116.6M524 2103.4V2116.6M657.6 2103.4V2116.6" fill="none" stroke="#444" stroke-width="1.15"/>
<text transform="translate(517.8 1668.2) scale(1.000 1.075)" font-size="33.5" text-anchor="middle" fill="#000"  stroke="#000" stroke-width="0.4">Curtain 5 (C5)</text>
<text transform="translate(171.3 1890.7) rotate(-90) scale(1.000 1.040)" font-size="26.8" text-anchor="middle" fill="#000"  stroke="#000" stroke-width="0.28">Altitude (hPa)</text>
<rect x="696.8" y="2112.2" width="81.8" height="65.4" fill="#fff" stroke="#888" stroke-width="1"/>
<text transform="translate(737.7 2135.1) scale(1.000 1.040)" font-size="23.6" text-anchor="middle" fill="#000"  stroke="#000" stroke-width="0.28">30 m/s</text>
<path d="M746.6 2158.1L730.4 2158.1M730.4 2158.1L725.3 2148.6M733 2158.1L727.9 2148.6M735.6 2158.1L730.5 2148.6" fill="none" stroke="#444" stroke-width="0.8"/>
<text transform="translate(1693.2 565) rotate(-90) scale(0.955 1.000)" font-size="39" text-anchor="middle" fill="#444"  stroke="#444" stroke-width="0.4">Height (thousand ft)</text>
<text transform="translate(1693.2 1265) rotate(-90) scale(0.955 1.000)" font-size="39" text-anchor="middle" fill="#444"  stroke="#444" stroke-width="0.4">Height (thousand ft)</text>
<clipPath id="cpm"><rect x="924.4" y="1678.3" width="552" height="551"/></clipPath>
<g clip-path="url(#cpm)">
<rect x="924.4" y="1678.3" width="552" height="551" fill="#40D0FF"/>
<polygon points="924.4,1897.9 945,1904.7 975.9,1925.3 999.9,1949.3 1006.7,1976.8 1010.2,2021.4 1006.7,2055.7 999.9,2090 1013.6,2124.3 1017,2158.6 1006.7,2192.9 993,2213.5 979.3,2230.6 924.4,2230.6" fill="#40E6FF"/>
<polygon points="1233.1,1678.3 1301.8,1683.4 1370.4,1688.6 1415,1705.7 1421.8,1729.8 1439,1764.1 1435.5,1794.9 1445.8,1822.4 1459.6,1839.5 1477.4,1846.4 1477.4,1678.3" fill="#38B8FF"/>
<polygon points="1281.2,1973.3 1308.6,1964.7 1336.1,1966.5 1360.1,1976.8 1380.7,2004.2 1404.7,2035.1 1404.7,2052.2 1380.7,2090 1370.4,2124.3 1377.2,2151.7 1363.5,2175.7 1353.2,2199.7 1353.2,2230.6 1106.2,2230.6 1106.2,2206.6 1095.9,2186 1095.9,2158.6 1075.3,2134.6 1061.6,2103.7 1061.6,2086.5 1078.8,2081.4 1109.6,2084.8 1137.1,2066 1164.5,2031.6 1185.1,2017.9 1219.4,2014.5 1246.9,2000.8 1264,1983.6" fill="#38B8FF"/>
<path d="M911.9 1698.8Q925.6 1699 942.6 1698.9M942.6 1698.9L935.7 1701.7M942.6 1698.9L935.6 1696.1M938.3 1698.9Q953.4 1698.9 970.8 1698.9M970.8 1698.9L963.8 1701.7M970.8 1698.9L963.8 1696.1M964.1 1698.9Q983 1698.8 996.4 1699M996.4 1699L989.4 1701.7M996.4 1699L989.4 1696.1M994.3 1698.8Q1009.6 1698.9 1023.3 1699M1023.3 1699L1016.3 1701.8M1023.3 1699L1016.4 1696.1M1022.7 1698.8Q1034.9 1698.8 1054.7 1699.1M1054.7 1699.1L1047.7 1701.8M1054.7 1699.1L1047.8 1696.2M1048.7 1698.7Q1062.5 1698.9 1083.9 1699.2M1083.9 1699.2L1076.9 1701.9M1083.9 1699.2L1077 1696.3M1073.5 1698.7Q1091.5 1698.7 1111.4 1699.5M1111.4 1699.5L1104.3 1702M1111.4 1699.5L1104.6 1696.4M1100 1698.4Q1119.9 1698.7 1138.7 1699.7M1138.7 1699.7L1131.6 1702.1M1138.7 1699.7L1131.9 1696.5M1128.3 1698.1Q1146.7 1699.3 1167 1699M1167 1699L1160.1 1701.9M1167 1699L1160 1696.3M1155.2 1698.5Q1174.7 1699.4 1194.6 1698.2M1194.6 1698.2L1187.9 1701.4M1194.6 1698.2L1187.5 1695.8M1182.5 1699.3Q1202.6 1699.5 1221.9 1697.4M1221.9 1697.4L1215.3 1700.9M1221.9 1697.4L1214.7 1695.3M1210.3 1700.1Q1230.7 1699.2 1248.2 1697.2M1248.2 1697.2L1241.6 1700.7M1248.2 1697.2L1241 1695.2M1238.6 1700.7Q1258.4 1698.9 1275 1697.2M1275 1697.2L1268.4 1700.7M1275 1697.2L1267.8 1695.1M1267.9 1700.6Q1286.9 1700.2 1299.1 1694.6M1299.1 1694.6L1294 1700.1M1299.1 1694.6L1291.6 1694.9M1297 1702.4Q1315.6 1700.2 1323 1692.9M1323 1692.9L1320 1699.7M1323 1692.9L1316.1 1695.7M1330.3 1705.1Q1343.1 1699.9 1345.1 1690.6M1345.1 1690.6L1346.1 1696.3M1345.1 1690.6L1341.9 1695.4M1364.7 1706.7Q1370 1699.2 1367.4 1690.4M1367.4 1690.4L1370.2 1694M1367.4 1690.4L1366.9 1695M1401 1703.8Q1394.7 1699.4 1391.9 1692.9M1391.9 1692.9L1394.7 1695.7M1391.9 1692.9L1392 1696.9M1425 1705.4Q1425.5 1698 1416.8 1694.2M1416.8 1694.2L1420.7 1694.3M1416.8 1694.2L1419.5 1697M1460.5 1697.9Q1449.9 1699.9 1443 1697.9M1443 1697.9L1447.9 1697.4M1443 1697.9L1446.9 1700.9M912.5 1719.4Q926.9 1719.7 939.2 1719.7M939.2 1719.7L932.3 1722.5M939.2 1719.7L932.2 1716.9M941.6 1719.6Q954.7 1719.6 965 1719.6M965 1719.6L958.9 1722.1M965 1719.6L958.9 1717.2M970.1 1719.6Q980.5 1719.5 995.3 1719.8M995.3 1719.8L988.7 1722.3M995.3 1719.8L988.8 1717M995.4 1719.4Q1009.3 1719.6 1022.8 1719.7M1022.8 1719.7L1015.8 1722.5M1022.8 1719.7L1015.8 1716.9M1023.3 1719.5Q1036 1719.7 1051.8 1719.5M1051.8 1719.5L1044.9 1722.4M1051.8 1719.5L1044.9 1716.8M1049.5 1719.7Q1062.6 1719.5 1082.8 1719.7M1082.8 1719.7L1075.9 1722.4M1082.8 1719.7L1075.9 1716.8M1074.6 1719.6Q1090.5 1719.6 1112.5 1719.7M1112.5 1719.7L1105.5 1722.5M1112.5 1719.7L1105.6 1716.9M1099.3 1719.4Q1119.4 1719.7 1140.2 1719.6M1140.2 1719.6L1133.2 1722.5M1140.2 1719.6L1133.2 1716.8M1126.6 1719.6Q1147.4 1719.9 1167.5 1719.1M1167.5 1719.1L1160.6 1722.1M1167.5 1719.1L1160.4 1716.5M1154.3 1719.7Q1175.1 1720.2 1194.6 1718.4M1194.6 1718.4L1188 1721.8M1194.6 1718.4L1187.5 1716.2M1182.4 1720.7Q1202.3 1719.9 1222.5 1717.9M1222.5 1717.9L1215.9 1721.4M1222.5 1717.9L1215.3 1715.8M1210.4 1721.6Q1229.3 1719.5 1251 1717.9M1251 1717.9L1244.3 1721.2M1251 1717.9L1243.8 1715.6M1237.1 1721.3Q1257.1 1719.6 1279 1717.9M1279 1717.9L1272.3 1721.2M1279 1717.9L1271.9 1715.6M1263.1 1721.3Q1286.7 1719.9 1304.4 1717.3M1304.4 1717.3L1297.9 1721.1M1304.4 1717.3L1297.1 1715.5M1291.6 1720.9Q1317.2 1721.8 1325.3 1713.9M1325.3 1713.9L1322.3 1720.8M1325.3 1713.9L1318.4 1716.7M1324.7 1723.7Q1341 1720.6 1355 1713.4M1355 1713.4L1350.1 1719.1M1355 1713.4L1347.5 1714.1M1354.1 1725.7Q1372.1 1720 1373.6 1712.6M1373.6 1712.6L1374.8 1719.1M1373.6 1712.6L1370 1718.1M1388.5 1725.8Q1398.1 1719.4 1397.7 1713.7M1397.7 1713.7L1399.6 1717.6M1397.7 1713.7L1396.4 1717.8M1421.6 1726.4Q1424.1 1719.9 1423 1712.1M1423 1712.1L1425 1715.6M1423 1712.1L1422 1716M1454.2 1725.7Q1451.4 1719.2 1446.3 1714.4M1446.3 1714.4L1449.9 1715.8M1446.3 1714.4L1447.9 1717.9M912.8 1739.9Q926.1 1740.4 940.5 1740.5M940.5 1740.5L933.6 1743.3M940.5 1740.5L933.6 1737.7M939.9 1740.1Q953.7 1740.4 968.8 1740.4M968.8 1740.4L961.8 1743.2M968.8 1740.4L961.8 1737.6M966.7 1740.2Q982.2 1740.2 995.2 1740.7M995.2 1740.7L988.2 1743.2M995.2 1740.7L988.4 1737.6M995.6 1739.9Q1010 1740.3 1021.2 1740.7M1021.2 1740.7L1014.4 1743.1M1021.2 1740.7L1014.6 1737.8M1025 1740Q1036.6 1740.6 1048.9 1740M1048.9 1740L1042.8 1742.8M1048.9 1740L1042.6 1737.8M1052 1740.5Q1062.9 1740.3 1079.7 1740.2M1079.7 1740.2L1072.8 1743M1079.7 1740.2L1072.8 1737.4M1077.5 1740.5Q1088.5 1740.2 1113.5 1740.3M1113.5 1740.3L1106.5 1743.1M1113.5 1740.3L1106.5 1737.5M1100 1740.3Q1118.4 1740.4 1141.5 1740.2M1141.5 1740.2L1134.5 1743M1141.5 1740.2L1134.5 1737.4M1125 1740.3Q1148.2 1741.1 1167.5 1738.7M1167.5 1738.7L1160.9 1742.3M1167.5 1738.7L1160.2 1736.8M1154.1 1741.4Q1175.6 1741 1193.9 1737.8M1193.9 1737.8L1187.5 1741.8M1193.9 1737.8L1186.6 1736.2M1182.8 1742.5Q1202.4 1740.3 1222.1 1738.1M1222.1 1738.1L1215.5 1741.6M1222.1 1738.1L1214.9 1736.1M1211.3 1743.4Q1228.8 1739.6 1251.1 1738.5M1251.1 1738.5L1244.3 1741.7M1251.1 1738.5L1244 1736.1M1237.3 1742.2Q1256.9 1740 1279.3 1738.9M1279.3 1738.9L1272.5 1742.1M1279.3 1738.9L1272.2 1736.5M1263.9 1742Q1284.7 1739.9 1307.4 1739.4M1307.4 1739.4L1300.5 1742.4M1307.4 1739.4L1300.4 1736.7M1290.6 1741.2Q1314.7 1740.9 1331.2 1738.2M1331.2 1738.2L1324.8 1742.1M1331.2 1738.2L1323.9 1736.5M1320.1 1741.5Q1343.9 1742.3 1353.7 1735M1353.7 1735L1349.8 1741.4M1353.7 1735L1346.4 1736.9M1351 1742.9Q1371.1 1741.3 1378.8 1735.7M1378.8 1735.7L1374.9 1742M1378.8 1735.7L1371.5 1737.5M1383.3 1744Q1394.4 1739.4 1410.4 1738.3M1410.4 1738.3L1403.7 1741.6M1410.4 1738.3L1403.3 1736M1409.3 1742.7Q1428.3 1742.2 1427 1734M1427 1734L1429.8 1738.8M1427 1734L1425.7 1739.4M1446.8 1747.2Q1452.4 1740.4 1451.6 1733.2M1451.6 1733.2L1453.6 1736.9M1451.6 1733.2L1450.5 1737.2M915.4 1761.3Q925.5 1760.4 939.2 1762M939.2 1762L932.8 1763.7M939.2 1762L933.4 1758.8M940.9 1760.1Q953.8 1761 967.4 1761.9M967.4 1761.9L960.3 1764.2M967.4 1761.9L960.7 1758.7M968.1 1760.1Q982.2 1760.9 993.9 1762.1M993.9 1762.1L986.9 1764.1M993.9 1762.1L987.5 1758.7M996.9 1760Q1009.7 1761.4 1020.5 1761.2M1020.5 1761.2L1014.4 1763.8M1020.5 1761.2L1014.3 1758.8M1025.8 1760.9Q1037.1 1761.1 1047.2 1760.8M1047.2 1760.8L1041.7 1763.2M1047.2 1760.8L1041.6 1758.7M1054 1761.2Q1064.2 1761.1 1075.3 1760.7M1075.3 1760.7L1069.8 1763.1M1075.3 1760.7L1069.6 1758.6M1080.9 1761.4Q1088.3 1761 1110.4 1760.6M1110.4 1760.6L1103.5 1763.6M1110.4 1760.6L1103.4 1757.9M1104.4 1761.5Q1117 1761.5 1140 1759.5M1140 1759.5L1133.3 1762.9M1140 1759.5L1132.8 1757.3M1126.5 1761.9Q1147.4 1761.5 1167.6 1759.2M1167.6 1759.2L1161 1762.8M1167.6 1759.2L1160.4 1757.2M1154.9 1763.1Q1175.8 1761.6 1192.7 1757.7M1192.7 1757.7L1186.5 1762M1192.7 1757.7L1185.3 1756.5M1184.2 1764.2Q1202.4 1761.1 1220.7 1757.7M1220.7 1757.7L1214.3 1761.7M1220.7 1757.7L1213.3 1756.2M1213.6 1765.1Q1228.5 1760.1 1249.4 1758.8M1249.4 1758.8L1242.7 1762M1249.4 1758.8L1242.3 1756.4M1238.7 1763.6Q1257.1 1760.7 1277.6 1759M1277.6 1759L1270.9 1762.4M1277.6 1759L1270.5 1756.8M1266.1 1763.4Q1283.9 1760.2 1306.8 1760.1M1306.8 1760.1L1299.9 1763M1306.8 1760.1L1299.9 1757.4M1291.8 1762.4Q1313 1760.3 1333.4 1761M1333.4 1761L1326.3 1763.6M1333.4 1761L1326.5 1758M1319.7 1761.3Q1341.2 1760.6 1359.5 1761.6M1359.5 1761.6L1352.4 1764M1359.5 1761.6L1352.7 1758.4M1347.7 1761Q1369.7 1761 1384.9 1760.9M1384.9 1760.9L1378 1763.8M1384.9 1760.9L1378 1758.2M1377.9 1760.4Q1397.9 1762.6 1408.7 1758.3M1408.7 1758.3L1403.3 1763.5M1408.7 1758.3L1401.2 1758.3M1409.8 1763.4Q1424.1 1761.6 1434.8 1757.5M1434.8 1757.5L1429.6 1762.4M1434.8 1757.5L1427.6 1757.3M1438.9 1764.4Q1452.7 1761.4 1458.9 1756.9M1458.9 1756.9L1455.7 1761.9M1458.9 1756.9L1453.1 1758.3M920.4 1783.8Q925 1780.6 935.2 1781.8M935.2 1781.8L931.1 1782.9M935.2 1781.8L931.5 1779.8M944 1780.4Q953.9 1781.5 964.2 1783.4M964.2 1783.4L958.6 1784.5M964.2 1783.4L959.4 1780.3M971.2 1780Q981.7 1781.8 991.9 1783.2M991.9 1783.2L986.2 1784.6M991.9 1783.2L986.8 1780.3M998.3 1780.1Q1009.6 1782.2 1019.2 1782.2M1019.2 1782.2L1013.8 1784.4M1019.2 1782.2L1013.8 1780M1026.8 1781.5Q1036.7 1781.8 1047 1781.6M1047 1781.6L1041.8 1783.8M1047 1781.6L1041.7 1779.6M1054.1 1781.7Q1064.6 1781.9 1074.3 1781.3M1074.3 1781.3L1069.2 1783.7M1074.3 1781.3L1069 1779.5M1082.5 1782.7Q1091.5 1781.8 1102.4 1780.6M1102.4 1780.6L1097.5 1783.2M1102.4 1780.6L1097 1779.1M1109.4 1782.8Q1116 1782.7 1137.1 1778.5M1137.1 1778.5L1130.8 1782.6M1137.1 1778.5L1129.7 1777.1M1130.6 1785Q1147.6 1782.5 1163 1776.8M1163 1776.8L1157.4 1781.9M1163 1776.8L1155.5 1776.6M1159.2 1786.7Q1174.8 1781.5 1190.5 1777.1M1190.5 1777.1L1184.6 1781.7M1190.5 1777.1L1183 1776.2M1188 1787.1Q1201.8 1781.2 1218 1777.3M1218 1777.3L1211.9 1781.6M1218 1777.3L1210.6 1776.2M1215.3 1786.6Q1228.1 1780.6 1248.5 1779.1M1248.5 1779.1L1241.8 1782.4M1248.5 1779.1L1241.4 1776.8M1239.9 1784.6Q1257 1781.5 1276.4 1779.2M1276.4 1779.2L1269.8 1782.8M1276.4 1779.2L1269.1 1777.2M1266.4 1784.3Q1284.9 1781 1304.6 1780.5M1304.6 1780.5L1297.8 1783.5M1304.6 1780.5L1297.6 1777.9M1294.1 1783.6Q1312.1 1780.6 1333 1782.1M1333 1782.1L1325.8 1784.4M1333 1782.1L1326.2 1778.8M1320.3 1781.8Q1341 1780.8 1359.3 1783.4M1359.3 1783.4L1352 1785.2M1359.3 1783.4L1352.8 1779.7M1348.5 1780.5Q1368.4 1781.4 1386.8 1783.5M1386.8 1783.5L1379.6 1785.5M1386.8 1783.5L1380.2 1779.9M1376.7 1780Q1397.4 1782.9 1410.8 1781.1M1410.8 1781.1L1404.3 1784.8M1410.8 1781.1L1403.5 1779.2M1406.7 1781.6Q1425.1 1782.5 1435.8 1780.2M1435.8 1780.2L1429.6 1784.4M1435.8 1780.2L1428.5 1778.9M1438 1782.8Q1450.5 1781.2 1464.3 1781.7M1464.3 1781.7L1457.4 1784.2M1464.3 1781.7L1457.6 1778.7M923.2 1807Q926.2 1802.1 930.1 1798.4M930.1 1798.4L928.8 1801.2M930.1 1798.4L927.2 1799.5M947.3 1800.8Q953.9 1801.6 960.9 1805.6M960.9 1805.6L956.9 1805.1M960.9 1805.6L958.4 1802.4M973.9 1799.7Q981.2 1802.4 990.1 1805.1M990.1 1805.1L985.3 1805.6M990.1 1805.1L986.4 1802.1M1000.1 1800.3Q1009.1 1802.9 1018.4 1803.6M1018.4 1803.6L1013.5 1805.2M1018.4 1803.6L1013.8 1801.3M1027.4 1802.5Q1036.7 1802.6 1046.4 1801.8M1046.4 1801.8L1041.6 1804.2M1046.4 1801.8L1041.3 1800.3M1055.1 1803.2Q1064.7 1802.8 1073 1800.8M1073 1800.8L1068.9 1803.7M1073 1800.8L1068 1800M1083.4 1804.1Q1092 1802.3 1100.6 1800.9M1100.6 1800.9L1096.4 1803.5M1100.6 1800.9L1095.9 1799.8M1110.7 1804Q1117.6 1803.3 1132.4 1799.1M1132.4 1799.1L1127.5 1802.9M1132.4 1799.1L1126.2 1798.4M1136 1805.5Q1145.3 1803.5 1162.2 1797.2M1162.2 1797.2L1156.6 1802.2M1162.2 1797.2L1154.7 1797M1160.5 1807.8Q1175 1802.6 1188.6 1796.5M1188.6 1796.5L1183.4 1802M1188.6 1796.5L1181.1 1796.8M1189 1808.1Q1202.6 1802 1215.4 1797.4M1215.4 1797.4L1209.9 1802.4M1215.4 1797.4L1207.9 1797.1M1217.5 1807.4Q1227.6 1801.3 1247.3 1799.7M1247.3 1799.7L1240.6 1803M1247.3 1799.7L1240.2 1797.4M1241.2 1805.5Q1257.1 1802.1 1274.9 1799.9M1274.9 1799.9L1268.4 1803.5M1274.9 1799.9L1267.7 1798M1268 1805Q1285.1 1801.4 1302.7 1801.8M1302.7 1801.8L1295.7 1804.5M1302.7 1801.8L1295.8 1798.9M1295.4 1803.2Q1312.3 1801.5 1331.2 1803.3M1331.2 1803.3L1324 1805.5M1331.2 1803.3L1324.6 1799.9M1322.4 1801.9Q1340 1801.4 1359.3 1804.9M1359.3 1804.9L1352 1806.4M1359.3 1804.9L1352.9 1800.9M1349.1 1800.4Q1368.1 1802.2 1386.8 1804.8M1386.8 1804.8L1379.6 1806.6M1386.8 1804.8L1380.3 1801.1M1376.7 1799.9Q1395.9 1802.5 1413.8 1804.8M1413.8 1804.8L1406.5 1806.7M1413.8 1804.8L1407.3 1801.1M1404.6 1799.9Q1425.5 1803 1437.3 1803.7M1437.3 1803.7L1430.2 1806.1M1437.3 1803.7L1430.5 1800.5M1436.7 1801.3Q1451 1802.2 1464.5 1803.9M1464.5 1803.9L1457.2 1805.8M1464.5 1803.9L1458 1800.3M922.9 1828.3Q926.5 1822.8 929.7 1818.4M929.7 1818.4L928.9 1821.7M929.7 1818.4L926.9 1820.2M949 1824.6Q953.3 1821.8 960.3 1824.1M960.3 1824.1L957.1 1824.3M960.3 1824.1L957.9 1822.1M974.5 1820.6Q981.2 1822.7 989.5 1826.4M989.5 1826.4L985 1826.2M989.5 1826.4L986.3 1823.1M1001.2 1819.9Q1009.2 1822.6 1017.3 1827.4M1017.3 1827.4L1012.3 1826.6M1017.3 1827.4L1014.3 1823.4M1028 1821.5Q1036.8 1824.3 1045.7 1822.4M1045.7 1822.4L1041.6 1825.1M1045.7 1822.4L1040.8 1821.5M1055.7 1824Q1064.5 1823.3 1073 1821.9M1073 1821.9L1068.8 1824.4M1073 1821.9L1068.2 1820.8M1083.4 1824.4Q1092 1823.2 1100.6 1821.5M1100.6 1821.5L1096.5 1824.2M1100.6 1821.5L1095.8 1820.6M1111.1 1824.3Q1119.3 1823.1 1128.6 1821.9M1128.6 1821.9L1124.3 1824.3M1128.6 1821.9L1123.8 1820.7M1137.4 1825.1Q1145.7 1824.5 1159.9 1818.3M1159.9 1818.3L1155.3 1823M1159.9 1818.3L1153.3 1818.5M1163.3 1827.2Q1174.4 1823.7 1187.1 1817.9M1187.1 1817.9L1182.2 1823.1M1187.1 1817.9L1180 1818.2M1190.8 1827.9Q1202.3 1823.2 1214.2 1818.2M1214.2 1818.2L1209.2 1823.2M1214.2 1818.2L1207.1 1818.3M1218.7 1827.6Q1228.1 1822.4 1245.2 1819.9M1245.2 1819.9L1238.7 1823.7M1245.2 1819.9L1237.9 1818.2M1243.5 1826.5Q1256.2 1822.2 1274.5 1821.4M1274.5 1821.4L1267.7 1824.5M1274.5 1821.4L1267.5 1818.9M1268.5 1825Q1285 1822.1 1302.4 1823.1M1302.4 1823.1L1295.3 1825.5M1302.4 1823.1L1295.6 1819.9M1295.7 1823.1Q1312.8 1822.7 1330 1823.9M1330 1823.9L1322.9 1826.2M1330 1823.9L1323.2 1820.6M1323.3 1822.8Q1339.7 1822.1 1358.9 1825.5M1358.9 1825.5L1351.6 1827M1358.9 1825.5L1352.6 1821.5M1349.9 1821.2Q1367.7 1822.8 1386.8 1825.7M1386.8 1825.7L1379.5 1827.4M1386.8 1825.7L1380.3 1821.9M1376.8 1820.6Q1395.6 1823 1414.4 1825.7M1414.4 1825.7L1407.1 1827.5M1414.4 1825.7L1407.9 1821.9M1404.3 1820.5Q1424.8 1823.3 1438.9 1825.2M1438.9 1825.2L1431.6 1827.1M1438.9 1825.2L1432.4 1821.5M1434.8 1821Q1451.7 1823.3 1465.1 1824.8M1465.1 1824.8L1457.8 1826.8M1465.1 1824.8L1458.5 1821.2M922.8 1848.9Q926.4 1843.9 929.9 1838.6M929.9 1838.6L929.2 1842M929.9 1838.6L927 1840.6M947.7 1843Q953.7 1843.2 960.8 1845.8M960.8 1845.8L957.1 1845.9M960.8 1845.8L958 1843.3M974.4 1841.3Q980.9 1842.4 990.3 1849M990.3 1849L985.4 1847.9M990.3 1849L987.6 1844.9M1001.2 1838.3Q1009.5 1843 1016.7 1850.9M1016.7 1850.9L1011.7 1848.5M1016.7 1850.9L1014.7 1845.6M1028.9 1838.6Q1036.9 1845.7 1044.5 1845.3M1044.5 1845.3L1040.2 1847.3M1044.5 1845.3L1040 1843.7M1056.3 1843.6Q1064.4 1843.8 1072.5 1844M1072.5 1844L1068.3 1845.6M1072.5 1844L1068.4 1842.2M1083.6 1843.7Q1091.9 1843.8 1100.5 1843.8M1100.5 1843.8L1096.1 1845.6M1100.5 1843.8L1096.1 1842.1M1111.3 1843.6Q1119.8 1843.7 1127.4 1844.3M1127.4 1844.3L1123.1 1845.6M1127.4 1844.3L1123.4 1842.2M1139.8 1843.6Q1147.2 1844.4 1154.7 1842.9M1154.7 1842.9L1151.2 1845.2M1154.7 1842.9L1150.6 1842.1M1167.3 1844.8Q1173.6 1845.1 1184.7 1840.3M1184.7 1840.3L1181.2 1843.8M1184.7 1840.3L1179.7 1840.4M1192.6 1847.3Q1202.2 1843.9 1212.5 1840.1M1212.5 1840.1L1208.2 1844.1M1212.5 1840.1L1206.6 1839.9M1220.9 1847.4Q1229.1 1843.8 1240.9 1840.2M1240.9 1840.2L1236.3 1844M1240.9 1840.2L1235 1839.7M1247.3 1846.9Q1256.1 1843.2 1270.8 1841.9M1270.8 1841.9L1264.8 1845M1270.8 1841.9L1264.4 1839.9M1272.7 1846Q1282.9 1842.3 1302.3 1844.6M1302.3 1844.6L1295.1 1846.6M1302.3 1844.6L1295.8 1841M1295.7 1843Q1313.4 1843.4 1328.7 1845.3M1328.7 1845.3L1321.5 1847.2M1328.7 1845.3L1322.1 1841.7M1324 1842.6Q1340.6 1843.2 1356.4 1846.1M1356.4 1846.1L1349.1 1847.6M1356.4 1846.1L1350.1 1842.1M1352.2 1841.9Q1366.7 1843.4 1386.5 1846.5M1386.5 1846.5L1379.2 1848.2M1386.5 1846.5L1380.1 1842.6M1377.3 1841.2Q1395.6 1843.7 1413.9 1846.7M1413.9 1846.7L1406.6 1848.3M1413.9 1846.7L1407.5 1842.8M1404.4 1841.2Q1424.5 1843.2 1439.3 1847.6M1439.3 1847.6L1431.9 1848.3M1439.3 1847.6L1433.5 1842.9M1434 1840.4Q1451.5 1843.8 1466.2 1847.1M1466.2 1847.1L1458.8 1848.3M1466.2 1847.1L1460.1 1842.9M922.7 1869.1Q926.5 1864.8 929.9 1859.2M929.9 1859.2L929.4 1862.6M929.9 1859.2L927.2 1861.3M947.8 1863.5Q953.6 1863.6 960.9 1867.3M960.9 1867.3L957.1 1867M960.9 1867.3L958.4 1864.4M973.2 1860Q981.5 1863.6 990.2 1870.9M990.2 1870.9L984.8 1869.1M990.2 1870.9L987.5 1865.9M1001 1858.2Q1010 1863.5 1015.7 1872.7M1015.7 1872.7L1011.1 1869.3M1015.7 1872.7L1014.7 1867M1029.7 1857Q1037 1865.7 1043.4 1869.5M1043.4 1869.5L1038.3 1868.7M1043.4 1869.5L1040.3 1865.4M1057.1 1862.4Q1064.5 1864.4 1071.6 1866.8M1071.6 1866.8L1067.3 1867M1071.6 1866.8L1068.4 1864M1084.9 1862.2Q1092.1 1864.4 1098.9 1867M1098.9 1867L1094.8 1867.1M1098.9 1867L1095.9 1864.2M1112.4 1862.5Q1119.6 1864.7 1126.7 1866.1M1126.7 1866.1L1122.7 1866.9M1126.7 1866.1L1123.3 1863.8M1140.2 1863.9Q1147.2 1864.8 1154.1 1864.5M1154.1 1864.5L1150.5 1866.1M1154.1 1864.5L1150.4 1863.2M1167.9 1864.5Q1174.9 1865.3 1181.5 1862.8M1181.5 1862.8L1178.7 1865.4M1181.5 1862.8L1177.6 1862.7M1197.1 1867.9Q1202.1 1864.5 1208.4 1861.1M1208.4 1861.1L1206 1863.9M1208.4 1861.1L1204.7 1861.5M1223.2 1867.5Q1229.1 1864.4 1238.7 1861.7M1238.7 1861.7L1235 1864.5M1238.7 1861.7L1234.1 1861.2M1248.1 1867.4Q1257.2 1864.7 1267.9 1861.2M1267.9 1861.2L1263.5 1864.9M1267.9 1861.2L1262.1 1860.8M1274.9 1867.7Q1282.9 1863 1300.1 1864.3M1300.1 1864.3L1293.3 1866.5M1300.1 1864.3L1293.8 1861.1M1297.7 1864.6Q1312.8 1863.5 1327.9 1866.4M1327.9 1866.4L1320.6 1867.9M1327.9 1866.4L1321.7 1862.3M1325.2 1862.6Q1340.7 1864.1 1355 1867.2M1355 1867.2L1347.6 1868.5M1355 1867.2L1348.8 1863M1353.1 1862.2Q1367.6 1863.5 1383.8 1868.7M1383.8 1868.7L1376.3 1869.3M1383.8 1868.7L1378 1863.9M1378.6 1861.2Q1396.4 1863.9 1411 1868.9M1411 1868.9L1403.5 1869.3M1411 1868.9L1405.3 1864M1406.6 1860.7Q1424 1864 1438.2 1869.3M1438.2 1869.3L1430.7 1869.5M1438.2 1869.3L1432.7 1864.2M1435.3 1860.1Q1451.6 1863.8 1464.7 1870.3M1464.7 1870.3L1457.2 1869.7M1464.7 1870.3L1459.7 1864.7M922.7 1888Q926.4 1886.2 930.2 1880.4M930.2 1880.4L929.6 1883.3M930.2 1880.4L927.7 1882.1M948.3 1883.1Q953.8 1884.4 960.1 1888.9M960.1 1888.9L956.5 1888M960.1 1888.9L958.1 1885.8M973.8 1878.5Q982.2 1884.2 988.3 1894M988.3 1894L983.5 1890.5M988.3 1894L987.3 1888.1M1002.9 1876.8Q1009.3 1885.1 1015.4 1893.9M1015.4 1893.9L1010.4 1890.6M1015.4 1893.9L1014.1 1888.1M1030.2 1877.1Q1037.6 1885.4 1041.8 1892.8M1041.8 1892.8L1037.5 1889.4M1041.8 1892.8L1041.1 1887.4M1058 1881.2Q1064.5 1885 1070.7 1889.6M1070.7 1889.6L1066.6 1888.5M1070.7 1889.6L1068.5 1886M1085.2 1881.8Q1092 1885.2 1098.8 1888.6M1098.8 1888.6L1094.6 1888.3M1098.8 1888.6L1096 1885.4M1112.7 1882.1Q1119.7 1885.3 1126.3 1888.2M1126.3 1888.2L1122.1 1888M1126.3 1888.2L1123.4 1885.2M1140.4 1883.5Q1147.2 1885.6 1154 1886.2M1154 1886.2L1150.3 1887.3M1154 1886.2L1150.6 1884.4M1167.9 1884.4Q1175 1885.6 1181.4 1885.3M1181.4 1885.3L1177.9 1886.8M1181.4 1885.3L1177.8 1884M1196.7 1886.3Q1202.4 1885.6 1208.2 1883.3M1208.2 1883.3L1205.8 1885.6M1208.2 1883.3L1204.9 1883.3M1223.8 1885.9Q1229.1 1885.8 1237.9 1883.3M1237.9 1883.3L1234.7 1885.8M1237.9 1883.3L1233.9 1882.9M1249 1887Q1257.6 1885.2 1266.3 1883.4M1266.3 1883.4L1262.1 1886.2M1266.3 1883.4L1261.4 1882.5M1276.4 1886.8Q1284.7 1883.7 1295 1886.5M1295 1886.5L1289.8 1887.1M1295 1886.5L1290.8 1883.4M1302.3 1883.2Q1312.1 1884.1 1324.8 1889.4M1324.8 1889.4L1318.3 1889.3M1324.8 1889.4L1320.1 1884.8M1327.8 1881.3Q1340.6 1884.8 1352.6 1890M1352.6 1890L1345.3 1889.8M1352.6 1890L1347.5 1884.7M1354.8 1881.2Q1368.6 1883.5 1380 1892.5M1380 1892.5L1372.8 1890.4M1380 1892.5L1376.2 1886M1381.8 1879.4Q1395.7 1885.1 1409.3 1891.2M1409.3 1891.2L1401.8 1890.9M1409.3 1891.2L1404.1 1885.8M1408.9 1879.8Q1423.8 1884.6 1436.3 1891.8M1436.3 1891.8L1428.8 1890.7M1436.3 1891.8L1431.6 1885.9M1436.7 1879.6Q1451.8 1884.5 1462.9 1892.2M1462.9 1892.2L1455.6 1890.5M1462.9 1892.2L1458.8 1885.9M922.6 1904.9Q926.3 1904.2 930.5 1910.2M930.5 1910.2L928 1908.6M930.5 1910.2L929.8 1907.3M948.7 1901.9Q953.8 1904.5 959.7 1912.8M959.7 1912.8L956 1910.4M959.7 1912.8L958.7 1908.5M975 1898.1Q982 1905.3 987.4 1915M987.4 1915L982.8 1911.3M987.4 1915L986.7 1909.2M1003 1897.3Q1010 1904.7 1013.8 1917M1013.8 1917L1009.8 1912.1M1013.8 1917L1014.3 1910.8M1031.7 1896.8Q1037.7 1905.8 1040 1915.3M1040 1915.3L1036.7 1910.6M1040 1915.3L1040.8 1909.7M1058.9 1900.3Q1064.3 1905.9 1070 1911.4M1070 1911.4L1065.9 1909.8M1070 1911.4L1068.2 1907.4M1085.9 1901Q1092 1905.9 1098 1910.7M1098 1910.7L1093.9 1909.5M1098 1910.7L1095.9 1906.9M1113.2 1902Q1119.9 1905.6 1125.4 1910.5M1125.4 1910.5L1121.5 1909M1125.4 1910.5L1123.5 1906.7M1140.4 1903.3Q1147.2 1905.9 1154 1908.5M1154 1908.5L1149.9 1908.6M1154 1908.5L1151 1905.7M1168.1 1904.1Q1175.2 1905.7 1180.7 1908.2M1180.7 1908.2L1177 1908M1180.7 1908.2L1178.2 1905.5M1197 1904.3Q1202.2 1906.5 1208.3 1906.2M1208.3 1906.2L1205.4 1907.6M1208.3 1906.2L1205.2 1905.2M1224 1905.8Q1229.8 1906 1236.3 1905.8M1236.3 1905.8L1233.2 1907.2M1236.3 1905.8L1233.1 1904.6M1249.9 1906.3Q1257.3 1905.8 1266 1905.7M1266 1905.7L1261.8 1907.4M1266 1905.7L1261.8 1904M1276.8 1905.3Q1285.2 1903.7 1293.6 1911M1293.6 1911L1288.9 1909.4M1293.6 1911L1291.4 1906.6M1304.2 1900.8Q1312.5 1905.9 1322 1911.1M1322 1911.1L1316.3 1910.4M1322 1911.1L1318.3 1906.6M1329 1901.4Q1340.6 1904.7 1351.5 1912.9M1351.5 1912.9L1344.7 1911M1351.5 1912.9L1347.8 1906.8M1356.2 1899.4Q1368.3 1905.3 1379.2 1913.7M1379.2 1913.7L1372 1911.7M1379.2 1913.7L1375.4 1907.2M1383.8 1898.4Q1395.7 1906 1407.2 1913.2M1407.2 1913.2L1399.8 1911.9M1407.2 1913.2L1402.8 1907.1M1409.9 1899.6Q1424 1905.2 1434.9 1913.6M1434.9 1913.6L1427.7 1911.6M1434.9 1913.6L1431.1 1907.1M1438.7 1898.5Q1451.6 1906.2 1461.4 1912.8M1461.4 1912.8L1454 1911.2M1461.4 1912.8L1457.2 1906.6M922.6 1922.3Q927.4 1922.8 928.2 1938.4M928.2 1938.4L926.2 1934.1M928.2 1938.4L929.7 1933.9M948.7 1920.1Q956.2 1922.2 954.9 1941.9M954.9 1941.9L952.9 1935.8M954.9 1941.9L957.7 1936.1M976.1 1917.1Q983 1923.6 984.2 1942M984.2 1942L981 1935.4M984.2 1942L986.5 1935M1003.6 1916.8Q1009.9 1924.6 1013.4 1940.3M1013.4 1940.3L1009.4 1934.4M1013.4 1940.3L1014.6 1933.3M1033.6 1916.3Q1037.5 1926.6 1038.6 1936.9M1038.6 1936.9L1035.8 1931.7M1038.6 1936.9L1040.2 1931.2M1060 1919.7Q1064.5 1926.5 1068.6 1933.6M1068.6 1933.6L1065 1930.8M1068.6 1933.6L1067.9 1929.1M1086.6 1920.9Q1092.6 1926 1096.3 1933.5M1096.3 1933.5L1093 1930.5M1096.3 1933.5L1095.9 1929.1M1114.4 1920.9Q1119.7 1926.4 1124.5 1932.7M1124.5 1932.7L1120.8 1930.5M1124.5 1932.7L1123.4 1928.5M1141.5 1922Q1147.4 1926.4 1152.4 1931.5M1152.4 1931.5L1148.7 1929.9M1152.4 1931.5L1150.9 1927.8M1169.2 1922.8Q1175.4 1926.1 1179.1 1931.4M1179.1 1931.4L1176.1 1929.4M1179.1 1931.4L1178.3 1927.8M1198 1921.8Q1202.5 1926.5 1206.6 1931.6M1206.6 1931.6L1203.4 1929.9M1206.6 1931.6L1205.6 1928.1M1224.7 1924.7Q1230.3 1925.9 1234.7 1929.9M1234.7 1929.9L1231.8 1928.8M1234.7 1929.9L1233.3 1927.1M1251.3 1923.8Q1258 1925.5 1263 1931.6M1263 1931.6L1259.6 1929.7M1263 1931.6L1261.8 1927.9M1277.9 1922Q1285.4 1925.9 1292.1 1932.5M1292.1 1932.5L1287.5 1930.6M1292.1 1932.5L1290.1 1928M1305.4 1920.9Q1312.8 1926.7 1320.2 1932.2M1320.2 1932.2L1315.2 1930.9M1320.2 1932.2L1317.5 1927.7M1331.9 1921.4Q1340.6 1926.5 1348.4 1931.9M1348.4 1931.9L1343.1 1930.7M1348.4 1931.9L1345.4 1927.3M1357.7 1918.9Q1368.8 1926.4 1376.6 1934.8M1376.6 1934.8L1370.4 1931.8M1376.6 1934.8L1374.2 1928.3M1385.5 1918.8Q1396.8 1927.2 1403.3 1933.3M1403.3 1933.3L1397.3 1931M1403.3 1933.3L1400.6 1927.4M1413.1 1919.5Q1423.7 1926.5 1432.3 1933.9M1432.3 1933.9L1425.9 1931.7M1432.3 1933.9L1429.2 1927.9M1440.4 1919Q1451.9 1927.9 1459.1 1931.6M1459.1 1931.6L1452.8 1931M1459.1 1931.6L1455 1926.8M924.5 1935.9Q926.6 1945.9 927.8 1961.4M927.8 1961.4L924.6 1955M927.8 1961.4L930 1954.6M952.7 1932.8Q954.1 1946 955.1 1964.5M955.1 1964.5L951.9 1957.7M955.1 1964.5L957.5 1957.4M978.9 1932.4Q981.9 1945.6 983.7 1965.6M983.7 1965.6L980.3 1958.9M983.7 1965.6L985.8 1958.4M1005.2 1933.6Q1009.4 1946.4 1012.8 1962.8M1012.8 1962.8L1008.6 1956.6M1012.8 1962.8L1014.1 1955.4M1035 1936.9Q1036.6 1947.1 1039.1 1958.1M1039.1 1958.1L1035.6 1953.2M1039.1 1958.1L1040.1 1952.2M1060.8 1939.5Q1064.9 1946.5 1067 1956.7M1067 1956.7L1064.2 1952.4M1067 1956.7L1067.9 1951.7M1088.1 1939.8Q1092.8 1946.5 1094.3 1956.4M1094.3 1956.4L1091.8 1952.1M1094.3 1956.4L1095.4 1951.5M1115.9 1940.3Q1120.6 1946.6 1121.2 1955.7M1121.2 1955.7L1119.2 1951.6M1121.2 1955.7L1122.7 1951.4M1143.5 1940.5Q1148.4 1946.6 1148.6 1955.4M1148.6 1955.4L1146.8 1951.4M1148.6 1955.4L1150.1 1951.3M1171.2 1941.4Q1175.6 1946.7 1176.7 1954.4M1176.7 1954.4L1174.7 1951M1176.7 1954.4L1177.7 1950.6M1198.9 1941.4Q1202.8 1946.9 1205 1954.1M1205 1954.1L1202.5 1951M1205 1954.1L1205.4 1950.2M1226.1 1942.3Q1230.2 1946.8 1233.4 1953.3M1233.4 1953.3L1230.6 1950.8M1233.4 1953.3L1233.1 1949.6M1253.2 1941.5Q1257.7 1947.2 1261.9 1953.3M1261.9 1953.3L1258.5 1951.1M1261.9 1953.3L1261 1949.3M1280 1941.5Q1285 1947.4 1290.9 1953M1290.9 1953L1286.7 1951.3M1290.9 1953L1289 1948.9M1306 1941.5Q1312.9 1948.1 1319.4 1951.5M1319.4 1951.5L1314.7 1951M1319.4 1951.5L1316.3 1947.9M1333.6 1944.1Q1340.4 1947.9 1347.2 1949.2M1347.2 1949.2L1343.2 1950M1347.2 1949.2L1343.8 1947M1360.6 1943.5Q1368 1946.8 1375.4 1952.1M1375.4 1952.1L1370.7 1950.9M1375.4 1952.1L1372.8 1948M1387.7 1940.6Q1396.9 1948.6 1401 1951.5M1401 1951.5L1396.3 1950.4M1401 1951.5L1398.4 1947.4M1417.5 1942.1Q1423.4 1947.5 1428.4 1952.1M1428.4 1952.1L1424.5 1950.7M1428.4 1952.1L1426.7 1948.4M1443.6 1942.9Q1452.1 1950.4 1455.5 1945.5M1455.5 1945.5L1454.7 1948.9M1455.5 1945.5L1452.6 1947.4M924.7 1955.3Q926.8 1965.7 927.3 1985.2M927.3 1985.2L924.3 1978.4M927.3 1985.2L929.9 1978.2M953 1952.9Q954.1 1964.5 954.9 1990.1M954.9 1990.1L951.8 1983.2M954.9 1990.1L957.5 1983M979.2 1952.4Q981.9 1964.7 983.3 1990.2M983.3 1990.2L980.1 1983.4M983.3 1990.2L985.8 1983.1M1005.4 1953.7Q1009 1965.8 1013.4 1986.8M1013.4 1986.8L1009.2 1980.6M1013.4 1986.8L1014.7 1979.4M1034.4 1956.5Q1036.7 1967.7 1039.4 1980.1M1039.4 1980.1L1035.6 1974.5M1039.4 1980.1L1040.5 1973.4M1061.8 1958.5Q1064.4 1967.6 1067 1978.3M1067 1978.3L1063.6 1973.6M1067 1978.3L1067.8 1972.6M1089.6 1958.8Q1092.6 1968.4 1093.2 1976.4M1093.2 1976.4L1091 1971.8M1093.2 1976.4L1094.7 1971.6M1118.3 1959.6Q1120.8 1968 1118.5 1976.4M1118.5 1976.4L1117.9 1971.7M1118.5 1976.4L1121.3 1972.7M1146.2 1959.7Q1148.2 1968.3 1146.1 1975.7M1146.1 1975.7L1145.6 1971.2M1146.1 1975.7L1148.8 1972.2M1173.7 1960.4Q1175.3 1967.6 1174.8 1976.5M1174.8 1976.5L1173.4 1972.2M1174.8 1976.5L1176.7 1972.4M1199.9 1961.2Q1202.7 1967.8 1204.2 1975.2M1204.2 1975.2L1202 1971.8M1204.2 1975.2L1205 1971.1M1227.3 1961.2Q1230.1 1967.9 1232.6 1974.9M1232.6 1974.9L1229.8 1971.8M1232.6 1974.9L1232.7 1970.8M1253.5 1961.9Q1257.3 1968.2 1262.4 1973.8M1262.4 1973.8L1258.6 1972M1262.4 1973.8L1260.9 1969.9M1280.2 1962.3Q1284.7 1968.3 1291.2 1973.2M1291.2 1973.2L1287 1972M1291.2 1973.2L1289 1969.5M1306.9 1963Q1312.6 1968.6 1319.1 1971.7M1319.1 1971.7L1314.9 1971.5M1319.1 1971.7L1316.3 1968.6M1334.6 1965.4Q1340.9 1968 1345.2 1970.5M1345.2 1970.5L1341.9 1970.1M1345.2 1970.5L1343.2 1967.9M1362.4 1965.5Q1368.2 1968.1 1373.3 1970.2M1373.3 1970.2L1370 1970.2M1373.3 1970.2L1370.9 1967.9M1391 1967.7Q1395.8 1968.2 1399.8 1967.9M1399.8 1967.9L1397.1 1969.2M1399.8 1967.9L1396.9 1967M1419.8 1969.6Q1423 1967.3 1427 1967.7M1427 1967.7L1424.1 1968.6M1427 1967.7L1424.4 1966.3M1448.6 1975.4Q1450.7 1967.8 1453.1 1961M1453.1 1961L1453.3 1965.2M1453.1 1961L1450.3 1964.2M925.4 1971.7Q926.4 1988.1 927.5 2007M927.5 2007L924.2 2000.2M927.5 2007L929.9 1999.9M953 1969.8Q953.9 1987.7 955.2 2009.5M955.2 2009.5L952 2002.7M955.2 2009.5L957.6 2002.4M979.8 1968.8Q981.1 1987.7 984.4 2010.6M984.4 2010.6L980.6 2004.1M984.4 2010.6L986.2 2003.3M1005.7 1970.3Q1008.6 1989.9 1013.8 2004.7M1013.8 2004.7L1008.9 1999.1M1013.8 2004.7L1014.2 1997.2M1034.1 1976.1Q1036.9 1990.4 1039.3 1997.9M1039.3 1997.9L1035.3 1993M1039.3 1997.9L1039.8 1991.6M1061.9 1978.4Q1064.7 1990.2 1066.4 1995.9M1066.4 1995.9L1063.2 1991.9M1066.4 1995.9L1066.8 1990.9M1090.6 1980.3Q1092.1 1990.2 1093.3 1994.2M1093.3 1994.2L1090.8 1991.1M1093.3 1994.2L1093.7 1990.3M1120.9 1980.9Q1119.6 1990.3 1118.3 1993.2M1118.3 1993.2L1118.4 1989.7M1118.3 1993.2L1120.8 1990.8M1148.8 1982.4Q1147.4 1989.3 1145.2 1993.7M1145.2 1993.7L1145.5 1990.4M1145.2 1993.7L1147.7 1991.5M1174.8 1980.2Q1175.1 1989.3 1174.2 1996.1M1174.2 1996.1L1173.1 1991.7M1174.2 1996.1L1176.4 1992.2M1201.1 1981.2Q1202.7 1988.9 1203.1 1995.9M1203.1 1995.9L1201.3 1992.1M1203.1 1995.9L1204.4 1991.9M1227.4 1981.8Q1229.8 1988.8 1232.9 1995.4M1232.9 1995.4L1229.9 1992.6M1232.9 1995.4L1232.7 1991.3M1253.9 1982.4Q1256.4 1989.4 1263.8 1993.6M1263.8 1993.6L1259.6 1993M1263.8 1993.6L1261.2 1990.3M1279.2 1983.5Q1285.1 1988.8 1291.4 1993.8M1291.4 1993.8L1287.1 1992.5M1291.4 1993.8L1289.2 1989.9M1306.5 1983.9Q1312.1 1989.1 1320.4 1992.7M1320.4 1992.7L1315.8 1992.6M1320.4 1992.7L1317.2 1989.4M1334.1 1985.4Q1340.5 1988.8 1346.5 1991.8M1346.5 1991.8L1342.6 1991.5M1346.5 1991.8L1343.9 1988.9M1363.2 1986.1Q1367.8 1989.4 1373.2 1990M1373.2 1990L1370.3 1990.8M1373.2 1990L1370.6 1988.5M1390.4 1991.1Q1396 1988.9 1400 1985.9M1400 1985.9L1398.4 1988.5M1400 1985.9L1397.1 1986.7M1419.9 1992.8Q1423.5 1988.8 1425.9 1984.5M1425.9 1984.5L1425.5 1987.5M1425.9 1984.5L1423.5 1986.4M1446.9 1996.5Q1451.7 1988.7 1453 1980.9M1453 1980.9L1454 1985.5M1453 1980.9L1450.5 1984.9M925.5 1992.1Q926 2008.5 928.1 2028.4M928.1 2028.4L924.6 2021.8M928.1 2028.4L930.2 2021.2M953.1 1987.6Q953.4 2009.8 956.1 2030.4M956.1 2030.4L952.4 2023.8M956.1 2030.4L958 2023.1M979.9 1987.2Q980 2009 986.6 2032.4M986.6 2032.4L982 2026.4M986.6 2032.4L987.4 2024.9M1005.4 1990.4Q1006.7 2010 1017.9 2027.2M1017.9 2027.2L1011.8 2022.9M1017.9 2027.2L1016.5 2019.8M1034.1 1999.9Q1036.2 2009.9 1040.8 2017.9M1040.8 2017.9L1036.5 2014.6M1040.8 2017.9L1040 2012.6M1062.7 2003.4Q1064.5 2009.9 1066 2014.5M1066 2014.5L1063.9 2012M1066 2014.5L1066.2 2011.2M1090.5 2004.6Q1092 2009.3 1093.5 2014.4M1093.5 2014.4L1091.6 2012M1093.5 2014.4L1093.8 2011.4M1120.8 2004.9Q1119 2009.4 1119.6 2014M1119.6 2014L1118.1 2011.3M1119.6 2014L1120.4 2011.1M1149.2 2004.5Q1146.8 2009.3 1146 2014.5M1146 2014.5L1145.3 2011.6M1146 2014.5L1147.5 2011.9M1175.7 2003Q1175 2010 1173.6 2014.5M1173.6 2014.5L1173.3 2011.3M1173.6 2014.5L1175.6 2012M1202.1 2002.6Q1202.9 2009.9 1201.8 2015.1M1201.8 2015.1L1201.2 2011.7M1201.8 2015.1L1203.7 2012.2M1227.2 2002.9Q1228.5 2010.3 1235.8 2014.2M1235.8 2014.2L1231.8 2013.7M1235.8 2014.2L1233.2 2011.1M1250.9 2004.8Q1256.7 2009.9 1266.1 2012.9M1266.1 2012.9L1261.3 2013.3M1266.1 2012.9L1262.4 2009.8M1277.5 2005.4Q1285 2009.4 1293.4 2013.3M1293.4 2013.3L1288.4 2013.1M1293.4 2013.3L1290 2009.7M1305.3 2005.1Q1312.3 2009.4 1321.3 2013.6M1321.3 2013.6L1316.2 2013.4M1321.3 2013.6L1317.8 2009.9M1331.9 2005.1Q1340.5 2009.5 1348.8 2013.5M1348.8 2013.5L1343.5 2013.1M1348.8 2013.5L1345.2 2009.6M1360.7 2006.4Q1368.5 2011.5 1374.2 2008.3M1374.2 2008.3L1371.8 2011.2M1374.2 2008.3L1370.4 2008.8M1389.6 2012.7Q1395.6 2009.5 1401.6 2006M1401.6 2006L1399.2 2009M1401.6 2006L1397.8 2006.5M1417.4 2013.4Q1423.9 2009.8 1427.5 2004.5M1427.5 2004.5L1426.7 2008.2M1427.5 2004.5L1424.4 2006.6M1446.5 2017.8Q1450.9 2009.5 1455 2000.9M1455 2000.9L1454.7 2006.2M1455 2000.9L1451.1 2004.4M925.2 2011.3Q926.1 2029.9 928.2 2049.4M928.2 2049.4L924.7 2042.7M928.2 2049.4L930.3 2042.1M952.9 2009.5Q953.3 2028.5 956.6 2053.9M956.6 2053.9L952.9 2047.4M956.6 2053.9L958.5 2046.7M979.8 2008.3Q979.9 2029.1 986.7 2054M986.7 2054L982.2 2048M986.7 2054L987.6 2046.6M1004.8 2011.9Q1006.6 2029.3 1018.9 2050M1018.9 2050L1012.9 2045.4M1018.9 2050L1017.7 2042.6M1031.5 2020Q1035.2 2028.4 1045.3 2043.6M1045.3 2043.6L1039.1 2039.4M1045.3 2043.6L1043.8 2036.2M1061.2 2025Q1064.2 2030.8 1068.1 2033.8M1068.1 2033.8L1065.1 2033M1068.1 2033.8L1066.5 2031.1M1088.9 2026.9Q1091.7 2030.4 1095.7 2032.6M1095.7 2032.6L1092.7 2032.3M1095.7 2032.6L1093.8 2030.3M1116.4 2027.5Q1119.4 2030.4 1123.2 2032.1M1123.2 2032.1L1120.2 2032M1123.2 2032.1L1121.2 2030M1147.7 2025Q1147.1 2030.1 1146.8 2035.1M1146.8 2035.1L1145.9 2032.3M1146.8 2035.1L1148.1 2032.4M1176.1 2025.3Q1174.8 2030.1 1173.5 2034.9M1173.5 2034.9L1173.1 2031.9M1173.5 2034.9L1175.3 2032.5M1203.3 2024.7Q1202.5 2030.2 1201.3 2035.2M1201.3 2035.2L1200.9 2032.3M1201.3 2035.2L1203.1 2032.8M1225.6 2025.3Q1228.1 2030.8 1238.2 2033.5M1238.2 2033.5L1234 2034M1238.2 2033.5L1234.8 2031M1249 2026.7Q1257.4 2030.2 1266.5 2033.4M1266.5 2033.4L1261.3 2033.6M1266.5 2033.4L1262.6 2029.9M1276.6 2026.7Q1285 2030.1 1294.3 2033.5M1294.3 2033.5L1289 2033.7M1294.3 2033.5L1290.4 2030M1303.9 2026.2Q1312.3 2030 1322.6 2034.2M1322.6 2034.2L1316.9 2034.2M1322.6 2034.2L1318.5 2030.2M1331.4 2025.9Q1340.1 2030.3 1350 2033.9M1350 2033.9L1344.3 2034.1M1350 2033.9L1345.8 2030.1M1358.9 2027.6Q1368.5 2032.3 1376.2 2028.2M1376.2 2028.2L1373 2031.9M1376.2 2028.2L1371.3 2028.7M1387.7 2035.3Q1396.4 2029.7 1402 2025.7M1402 2025.7L1399.4 2029.8M1402 2025.7L1397.3 2026.8M1415.6 2036.8Q1424.2 2030 1428.8 2023.6M1428.8 2023.6L1427.6 2028.7M1428.8 2023.6L1424.4 2026.4M1444.9 2039.9Q1451.5 2029.5 1455.2 2021.5M1455.2 2021.5L1454.9 2027.4M1455.2 2021.5L1450.9 2025.6M924.7 2031.8Q926 2049.6 928.8 2072.2M928.8 2072.2L925.2 2065.7M928.8 2072.2L930.8 2065M952.1 2030.5Q953.6 2049.2 956.8 2074.2M956.8 2074.2L953.1 2067.7M956.8 2074.2L958.7 2067M978.7 2027.9Q980.3 2050.3 987.1 2074.7M987.1 2074.7L982.5 2068.7M987.1 2074.7L987.9 2067.2M1001 2030.9Q1008.8 2050.5 1018.1 2071.3M1018.1 2071.3L1012.7 2066.1M1018.1 2071.3L1017.9 2063.8M1027.4 2032.6Q1037.1 2056.1 1045.5 2058.4M1045.5 2058.4L1038.1 2059.3M1045.5 2058.4L1039.6 2053.9M1055.9 2042.5Q1066.1 2053.6 1069.6 2053.5M1069.6 2053.5L1065.1 2055.5M1069.6 2053.5L1065 2051.8M1087.4 2050.2Q1092.1 2051.4 1096.4 2050.2M1096.4 2050.2L1094 2052M1096.4 2050.2L1093.4 2049.9M1114.6 2050.2Q1119.5 2050.7 1124.7 2051.7M1124.7 2051.7L1121.8 2052.2M1124.7 2051.7L1122.2 2050M1145.5 2047.6Q1147.1 2051 1149.1 2053.7M1149.1 2053.7L1146.6 2052.1M1149.1 2053.7L1148.4 2050.8M1175.9 2046Q1174.4 2051.1 1174.6 2054.9M1174.6 2054.9L1173.3 2052.2M1174.6 2054.9L1175.5 2052.1M1201.8 2046.2Q1200.9 2051.3 1205.9 2054.4M1205.9 2054.4L1203 2053.9M1205.9 2054.4L1204.2 2052M1222.9 2047.7Q1228.7 2051.1 1239.6 2053.4M1239.6 2053.4L1234.8 2054.2M1239.6 2053.4L1235.5 2050.6M1247.6 2048.1Q1257.5 2050.9 1267.9 2053.4M1267.9 2053.4L1262.1 2054.2M1267.9 2053.4L1263.1 2050M1275 2048.2Q1285.2 2050.7 1295.5 2053.7M1295.5 2053.7L1289.6 2054.3M1295.5 2053.7L1290.9 2050M1302.6 2047.5Q1312.8 2050.4 1323.1 2054.9M1323.1 2054.9L1317 2054.7M1323.1 2054.9L1318.8 2050.5M1330.1 2046.6Q1340.4 2051 1350.6 2054.7M1350.6 2054.7L1344.5 2054.9M1350.6 2054.7L1346.1 2050.6M1358.1 2047.9Q1368.7 2054.3 1376.5 2046.7M1376.5 2046.7L1374.4 2051.4M1376.5 2046.7L1371.7 2048.7M1387.3 2057.2Q1395.5 2051 1404.1 2043.9M1404.1 2043.9L1401.2 2049.2M1404.1 2043.9L1398.4 2045.8M1415 2057.9Q1424 2051.4 1429.9 2042.5M1429.9 2042.5L1428.7 2048.4M1429.9 2042.5L1424.9 2045.9M1445 2060.9Q1450.8 2050.8 1456.7 2040.7M1456.7 2040.7L1455.7 2047.2M1456.7 2040.7L1451.5 2044.7M924.6 2052.1Q926 2070.7 929.1 2092.4M929.1 2092.4L925.3 2085.9M929.1 2092.4L930.9 2085.1M951.5 2048.4Q953.4 2071.5 957.6 2094.5M957.6 2094.5L953.6 2088.2M957.6 2094.5L959.1 2087.2M977.5 2047.8Q980 2070.9 989 2096.3M989 2096.3L984 2090.7M989 2096.3L989.3 2088.8M1003.2 2048.4Q1005.7 2072.1 1022.2 2093.4M1022.2 2093.4L1015.7 2089.6M1022.2 2093.4L1020.1 2086.2M1027.5 2054.5Q1035.7 2074.8 1048.3 2081.9M1048.3 2081.9L1040.8 2080.9M1048.3 2081.9L1043.6 2076M1056.2 2065.8Q1065.6 2073 1070.2 2074.2M1070.2 2074.2L1065.6 2074.8M1070.2 2074.2L1066.5 2071.5M1083.2 2065.1Q1094.1 2075.5 1096.7 2069.8M1096.7 2069.8L1096.5 2073.8M1096.7 2069.8L1093.8 2072.6M1115.4 2073Q1119.5 2071.1 1124 2070.8M1124 2070.8L1121.3 2072.1M1124 2070.8L1121.2 2069.9M1143.2 2071.4Q1147.6 2071.1 1150.4 2072.4M1150.4 2072.4L1147.4 2072.2M1150.4 2072.4L1148.4 2070.2M1173.3 2069Q1174.6 2071.7 1176.7 2073.5M1176.7 2073.5L1173.9 2072.6M1176.7 2073.5L1175.3 2070.9M1197.9 2069.1Q1199.8 2072.1 1212 2072.8M1212 2072.8L1208.1 2074.1M1212 2072.8L1208.3 2071M1219.4 2070.1Q1229.5 2071.6 1241.5 2072.8M1241.5 2072.8L1235.5 2074.5M1241.5 2072.8L1236 2069.9M1246.6 2069.7Q1257.8 2071.3 1268.2 2073.7M1268.2 2073.7L1262.2 2074.7M1268.2 2073.7L1263.2 2070.2M1274.7 2069Q1284.7 2071.6 1296.6 2073.7M1296.6 2073.7L1290.5 2075M1296.6 2073.7L1291.3 2070.4M1301.7 2068.9Q1313.1 2071.1 1323.2 2074.8M1323.2 2074.8L1317 2075M1323.2 2074.8L1318.6 2070.6M1330.1 2068Q1340.4 2071.7 1350.6 2074.7M1350.6 2074.7L1344.6 2075.3M1350.6 2074.7L1345.9 2070.9M1358 2069.2Q1369 2074.9 1375.9 2066.9M1375.9 2066.9L1374.3 2071.7M1375.9 2066.9L1371.4 2069.2M1389.7 2080.4Q1394.4 2070.6 1403.8 2064.3M1403.8 2064.3L1400.4 2069.3M1403.8 2064.3L1397.9 2065.6M1417.8 2081.4Q1422.6 2070.9 1429.7 2062.7M1429.7 2062.7L1427.7 2068.6M1429.7 2062.7L1424.2 2065.6M1447.1 2081.7Q1449.7 2071.5 1456.7 2061.2M1456.7 2061.2L1455.4 2067.4M1456.7 2061.2L1451.4 2064.8M923.9 2070.9Q926.3 2092.5 929 2112.9M929 2112.9L925.3 2106.4M929 2112.9L930.9 2105.7M951.4 2068.8Q953.2 2091.3 958.2 2117.5M958.2 2117.5L954.2 2111.2M958.2 2117.5L959.7 2110.1M977.8 2068.5Q979.3 2091.2 990.1 2117.8M990.1 2117.8L984.8 2112.5M990.1 2117.8L990 2110.3M1003.6 2068.4Q1005.2 2093 1022.7 2114.4M1022.7 2114.4L1016.1 2110.8M1022.7 2114.4L1020.5 2107.2M1026.6 2073Q1034.5 2094 1051.6 2107.8M1051.6 2107.8L1044.4 2105.6M1051.6 2107.8L1047.9 2101.2M1053 2082.7Q1063.3 2090.7 1078.1 2104.8M1078.1 2104.8L1071.1 2102M1078.1 2104.8L1075 2098M1086.5 2090.8Q1092.8 2093.4 1095.8 2091.3M1095.8 2091.3L1094.2 2093.8M1095.8 2091.3L1092.9 2092M1115.8 2093.4Q1119.6 2092.3 1123.4 2090.9M1123.4 2090.9L1121.2 2092.9M1123.4 2090.9L1120.4 2090.8M1142.9 2093.1Q1147 2092.1 1151.9 2091.5M1151.9 2091.5L1149.3 2093M1151.9 2091.5L1149 2090.7M1169.6 2092.9Q1174.3 2092.1 1181 2091.6M1181 2091.6L1178.1 2093M1181 2091.6L1177.9 2090.6M1194.3 2092.5Q1200.7 2091.7 1213.8 2092.9M1213.8 2092.9L1208.6 2094.5M1213.8 2092.9L1209 2090.4M1218.3 2091.3Q1229.9 2092.2 1242 2093.1M1242 2093.1L1235.7 2095.1M1242 2093.1L1236 2090.1M1245.7 2091.3Q1257.8 2092.2 1269.2 2093.2M1269.2 2093.2L1262.9 2095.1M1269.2 2093.2L1263.3 2090.2M1273.6 2091Q1285 2092 1297.2 2093.9M1297.2 2093.9L1290.7 2095.4M1297.2 2093.9L1291.5 2090.5M1300.8 2090.5Q1313.2 2092.1 1323.9 2094.1M1323.9 2094.1L1317.5 2095.4M1323.9 2094.1L1318.4 2090.6M1329.8 2089.5Q1340.7 2092.9 1350.5 2093.5M1350.5 2093.5L1344.9 2095.4M1350.5 2093.5L1345.2 2091M1358.4 2092.5Q1369.6 2095.4 1374.4 2085.5M1374.4 2085.5L1374.1 2090.4M1374.4 2085.5L1370.8 2088.8M1390.7 2102Q1395.5 2092.4 1400.8 2082M1400.8 2082L1400.2 2088.3M1400.8 2082L1396.1 2086.1M1418.7 2102.3Q1423 2092.1 1428.2 2082.3M1428.2 2082.3L1427.5 2088.5M1428.2 2082.3L1423.4 2086.3M1447.5 2102.4Q1450.7 2092.2 1454.3 2081.9M1454.3 2081.9L1454.6 2088M1454.3 2081.9L1450.3 2086.5M923.7 2091.9Q926.1 2112.2 929.6 2135.2M929.6 2135.2L925.8 2128.8M929.6 2135.2L931.4 2127.9M951.1 2090.8Q953.3 2111.3 958.3 2138.2M958.3 2138.2L954.3 2131.9M958.3 2138.2L959.8 2130.9M977.1 2088.8Q979.6 2112.2 990.1 2138.4M990.1 2138.4L984.9 2133M990.1 2138.4L990.1 2130.9M1001 2088.8Q1007.2 2113.5 1021.4 2135.7M1021.4 2135.7L1015.3 2131.4M1021.4 2135.7L1020 2128.3M1023.6 2091.4Q1035.8 2114.9 1052 2130.5M1052 2130.5L1045.1 2127.7M1052 2130.5L1049 2123.6M1050.6 2098.6Q1065.8 2115.6 1075.3 2121.9M1075.3 2121.9L1068 2120.4M1075.3 2121.9L1071.1 2115.7M1082.6 2105.5Q1094.4 2115.7 1096.7 2114.6M1096.7 2114.6L1093.5 2118.1M1096.7 2114.6L1092 2114.9M1114.9 2112.4Q1119.5 2112.9 1124.4 2113.4M1124.4 2113.4L1121.5 2114.2M1124.4 2113.4L1121.8 2112M1142.1 2113.3Q1147.3 2113.1 1152.1 2112.1M1152.1 2112.1L1149.6 2113.8M1152.1 2112.1L1149.1 2111.6M1169.2 2113.7Q1174.4 2112.9 1181.1 2112M1181.1 2112L1178.2 2113.7M1181.1 2112L1177.9 2111.2M1195.1 2113.6Q1201.2 2112.5 1212.1 2113M1212.1 2113L1207.6 2114.6M1212.1 2113L1207.8 2111M1219 2112.5Q1229.5 2112.9 1242 2113.3M1242 2113.3L1235.9 2115.5M1242 2113.3L1236.1 2110.7M1245.7 2112.7Q1257.6 2113.8 1269.5 2111.4M1269.5 2111.4L1263.9 2115.1M1269.5 2111.4L1262.9 2110.1M1273.2 2114.9Q1285.2 2111.8 1297.1 2113.1M1297.1 2113.1L1290.6 2114.9M1297.1 2113.1L1291.2 2109.9M1301 2113.1Q1313.2 2113.7 1323.7 2111.1M1323.7 2111.1L1318.5 2114.9M1323.7 2111.1L1317.4 2110.2M1329.8 2116.6Q1340.9 2112.7 1349.9 2109.5M1349.9 2109.5L1345.4 2113.5M1349.9 2109.5L1344 2109.3M1360.3 2119Q1368.9 2113.6 1373.8 2105.4M1373.8 2105.4L1373 2110.7M1373.8 2105.4L1369.6 2108.6M1394.1 2123.1Q1393.9 2112.9 1400.4 2102.7M1400.4 2102.7L1399.3 2108.6M1400.4 2102.7L1395.5 2106.2M1421.7 2123.1Q1422 2112.8 1427.2 2102.8M1427.2 2102.8L1426.6 2108.7M1427.2 2102.8L1422.7 2106.6M1449 2122.4Q1450 2113.2 1454.1 2102.7M1454.1 2102.7L1454.2 2108.4M1454.1 2102.7L1450.2 2106.8M923.7 2112.8Q926.8 2134.2 928.3 2153.3M928.3 2153.3L925 2146.6M928.3 2153.3L930.6 2146.1M950.7 2111Q953.8 2133.6 957.7 2156.2M957.7 2156.2L953.7 2149.8M957.7 2156.2L959.3 2148.8M975.7 2108.5Q980.4 2134 989.9 2157.9M989.9 2157.9L984.7 2152.5M989.9 2157.9L989.9 2150.4M999.9 2108.7Q1007.3 2134.8 1022.3 2156.1M1022.3 2156.1L1016 2152M1022.3 2156.1L1020.6 2148.8M1023.2 2111.4Q1035.3 2135.2 1053.5 2152.5M1053.5 2152.5L1046.5 2149.8M1053.5 2152.5L1050.4 2145.7M1049.5 2117.4Q1065.3 2135.7 1077.5 2145.5M1077.5 2145.5L1070.3 2143.3M1077.5 2145.5L1073.8 2138.9M1082.9 2127Q1091.5 2133.2 1102.1 2141.1M1102.1 2141.1L1095.6 2139.4M1102.1 2141.1L1098.6 2135.4M1111.2 2128.8Q1120.5 2135.2 1126.2 2135.2M1126.2 2135.2L1122 2136.9M1126.2 2135.2L1122 2133.5M1140.6 2133.4Q1147.1 2133.7 1154 2133.5M1154 2133.5L1150.6 2135M1154 2133.5L1150.5 2132.2M1167.9 2134.4Q1174.8 2133.6 1181.7 2132.7M1181.7 2132.7L1178.3 2134.6M1181.7 2132.7L1177.9 2131.7M1195.4 2134.8Q1202 2133.6 1210.1 2132.5M1210.1 2132.5L1206.5 2134.5M1210.1 2132.5L1206.1 2131.4M1221.1 2135Q1228.8 2133.8 1241.3 2131.7M1241.3 2131.7L1236.4 2134.7M1241.3 2131.7L1235.7 2130.5M1245.9 2136.2Q1257.4 2134 1269.6 2130.3M1269.6 2130.3L1264.3 2134.6M1269.6 2130.3L1262.8 2129.7M1273.2 2137Q1285.2 2133.6 1297.1 2130.2M1297.1 2130.2L1291.6 2134.5M1297.1 2130.2L1290.2 2129.5M1301 2137.2Q1313.5 2134.2 1323.2 2128.8M1323.2 2128.8L1319 2134M1323.2 2128.8L1316.6 2129.6M1330.1 2138.7Q1340.6 2133.7 1350.3 2128.4M1350.3 2128.4L1346.3 2133.3M1350.3 2128.4L1344 2129.1M1360.5 2140.8Q1369.6 2134.2 1372.3 2125.1M1372.3 2125.1L1372.8 2130.6M1372.3 2125.1L1368.9 2129.4M1394.6 2144Q1395.5 2133.6 1396.8 2123.3M1396.8 2123.3L1398.3 2129M1396.8 2123.3L1394 2128.4M1422.2 2143.9Q1422.9 2133.5 1424.9 2123.5M1424.9 2123.5L1426 2129.1M1424.9 2123.5L1421.7 2128.3M1449.1 2143.1Q1450.7 2133.6 1452.6 2124.1M1452.6 2124.1L1453.6 2129.4M1452.6 2124.1L1449.6 2128.6M923.3 2132.3Q927.1 2155.9 928.1 2173.2M928.1 2173.2L924.9 2166.4M928.1 2173.2L930.5 2166.1M949.8 2129Q954.9 2155.9 956.5 2176.5M956.5 2176.5L953.1 2169.7M956.5 2176.5L958.7 2169.3M975.7 2128.8Q980.4 2155.1 990 2178.2M990 2178.2L984.7 2172.9M990 2178.2L989.9 2170.7M1000.6 2128.7Q1006.7 2156 1022.8 2176.6M1022.8 2176.6L1016.3 2172.9M1022.8 2176.6L1020.7 2169.4M1024.3 2131.7Q1034.8 2155.9 1053.2 2173.6M1053.2 2173.6L1046.3 2170.8M1053.2 2173.6L1050.2 2166.8M1049.2 2136.2Q1063.8 2155.6 1080.9 2169.9M1080.9 2169.9L1073.7 2167.6M1080.9 2169.9L1077.3 2163.2M1080.9 2145Q1090.3 2152.9 1106.5 2166.5M1106.5 2166.5L1099.4 2164.2M1106.5 2166.5L1103 2159.9M1110.3 2148.4Q1120.9 2156.2 1126.3 2156.4M1126.3 2156.4L1121.6 2158.1M1126.3 2156.4L1121.7 2154.3M1139.1 2153Q1147.4 2155.4 1154.8 2153.4M1154.8 2153.4L1151.3 2156M1154.8 2153.4L1150.4 2152.9M1167.3 2156.2Q1174.7 2154.3 1182.4 2152.3M1182.4 2152.3L1178.9 2154.9M1182.4 2152.3L1178.1 2151.8M1194.9 2156.5Q1202.3 2154.2 1210.1 2152.3M1210.1 2152.3L1206.5 2154.9M1210.1 2152.3L1205.7 2151.7M1221.2 2157.2Q1228.6 2154.8 1241.5 2150.4M1241.5 2150.4L1237 2154.3M1241.5 2150.4L1235.5 2150.1M1245.6 2159.5Q1257.6 2153.8 1269.6 2150M1269.6 2150L1264 2154.6M1269.6 2150L1262.4 2149.5M1273.2 2159.7Q1285.3 2153.6 1297.1 2150.2M1297.1 2150.2L1291.4 2154.6M1297.1 2150.2L1289.9 2149.5M1301 2160.1Q1313.3 2154 1323.6 2149M1323.6 2149L1318.9 2154.3M1323.6 2149L1316.5 2149.5M1329.1 2160.7Q1341.3 2154 1349.9 2148.4M1349.9 2148.4L1346.1 2153.9M1349.9 2148.4L1343.3 2149.7M1364.7 2164.6Q1367.6 2153.8 1372.1 2145M1372.1 2145L1371.6 2150.9M1372.1 2145L1367.7 2148.8M1394.7 2166.1Q1395.5 2153.5 1396.6 2144M1396.6 2144L1398.3 2150M1396.6 2144L1393.6 2149.5M1422.6 2165Q1422.9 2154.1 1424.3 2144.1M1424.3 2144.1L1425.7 2149.8M1424.3 2144.1L1421.4 2149.2M1450.7 2164.6Q1450.1 2153.9 1452.4 2144.8M1452.4 2144.8L1453.1 2150.3M1452.4 2144.8L1449.1 2149.3M924.5 2155.4Q926.9 2176 927.3 2192.6M927.3 2192.6L924.3 2185.8M927.3 2192.6L929.9 2185.6M950.8 2152.6Q954.4 2174.4 956.5 2198.6M956.5 2198.6L953.1 2191.9M956.5 2198.6L958.7 2191.4M975.9 2150.4Q980.6 2175.6 989.4 2198.4M989.4 2198.4L984.3 2192.9M989.4 2198.4L989.5 2190.9M999.8 2150.5Q1008.1 2176.1 1020.9 2197.4M1020.9 2197.4L1014.9 2192.9M1020.9 2197.4L1019.7 2190M1023.7 2152.6Q1035.9 2176.5 1051.7 2194.4M1051.7 2194.4L1045 2191M1051.7 2194.4L1049.2 2187.3M1048 2155.6Q1064.6 2177.6 1080.4 2189.2M1080.4 2189.2L1073.2 2187.3M1080.4 2189.2L1076.5 2182.8M1075.7 2158Q1092.4 2177.2 1107.5 2187.7M1107.5 2187.7L1100.2 2186M1107.5 2187.7L1103.4 2181.4M1105.6 2163.4Q1119.3 2175.4 1134.3 2185.8M1134.3 2185.8L1126.9 2184.1M1134.3 2185.8L1130.1 2179.5M1136.1 2169.6Q1149.5 2178.5 1153.6 2173.4M1153.6 2173.4L1152.2 2178.2M1153.6 2173.4L1149.2 2175.9M1167.9 2178Q1174.8 2175.2 1181.8 2171.7M1181.8 2171.7L1178.9 2174.9M1181.8 2171.7L1177.5 2172M1194.3 2177.9Q1201.9 2174.9 1211.5 2172.2M1211.5 2172.2L1207.5 2175.3M1211.5 2172.2L1206.4 2171.7M1219.7 2178.3Q1229.3 2176.1 1241.7 2169.6M1241.7 2169.6L1237.4 2174.6M1241.7 2169.6L1235.1 2170.2M1245.8 2180.7Q1257.5 2175.2 1269.6 2169M1269.6 2169L1264.7 2174.6M1269.6 2169L1262.2 2169.7M1273.2 2181Q1285.2 2175.1 1297.1 2168.8M1297.1 2168.8L1292.3 2174.6M1297.1 2168.8L1289.6 2169.6M1301 2181.6Q1312.7 2175.1 1324.7 2168.2M1324.7 2168.2L1320.1 2174.1M1324.7 2168.2L1317.3 2169.2M1328.7 2181.9Q1342.3 2175.5 1348.4 2167M1348.4 2167L1346.7 2173.7M1348.4 2167L1342.5 2170.7M1365.9 2186.1Q1368 2175 1370.1 2164M1370.1 2164L1371.3 2170.2M1370.1 2164L1366.7 2169.3M1395 2187Q1395.5 2174.9 1396.4 2163.3M1396.4 2163.3L1398.4 2169.6M1396.4 2163.3L1393.5 2169.2M1423.3 2186.2Q1422.9 2174.7 1423.8 2164.4M1423.8 2164.4L1425.6 2170.2M1423.8 2164.4L1421 2169.8M1450.9 2185.3Q1450.7 2175 1450.9 2164.7M1450.9 2164.7L1453 2170.1M1450.9 2164.7L1448.6 2170M924.7 2176.8Q928.6 2200.2 923.6 2205.6M923.6 2205.6L926.3 2198.6M923.6 2205.6L930.4 2202.4M951.8 2175Q956.3 2200.7 951.6 2206.3M951.6 2206.3L953.9 2199.2M951.6 2206.3L958.2 2202.8M975.8 2172Q983.3 2198.9 984.1 2213M984.1 2213L980.9 2206.2M984.1 2213L986.5 2205.9M1000 2171.9Q1009.3 2196.9 1018.2 2217.1M1018.2 2217.1L1012.8 2211.9M1018.2 2217.1L1018 2209.6M1023.1 2173.4Q1036.5 2198.3 1051.1 2212.9M1051.1 2212.9L1044.2 2210M1051.1 2212.9L1048.2 2206M1048.8 2175.7Q1065.2 2200.2 1078.5 2206.6M1078.5 2206.6L1071 2206.2M1078.5 2206.6L1073.5 2201.1M1075.3 2179.1Q1093.3 2198.6 1106.1 2206.4M1106.1 2206.4L1098.7 2205.2M1106.1 2206.4L1101.6 2200.4M1103.1 2181.3Q1120.9 2198.1 1133.4 2205.2M1133.4 2205.2L1125.9 2204.2M1133.4 2205.2L1128.7 2199.3M1132.3 2184.5Q1149.2 2199.2 1158.1 2200M1158.1 2200L1150.9 2202.1M1158.1 2200L1151.4 2196.5M1165.4 2194.7Q1174.7 2197.4 1184.4 2193.2M1184.4 2193.2L1180.7 2197M1184.4 2193.2L1179.1 2193.3M1191.4 2198.2Q1202.4 2195.8 1213.3 2193M1213.3 2193L1208.2 2196.7M1213.3 2193L1207 2192.2M1219.1 2198.6Q1229.6 2196.9 1241.7 2190.4M1241.7 2190.4L1237.4 2195.6M1241.7 2190.4L1235 2191.1M1245.8 2201.4Q1257.5 2195.8 1269.6 2189.7M1269.6 2189.7L1264.7 2195.3M1269.6 2189.7L1262.2 2190.3M1273.2 2201.7Q1285.4 2195.9 1296.8 2189.2M1296.8 2189.2L1292.2 2195.2M1296.8 2189.2L1289.4 2190.3M1302 2202.4Q1312.4 2195.8 1324.4 2188.9M1324.4 2188.9L1319.9 2194.6M1324.4 2188.9L1317.1 2189.9M1330.2 2202.7Q1341.8 2196.5 1347.8 2187.2M1347.8 2187.2L1346.6 2193.6M1347.8 2187.2L1342.4 2191M1367.2 2207.1Q1367.6 2195.7 1369.6 2184.3M1369.6 2184.3L1371 2190.5M1369.6 2184.3L1366.2 2189.7M1396.4 2207.7Q1394.8 2195.7 1396.3 2183.7M1396.3 2183.7L1398.1 2190.2M1396.3 2183.7L1393.1 2189.6M1424 2207.1Q1422.8 2195.6 1423.1 2184.5M1423.1 2184.5L1425.3 2190.5M1423.1 2184.5L1420.6 2190.3M1452.4 2206.8Q1450 2195.3 1450.7 2185.4M1450.7 2185.4L1452.6 2191.1M1450.7 2185.4L1448.1 2190.8M928.4 2204.6Q927 2217.8 923.2 2225.5M923.2 2225.5L923.7 2219.5M923.2 2225.5L927.7 2221.5M952.9 2196.7Q955.8 2221 951.5 2226.8M951.5 2226.8L953.4 2219.5M951.5 2226.8L957.9 2222.9M976.6 2194.5Q984.4 2220.7 981.1 2229.7M981.1 2229.7L980.8 2222.2M981.1 2229.7L986.1 2224.2M1000.6 2192.7Q1010.2 2218.8 1015.8 2235.2M1015.8 2235.2L1010.9 2229.5M1015.8 2235.2L1016.2 2227.7M1024.5 2194.1Q1036 2219.6 1050.8 2232.3M1050.8 2232.3L1043.7 2229.9M1050.8 2232.3L1047.4 2225.7M1049.8 2197.4Q1064.7 2220.5 1078.4 2227.1M1078.4 2227.1L1070.9 2226.6M1078.4 2227.1L1073.3 2221.6M1077.5 2204.3Q1092.4 2217.3 1105.8 2226.8M1105.8 2226.8L1098.5 2225M1105.8 2226.8L1101.8 2220.5M1105.4 2205.5Q1120.5 2218.1 1131.9 2223.8M1131.9 2223.8L1124.5 2223.2M1131.9 2223.8L1127 2218.2M1133.8 2207.4Q1147.9 2217.6 1159.1 2222.9M1159.1 2222.9L1151.6 2222.5M1159.1 2222.9L1154.1 2217.4M1163.2 2210.9Q1175.2 2219.5 1185.7 2215.7M1185.7 2215.7L1180.9 2220M1185.7 2215.7L1179.2 2215.4M1191.5 2217.9Q1202.3 2216.9 1213.5 2213.8M1213.5 2213.8L1208.5 2217.6M1213.5 2213.8L1207.2 2213.1M1218.9 2219.3Q1229.7 2217.7 1241.7 2210.9M1241.7 2210.9L1237.5 2216.2M1241.7 2210.9L1235 2211.8M1245.8 2222.1Q1257.5 2216.6 1269.6 2210.4M1269.6 2210.4L1264.7 2216M1269.6 2210.4L1262.2 2211M1273.2 2222.4Q1285.7 2216.7 1296.2 2209.8M1296.2 2209.8L1292 2215.8M1296.2 2209.8L1289 2211.2M1302.2 2223.2Q1312.9 2216.4 1323.1 2209.5M1323.1 2209.5L1319.2 2215.3M1323.1 2209.5L1316.3 2211M1330.4 2223.5Q1342 2217.2 1347.2 2207.8M1347.2 2207.8L1346.4 2214.2M1347.2 2207.8L1342.2 2211.8M1367.5 2227.8Q1367.9 2216.4 1368.6 2204.9M1368.6 2204.9L1370.7 2211M1368.6 2204.9L1365.9 2210.7M1396.3 2228.3Q1395.6 2216.4 1394.9 2204.4M1394.9 2204.4L1397.8 2210.5M1394.9 2204.4L1392.7 2210.8M1424.2 2227.8Q1423 2216.4 1422.5 2205M1422.5 2205L1425.2 2210.8M1422.5 2205L1420.4 2211.1M1452.4 2227.5Q1450.8 2216.4 1449.2 2205.3M1449.2 2205.3L1452.4 2210.7M1449.2 2205.3L1447.7 2211.4" fill="none" stroke="#3d5a66" stroke-width="0.6"/>
<path d="M1061.6 1854.3L1477.4 1854.3M1189.2 1854.3L1189.2 1918.4L1195.4 1923.6L1198.8 1933.9L1193.7 1944.2L1187.9 1956.2L1189.2 1963L1189.2 2008.7M1210.8 1854.3L1210.8 1880.7L1217.7 1885.8L1220.1 1892.7L1233.1 1901.3L1246.9 1908.8L1248.6 1918.4L1244.1 1930.4L1253.7 1927L1264 1933.9L1269.2 1944.2L1281.2 1947.6L1288 1942.5L1308.6 1952.7L1320.3 1949.3M1037.6 1915L1051.3 1916.7L1061.6 1920.2L1071.9 1930.4L1089.1 1928.7L1102.8 1927L1130.2 1923.6L1164.5 1920.8L1192 1920.8M1029 2008.7L1320.3 2008.7M1123.4 2008.7L1123.4 2072.8L1243.4 2163.7M1254.4 2008.7L1254.4 2138L1248.6 2141.4L1241.7 2139.7L1240 2151.7L1243.4 2163.7L1248.6 2179.2L1253.7 2186L1245.2 2196.3L1243.4 2206.6L1246.2 2213.5L1238.3 2218.6M1254.4 2119.5L1477.4 2119.5M1320.3 1942.8L1477.4 1942.8M1320.3 1942.8L1320.3 2031M1320.3 2031L1477.4 2031M1364.5 2031L1364.5 2231.3M1188.6 2217.9L1240 2213.5M1238.3 2218.6L1272.6 2231.3" fill="none" stroke="#111" stroke-width="0.8"/>
<circle cx="1122.7" cy="2073.5" r="2.6" fill="none" stroke="#111" stroke-width="1"/>
<path d="M923.7 1746.4L925.8 1746.1L927.2 1746.2L928 1746.2L929.6 1745.8L931.2 1745L932.6 1747.2L933 1747.4L934.6 1749.6L935.4 1749.9L936.9 1750.4L937.6 1751.9L937.8 1752.4L939.4 1754.2L940.5 1754.5L942.5 1755L943.6 1755.3L944.2 1756.2L946.5 1757.3L944.6 1758.2L943.5 1758.4L942.7 1759.7L940.6 1760.1L939.7 1761.2L938.7 1761L937.8 1761.4L935.6 1763L936.1 1763.7L936.8 1765.1L938.7 1766L939.8 1766.7L940.4 1768.2L941.1 1769.1L943 1770.3L944 1770.3L944.9 1770.8L947.3 1771.6L949.1 1771L949.9 1772L950.8 1772L952.4 1771.7L953.6 1772.9L955.2 1772.4L957 1773.6L957.9 1773.2L960 1774.1L961.8 1774.3L962.4 1773.9L963.9 1774.9L966.2 1774L966.5 1774.4L968 1775L967.1 1775.1L964.7 1775.8L963.9 1776.5L963.3 1777.1L961.2 1777.5L960 1777.1L958.9 1778.7L957.4 1779.1L955.3 1779L953.4 1779.8L952.4 1780.3L951.6 1781.7L950.8 1782.8L949.3 1784.3L948.6 1785.7L947.6 1787.6L947.7 1787.6L946.2 1788.9L945.5 1789.7L945.4 1792.1L945.3 1792.6L945.3 1793.4L946.2 1794.9L947.5 1796.1L946.8 1798.6L948.6 1798.2L949.7 1798.9L950.8 1801.2L952.4 1801.7L952.6 1802L953.5 1803.5L955.6 1803.7L956.8 1803.1L959 1804.5L960.6 1804.4L962.1 1804.5L962.7 1804.4L964.4 1804L965.3 1804.6L967.1 1805.6L969.6 1805.5L971.1 1806.6L972.5 1805.9L972.9 1806L974.3 1806.3L976.4 1807.6L975.4 1807.7L973.8 1809L971.7 1809.5L971.6 1810.4L970.1 1810.7L967.9 1811.9L966.8 1812.7L969.2 1812.3L969.7 1813.3L971.6 1812.3L972.1 1812.5L974.7 1813.6L974.9 1813.8L977.6 1813.8L978 1813.8L979.1 1813.2L981.8 1814.3L982.5 1814.9L983.7 1815L985.7 1814.2L986.3 1814.5L987.7 1814.7L989.2 1814.2L990.4 1814.7L992.2 1813.7L993.9 1814.1L995.1 1813.9L996.7 1813.1L998.2 1812L999.5 1812L1000.3 1812.7L999.9 1813.5L1000 1814.9L998.8 1816.2L998.5 1817.9L997.1 1818.9L996.7 1819.7L998.8 1820.7L999.8 1821.8L1001.6 1821.9L1002.5 1822.7L1003.6 1823.6L1004.8 1824L1005.9 1823.6L1007.3 1822.5L1008.7 1820.5L1009.2 1820.5L1010.7 1818.2L1010.6 1817.6L1011.6 1816.3L1012.6 1815.9L1014.7 1815.2L1014.8 1813.9L1015.4 1814.5L1015.6 1817.2L1014.4 1818.7L1014.5 1819.5L1015.2 1821.5L1013.7 1822.4L1014.1 1823.7L1015.1 1823.4L1017.3 1822.6L1018.5 1822.9L1019.2 1822.4L1021.6 1822.4L1022.2 1822.8L1024.8 1822.4L1025.2 1821L1024.7 1823.3L1024.7 1823.8L1024.6 1826.5L1024.8 1827L1023.4 1829.5L1023.7 1830.6L1022.6 1831.1L1024.9 1831.6L1025.4 1832.2L1027.7 1831.8L1028.4 1831.8L1029.8 1831.6L1031.8 1830.7L1033.4 1831.4L1034.4 1830.1L1036.3 1830.1L1035.2 1831.5L1034.7 1833.1L1034.7 1834.8L1034.9 1836.3L1034.1 1837.6L1033.4 1838.9L1034.7 1838.9L1036.8 1839.7L1037.4 1839.6L1039.9 1839.1L1041.1 1839.5L1042 1840.1L1043.3 1839.7L1045.1 1840.4L1046 1840.1L1047.9 1839.9L1048.9 1839.4L1049.7 1839.1L1051.2 1840L1052.8 1839.1L1052.4 1841.7L1053.4 1842.9L1052.3 1843.7L1052.2 1845.6L1051.8 1847L1051.7 1849.3L1052.6 1850.2L1052.8 1851.3L1054.2 1850.8L1055.1 1851.4L1057.1 1852L1058 1852.5L1059 1852.7L1060.4 1853.4L1061.7 1853.3L1062.8 1854.9L1064 1856.7L1065.1 1858.2L1065.8 1859.8L1066.1 1860.3L1067.9 1861.3L1068.3 1863.4L1068.2 1865L1070.3 1865.9L1071 1867.5L1070.9 1868.4L1071.9 1870.2L1072.8 1871.5L1072.9 1872.9L1073.5 1873.9L1073.3 1874.2L1073.5 1876L1072.9 1878L1073.1 1879L1072.6 1880.4L1071.8 1880.7L1071.8 1883.1L1070.7 1884.1L1070.4 1884.7L1071.2 1886.3L1070.8 1887.6L1072.5 1888.8L1073.2 1891.3L1071.7 1891.2L1070.6 1892.6L1069.9 1893.3L1068.7 1893.4L1066.8 1894.5L1066.6 1895.5L1064.8 1895L1062.6 1895.4L1062 1896.1L1060.4 1895.5L1058.7 1895.7L1057.1 1895.2L1057.1 1894L1056.5 1893.8L1054.4 1891.8L1055 1891.3L1055.7 1889.3L1056.7 1889.5L1058 1888.1L1059.2 1887.1L1061.7 1885.6L1062.8 1885.3L1062.4 1884.3L1060.9 1883.3L1060.8 1880.7L1059.5 1880.1L1059.7 1878.5L1060.2 1877.5L1061.6 1877.2L1062.1 1876L1064.4 1874.1L1065.6 1873.9L1064.8 1872L1063.2 1870.8L1063.4 1869.8L1061.6 1868.3L1060.7 1866.4L1059.1 1867L1058.1 1866.7L1056.8 1865.1L1055.8 1864.5L1054.5 1864.4M923.8 1756.9L925.6 1757.6L926.2 1758.8L927.7 1759.1L928.3 1759.2L929.3 1760.9L930.3 1762.2L930.5 1762.2L932.6 1763.3L931.3 1765.2L930.6 1767.4L931.3 1768.1L930.3 1769.7L929.7 1771.4L928.6 1772.5L930 1774.6L931.8 1774.2L933.8 1776.4L934.3 1775.7L935.2 1776.5L936.8 1777.3L937.9 1778.4L939.8 1780.3L939.6 1780.8L938.6 1782.3L938.1 1783.2L937.2 1784.4L938.3 1785.5L937 1787.7L938.5 1788.1L938.4 1789.3L939.5 1790.8L941.3 1792.7L942 1792.4L941.5 1794.8L943.8 1795.5L944.2 1795.9L944.7 1798.6L946.2 1799.6L947.3 1799.7L946.7 1800.7L948.2 1802.8L949.7 1804L950 1805.2L950.5 1806L950.6 1807.5L952.2 1808.5L954.3 1808.1L954.7 1808.8L956.9 1810.3L957.3 1809.9L959.3 1811.5L960.3 1811.6L962 1812L962.8 1813.5L965.2 1814.2L966.4 1814.4L966.6 1814.4L969.2 1815.6L969.3 1814.9L971 1816.4L972.1 1816.2L973.9 1817.7L974.4 1816.7L975.9 1817.8L977.8 1817.8L979.3 1819.2L980.2 1818.7L982.4 1819.2L983.6 1819.5L984 1820.8L985.5 1821.5L987.2 1820.6L988.2 1821.4L990.3 1822.7L990.9 1822.2L992.4 1823.6L993.7 1822.4L994.9 1823.4L997.8 1824.6L998.6 1825.7L1000.1 1825.4L1000 1827.3L1002.1 1826.7L1003.2 1828.1L1003.8 1828.9L1004.6 1829.2L1006 1830.7L1008.3 1831.2L1009.4 1832.2L1009.4 1834.2L1011.2 1834.4L1010.9 1835.4L1012.5 1837.1L1013.3 1837.1L1015.5 1837.4L1015.7 1839.7L1017.4 1839.2L1017.2 1840.2L1020 1841L1021 1842.6L1021.6 1842L1024 1843.1L1024.1 1843.8L1025.5 1843.5L1026.3 1844.8L1029.1 1845.1L1030.5 1844.9L1030.6 1846.5L1033.1 1848.1L1033.4 1847.7L1034.8 1848.9L1037 1849.2L1038.1 1851L1039.4 1851.9L1040.2 1852L1040.9 1852.9L1042.8 1853.3L1043 1855.3L1044.2 1855L1045 1856.7L1046.7 1858.3L1048.8 1859.2L1048.9 1858.5L1049.9 1859.9L1052.3 1860.4L1052.8 1861L1054.7 1862.1L1056.3 1863.1L1057.4 1862.5L1059 1863.4L1059.9 1864.2L1061.5 1863.5L1061.9 1863.1L1063.1 1863.8L1065.1 1862.4L1066.1 1863.1L1067.6 1861.4L1068.4 1863.6L1069.1 1864.1L1068.5 1866.8L1069.5 1868.4L1068.4 1868.8L1068.9 1870.1L1070.7 1872.3L1070.9 1873.4L1070.2 1874.8L1068.5 1876.7L1069 1876.8L1067.7 1879L1066.4 1879.9L1065.7 1880.9L1065.2 1882.9L1065 1884M924.2 1768.6L924.1 1770L926.2 1770.9L926.5 1772L928.2 1773.7L927.9 1774.1L929.4 1776L930.8 1776.3L930.5 1778.6L931.5 1779.2L931.9 1781.7L932.5 1782.3L933.2 1783.4L934.6 1785.7L934.3 1785.6L935.5 1786.9L934.9 1789.4L936.9 1788.6L938.2 1788.1L939.6 1786.2L940.1 1786.2L942.5 1786.2L942.9 1785L944.3 1785.9L944.8 1786.7L946.4 1788.9L946.6 1789.3L948.8 1791.2L948.6 1790.9L950.9 1793.5L951.4 1792.8L953.4 1794.2L954.7 1795.5L955.9 1795.6L957.1 1796.5L957.8 1798.5L959.8 1798.1L960.1 1799.2L961.9 1799.9L962.5 1800.4L964.8 1802.3L965 1802.5L967.5 1802.3L968.9 1803.2L969.8 1804.6L971.2 1804.9L972.1 1806.1L973.5 1807L974.8 1807.3L975.4 1808.4L977.5 1808.4L979.3 1810.1L980 1809.7L981.4 1810.3L982.1 1811.5L983.3 1812.1L985.4 1812.1L986.9 1812.8L988.3 1814.7L989.3 1814.1L990.6 1815.3L992.6 1815.5L993.8 1817.5L994.9 1817.7L995.3 1818.4L997.1 1818.9L999.1 1818L1000.2 1819.8L1000.3 1819.3L1002.7 1819.5L1004 1820.6L1004.9 1821.3L1005.4 1823.5L1006 1823.3L1007.5 1824.3L1007.8 1825L1009 1827.2L1011 1828.1L1011.1 1828.8L1012.1 1829.3L1014.1 1829.8L1015.7 1831L1016.4 1832.5L1016.7 1833.5L1018.8 1833.4L1020.2 1834L1021.7 1835.4L1021.8 1836.6L1023.1 1836.5L1024.9 1836.9L1026.4 1837.9L1027.3 1839.8L1028.6 1839.9L1029.4 1839.4L1030.2 1840.3L1032.5 1841.5L1033.7 1842.9L1034.3 1842.7L1036.5 1843.2L1036.7 1844.6L1038.2 1845.5L1039.7 1846.7L1041.5 1847.5M924.6 1747.6L925.7 1750.1L923.3 1753.8L924.9 1749.4L924.8 1753.3L930.8 1754.9L928.6 1752.2L926.9 1755.4L931.4 1754.2L932.8 1755.5L935.5 1758.1L931.9 1759.9L931.5 1758.1L934.7 1756.9L933.3 1761.1L933.9 1760.4L940.3 1758.7L935.9 1762.8L938.3 1764L940.7 1762L937.9 1763.9L936.6 1768.7L941.8 1768.6L937.1 1770.5L942.3 1769.1L942.7 1770L939.8 1768.8L940.2 1769.4L941.3 1775L944.1 1776.7L944.6 1774L944 1776.1L945.9 1777.7L942.9 1779.5L947.9 1777.8L947.9 1777.5L944.4 1780L948 1785.6L948.6 1782.6L950 1783.7L946.3 1788.5L949.4 1788.2L950.1 1791.1L949.4 1791.2L951.4 1792.4L950.2 1792.6L951.6 1790.9L949.8 1794L949.4 1796.9L950.4 1792.2L951 1798.8L953.5 1794.4L952.3 1794.5L957.6 1799.1L958.5 1800.5L955.3 1800.3L958.1 1802.5L962 1803.7L958 1804.3L964.4 1805.5L960 1801.4L960.9 1801L966.6 1806.8L966.1 1807.7L967 1804.9L964.5 1804.4L969.8 1805.5L967.9 1807.3L967 1806.7L969.8 1810.1L971.4 1807.9L976.3 1809.5L976.6 1810.7L972.3 1809.7L975.9 1812.5L976.4 1812.5L978.6 1809.7L981.8 1809.3L982.5 1810.2L978.2 1810.8L984.2 1816.3L980.3 1813.5L984.5 1816L983.6 1814.4L985.6 1817L986.2 1818.1L987.4 1813.8L991.2 1816L988.4 1817.3L989.3 1818.6L994.4 1819L995 1816.6L994.6 1817.2L998.9 1815.6L999.9 1815.6L996.6 1817.5L1002.2 1819.5L999.8 1822.3L1000 1820L1003 1822.3L1005.5 1821.9L1003.9 1820.2L1003.7 1824.1L1008.1 1824L1005.9 1822.5L1010.9 1824L1007.7 1823.7L1013.7 1822.8L1010.2 1823.7L1014.6 1827.8L1012.1 1823.8L1013.7 1825.5L1016.5 1824.9L1016.3 1825.6L1021.6 1829.6L1016.9 1831.7L1018 1828.4L1024.7 1831.7L1024 1830L1021.5 1831.9L1021.8 1829.7L1024.6 1829.2L1025.7 1834.8L1028.5 1833.5L1029.1 1833.8L1026.9 1835.4L1029.5 1836.9L1033.8 1835.4L1032.6 1838.1L1032.5 1835.4L1035.4 1840.2L1036.7 1839.6L1038.2 1840.1L1037.8 1839.3L1036.6 1841L1036.1 1840.3L1041.6 1842.8L1041.5 1840.4L1041.1 1842.3L1043.4 1842.6L1044.7 1846.6L1042.4 1845.4L1047.3 1844.3L1046.4 1848.7L1044.4 1846.5L1046.1 1848.7L1052.2 1847.6L1047.4 1848.8L1051.1 1850.6L1051.6 1850.9L1054.4 1851L1052.4 1854.6L1051.9 1853.7L1053.8 1855.1L1052.8 1857.3L1055.1 1852.1L1055.3 1855.2L1054.3 1856.2L1057.7 1858.8L1058 1856.9L1057.9 1860.8L1063.3 1860.4L1059.2 1863.1L1061 1860.3L1059.9 1864.9L1065 1865L1063.5 1865.5L1062.5 1869.1L1064 1868L1067.7 1870.1L1066.1 1867.7L1067.2 1867.6L1069.7 1870L1070 1870.6L1067 1871.7L1067.4 1872.5L1064.8 1877.2L1066.7 1875.2L1067 1878L1067.9 1880.2L1069.6 1879.6L1071.4 1884L1065.9 1885L1071.5 1885.9L1066 1887.2L1068.6 1882.9L1064 1890L1067.6 1886.5L1063.4 1886.8L1063.7 1891.9L1063.8 1888.9L1066.9 1894L1063.7 1893.2M922.6 1751.2L925.4 1751.5L926.7 1752.8L928.2 1753.4L926.8 1753.6L929.1 1754.6L929.8 1756L931.2 1754.2L930.9 1754.5L933 1755L933.9 1756.1L935 1758.4L936.2 1760.7L935 1761.4L937.4 1761.4L938.6 1763.7L937.9 1763.1L940.8 1762.9L939.9 1766.3L937.9 1767.4L941 1769.9L940 1771.2L941.2 1770.3L943.3 1769.6L943 1773.2L941.9 1775.3L942.5 1774.9L943.6 1777.3L942.8 1777L944.1 1778.7L946.2 1778.7L946.8 1780.3L946 1780.9L946.6 1784.9L947.7 1785.3L947 1784.4L947.4 1786.7L949.3 1788.6L947.5 1789.5L951.5 1789.9L948.6 1790L949 1790.6L953.3 1793.5L952.8 1795.3L954.4 1795.7L954.1 1796.6L955.4 1797.2L956.3 1796.4L957.2 1798.2L958.6 1797.5L957.1 1798.1L960.5 1802.5L961 1801L962.6 1803.5L962.5 1802.1L962.4 1803.6L963.4 1804.4L965.7 1807.2L964.3 1806.5L965.2 1805.4L969.5 1807.8L971.1 1807.7L968.5 1807.9L972 1810.7L974.8 1809.2L973.6 1808.1L975.7 1809.1L974.8 1808.7L975.4 1811.9L977 1813.5L978 1813.6L979.4 1810.6L982.9 1811.9L984.1 1812.2L982.5 1815.1L986.4 1815.8L987.6 1813.1L988.3 1816.1L988.8 1817.4L989.1 1818L992.1 1814.5L990.4 1817.5L994.8 1815.6L993.9 1818.6L994.4 1819.6L996.9 1816.7L997.5 1819.2L999 1820.1L998.9 1821L1000.9 1820.7L1003.2 1820.2L1003.3 1822.1L1006.7 1822.5L1006.3 1821.1L1005.3 1824.4L1009.1 1824.4L1008.7 1824L1012.5 1825.5L1012 1823.9L1012.5 1826.9L1013.4 1826.6L1015.4 1828L1017.4 1826.1L1015.2 1826.5L1018 1828.4L1020.8 1830.2L1018.7 1830.6L1022.9 1831.4L1022.9 1829.6L1025.1 1832.4L1025.4 1833.5L1025.1 1830.8L1027 1834.3L1026.5 1834.8L1030.6 1833.3L1030.3 1835.8L1030.7 1834.5L1030.9 1837.4L1034.1 1836.9L1032.2 1838.9L1036.1 1837.2L1036.3 1840.6L1038.6 1839.7L1037.9 1840.7L1037.8 1839.7L1038.8 1842.4L1040.5 1842.5L1041.7 1843L1041.7 1841.7L1046.2 1843.7L1043.6 1845.4L1047.4 1844.1L1047.6 1845.5L1048.4 1844.9L1047.4 1849.5L1051.6 1848.3L1051.2 1848.3L1052.9 1849.9L1054.3 1852.2L1054.6 1853.9L1053.1 1851L1053.7 1852.5L1054 1852.9L1056.8 1857.1L1057.2 1858.4L1059.8 1855.6L1059.3 1857.9L1058.2 1861.1L1059.5 1860.6L1061.7 1863.2L1062.6 1862L1062.4 1862.1L1065.2 1866.6L1062.9 1863.7L1063.7 1866.1L1067.1 1869.4L1067.5 1867L1068 1870.8L1068.2 1873L1065.9 1870.8L1068.9 1875.4L1068.7 1874.1L1068.5 1877.3L1066.6 1876.8L1067.4 1877.3L1068.4 1878.7L1067.5 1879.9L1069.5 1880.7L1069.8 1882.8L1066.3 1886.9L1066.4 1888.1L1068.4 1889.1L1064.8 1888.4L1064 1891.5L1066.4 1891.4L1064.1 1891.4L1063.7 1893.2M925.8 1742.9L925.2 1742.1L923.5 1742.7L926.7 1746.5L924.1 1749.3L925.3 1747.8L925.2 1748.1L929.5 1749.5L926.3 1751.4L927.7 1754.7L927.1 1756.1L926.5 1756.8L929.6 1754.2L928.2 1755.8L926.7 1756.5L927 1762L930.2 1762.8L925 1760.5L929.1 1760.3L927.8 1762.8L929.8 1762.3L929.4 1765.1L926.4 1764.2L930.7 1768.1L927.8 1768.7L932.3 1768.5L931.1 1769.1L929.5 1773.5L933 1771.4L929.1 1771.8L931.5 1775.1L929.3 1774.5L930.7 1778.3L931.4 1778.6L927.6 1776.8L930.1 1779.7L929.6 1778.8L927.9 1782.2M937.9 1815.4L939.4 1815.4L940.4 1814.2L942.2 1814.2L943.5 1813.6L944.3 1813.6L945.9 1812.6L947.2 1812.5L948.3 1812L950.1 1811.6L951 1812.5L952.7 1813.4L953.5 1814.1L954.7 1814.9L955.7 1815.7L957.6 1816.2L958.4 1817L959.6 1817.4L961.2 1818.3L961.7 1819L962.9 1820.3L964.2 1820L966.1 1820.4L966.9 1821L968.8 1821.2L970.3 1821.1L971.8 1821.9L972.6 1821.7L974.3 1822.3L975.6 1822.3L977.1 1822.6L978.6 1823.4L979.6 1823.5L981.5 1823.4L983 1824.3L984 1824.1L985.8 1824.5L986.8 1825L988.5 1824.8L989.5 1825L991.1 1825.8L992.8 1826L994.2 1826.1L994.9 1826.1L997.1 1826.7L997.9 1826.5L999.6 1826.7L1000.9 1826.7L1002.3 1827.2L1003 1828L1004.8 1829.5L1005.9 1830.4L1006.8 1831.6L1008 1831.9L1008.8 1833.1L1009.9 1834.1L1010.9 1835.7L1012 1836.1L1013 1837.3L1014.4 1838.2L1015 1839.3L1016 1840L1017.9 1840.8L1018.4 1841.6L1019.8 1842.1L1020.6 1842.9L1021.9 1844L1023 1844.7L1024.2 1845.5L1026.1 1846.1L1027.2 1846.7L1028.2 1847.4L1029.7 1847.8L1031.1 1848.3L1032.2 1848.7L1033.4 1849.5L1034.8 1850.2L1035.7 1850.8L1037.6 1851.6L1038.6 1852.7L1039.5 1854L1040.8 1854.7L1041.8 1855L1043.6 1856.1L1044.2 1857L1045.7 1858.1L1046.6 1858.6L1048.5 1859.9L1049 1860.4L1049.6 1862.4L1050.3 1864.3L1050.9 1865.8L1049.3 1866.4L1047.8 1866.6L1046.3 1867.2L1044.9 1867.2L1043.3 1867.5L1041.7 1868.4L1040 1868.4L1038.7 1867.6L1037.4 1867.6L1035.9 1866.8L1034.3 1866.5L1033.1 1866.1L1031.4 1865.9L1030 1865.4L1028.9 1865.4L1027.2 1864.8L1025.5 1864.3L1024.1 1864.1L1023 1863.2L1021.9 1863L1020.4 1863L1019.1 1862L1017.3 1862.2L1015.5 1861L1014.5 1861L1013.4 1860.8L1011.7 1860.5L1010.3 1859.7L1009 1859.1L1009.8 1858.4L1010.9 1857.9L1012.2 1856.6L1012.9 1855.6L1014.2 1854.9L1015.4 1854.3L1016.2 1852.3L1016.2 1850.6L1017.1 1848.7L1015.4 1849.8L1013.8 1850.1L1013.1 1851.3L1011.5 1851.4L1010.5 1852.7L1009.1 1853.7L1007.8 1853.9L1005.7 1853.8L1004.4 1854L1002.6 1853.7L1001.4 1854.1L999.6 1854.4L998.7 1852.7L997.4 1852.4L996.2 1851.4L994.8 1850.1L994.4 1849.4L993.1 1848.2L991.9 1847.5L990.1 1847.2L988.8 1847L987.4 1846.1L985.5 1845.5L984.5 1845L982.4 1844.6L981.7 1844L980.6 1842.9L979.1 1841.2L978.6 1840.4L977.5 1839.3L975.9 1838.1L974.6 1838.1L973.7 1837.1L972.2 1836.6L970.6 1836.4L969.7 1835.9L968.3 1835.1L966.9 1834L966.3 1833.8L964.7 1833L964.1 1831.7L962.8 1831.3L961.6 1830.4L960.3 1829.1L959.3 1828.5L957.5 1828.6L956.2 1828.1L954.5 1827.2L953.2 1826.8L952.2 1826.4L950.4 1825.8L949 1825.6L947.4 1824.9L946.2 1824.6L945.4 1823.1L944.3 1822.2L943.4 1821L942.7 1820.3L941.3 1819.6L940.3 1818.2L939.9 1817.1L938.6 1816.8L937.7 1815.5M946.6 1819.6L946.9 1820.9L947.8 1821.7L948.5 1822.2L949.8 1821.7L950.6 1822.1L951.9 1822.7L953.1 1823.7L953.2 1823.7L954.5 1824.2L955.7 1824.6L956.1 1825.6L956.7 1826.5L957.8 1826.8L958.9 1826.9L959.6 1827.2L960.2 1828.9L961.3 1829.2L961.9 1829.7L963.2 1830.2L964 1830.2L964.9 1831L965.5 1832.3L966.7 1832.5L968.4 1833.6L969.3 1834.3L969.2 1834.1L970 1835.3L971.8 1835.4L972.4 1836.4L973.7 1836.5L974.9 1837.2L975.5 1837.5L975.8 1839.1L977.6 1839.5L977.6 1839.1L978.7 1839.9L979.8 1840.8L980.4 1841.3L982.1 1841.7L983.3 1842.9L984 1843L984.5 1844.2L985.3 1843.9L986.9 1845.5L987.1 1845.1L988.7 1846.5L988.5 1846.6L989.5 1848L990.6 1848.7L992.2 1848.2L993.1 1849.1L994.1 1850.2L994.4 1849.6L996.3 1850.6L997.2 1851.4L997.9 1852.1L998.7 1852L998.8 1852.9L1000.3 1853.1L1001.9 1853L1002.3 1854M1018.7 1866.9L1020.7 1867.7L1022.6 1868.1L1024.9 1868.6L1026.8 1868.9L1028.6 1869.4L1030.8 1869.9L1032.8 1870.3L1035 1871L1037 1871.2L1039.3 1871.5L1041.6 1871.8L1043.6 1872.3L1045.7 1872.4L1047.9 1872.8L1050.2 1873.1L1052.2 1873.4L1054.6 1873.6L1056.8 1873.3L1058.7 1872.6L1061 1872.3M1019.8 1870.4L1022.2 1884.1L1027.3 1892.7L1034.2 1899.6L1032.5 1906.4L1039.3 1915L1035.9 1925.3L1034.2 1939L1031.4 1952.7L1027.3 1969.9L1023.9 1987L1027.3 2000.8L1031.4 2016.2L1029 2031.6L1027.3 2041.9L1034.2 2055.7L1039.3 2066L1042.8 2078L1053 2088.2L1059.9 2095.1L1068.5 2098.5L1066.8 2105.4L1073.6 2112.3L1080.5 2122.6L1082.9 2129.4L1079.5 2136.3L1089.1 2144.9L1097.6 2153.4L1104.5 2160.3L1109.6 2172.3L1121.7 2178.5L1133.7 2180.2L1145.7 2182.6L1157.7 2189.4L1169.7 2196.3L1180 2204.9L1186.8 2215.2L1192 2231.3M1070.2 2095.1L1073.6 2100.3L1071.9 2107.1L1077.1 2108.8L1080.5 2107.1M1238.3 2139.7L1243.4 2138L1246.9 2131.1L1248.6 2138L1255.4 2136.3L1260.6 2139.7L1264 2144.9M1281.2 2016.2L1286.3 2019.6L1288 2024.8L1294.9 2026.5L1293.2 2031.6L1301.8 2031L1298.3 2036.8L1289.8 2035.8L1284.6 2028.2L1281.2 2021.4L1281.2 2016.2M1119.9 2186L1126.8 2184.3L1133.7 2185.3M1153.6 2199.1L1161.1 2200.4M1133 2202.1L1135.4 2202.8M1156 2208.3L1160.4 2210.7" fill="none" stroke="#000" stroke-width="2.3" stroke-linejoin="round" stroke-linecap="round"/>
<path d="M1189.9 1878.3L1189.9 2052.2M1234.2 1878.3L1234.2 2052.2M1278.1 1878.3L1278.1 2052.2M1142.2 1953.4L1331.6 1952.7M1137.1 1889.3L1330.2 2039.5" fill="none" stroke="#000" stroke-width="4.7" stroke-linecap="round"/>
<text transform="translate(1136.6 1901.2) scale(1 1.07)" font-size="30.6" fill="#444" stroke="#444" stroke-width="0.35" text-anchor="end">C5</text>
<text transform="translate(1143.2 1964.2) scale(1 1.07)" font-size="30.6" fill="#444" stroke="#444" stroke-width="0.35" text-anchor="end">C1</text>
<text transform="translate(1190 2062.8) scale(1 1.07)" font-size="30.6" fill="#444" stroke="#444" stroke-width="0.35" text-anchor="end">C2</text>
<text transform="translate(1233.6 2062.8) scale(1 1.07)" font-size="30.6" fill="#444" stroke="#444" stroke-width="0.35" text-anchor="end">C3</text>
<text transform="translate(1278 2062.8) scale(1 1.07)" font-size="30.6" fill="#444" stroke="#444" stroke-width="0.35" text-anchor="end">C4</text>
</g>
<rect x="924.4" y="1678.3" width="552" height="551" fill="none" stroke="#333" stroke-width="1.2"/>
<path d="M946.5 1678.3V1668.8M946.5 2229.3V2238.8M990.6 1678.3V1668.8M990.6 2229.3V2238.8M1034.7 1678.3V1668.8M1034.7 2229.3V2238.8M1078.8 1678.3V1668.8M1078.8 2229.3V2238.8M1122.9 1678.3V1659.8M1122.9 2229.3V2247.8M1167.1 1678.3V1668.8M1167.1 2229.3V2238.8M1211.2 1678.3V1668.8M1211.2 2229.3V2238.8M1255.3 1678.3V1668.8M1255.3 2229.3V2238.8M1299.4 1678.3V1668.8M1299.4 2229.3V2238.8M1343.5 1678.3V1659.8M1343.5 2229.3V2247.8M1387.7 1678.3V1668.8M1387.7 2229.3V2238.8M1431.8 1678.3V1668.8M1431.8 2229.3V2238.8M1475.9 1678.3V1668.8M1475.9 2229.3V2238.8M924.4 2185.7H915.9M1476.4 2185.7H1484.9M924.4 2141.6H915.9M1476.4 2141.6H1484.9M924.4 2097.4H915.9M1476.4 2097.4H1484.9M924.4 2053.3H905.9M1476.4 2053.3H1494.9M924.4 2009.2H915.9M1476.4 2009.2H1484.9M924.4 1965.1H915.9M1476.4 1965.1H1484.9M924.4 1921H915.9M1476.4 1921H1484.9M924.4 1876.8H915.9M1476.4 1876.8H1484.9M924.4 1832.7H905.9M1476.4 1832.7H1494.9M924.4 1788.6H915.9M1476.4 1788.6H1484.9M924.4 1744.5H915.9M1476.4 1744.5H1484.9M924.4 1700.4H915.9M1476.4 1700.4H1484.9" fill="none" stroke="#333" stroke-width="1"/>
<text transform="translate(890.3 1842.8) scale(1 1.04)" font-size="28" stroke="#000" stroke-width="0.3" text-anchor="end">50N</text>
<text transform="translate(890.3 2063.4) scale(1 1.04)" font-size="28" stroke="#000" stroke-width="0.3" text-anchor="end">40N</text>
<text transform="translate(1122.6 2288) scale(1 1.05)" font-size="27.4" stroke="#000" stroke-width="0.3" text-anchor="middle">120W</text>
<text transform="translate(1343.2 2288) scale(1 1.05)" font-size="27.4" stroke="#000" stroke-width="0.3" text-anchor="middle">110W</text>
<rect x="1392.2" y="2240.4" width="84.5" height="69.3" fill="#fff" stroke="#888" stroke-width="1"/>
<text x="1434.3" y="2265.2" font-size="25.6" stroke="#000" stroke-width="0.3" text-anchor="middle">10 m/s</text>
<path d="M1411.2 2284.7H1450.5M1450.5 2284.7L1447.1 2280.4L1457.2 2284.7L1447.1 2289Z" fill="none" stroke="#555" stroke-width="0.7"/>
<text transform="translate(1201.3 1643.9) scale(1.000 1.045)" font-size="41.3" text-anchor="middle" fill="#000" font-weight="bold" >Transect locations (surface)</text>
<rect x="506.9" y="2348.2" width="25.1" height="49.2" fill="#98B6D8" stroke="#222" stroke-width="0.7"/>
<rect x="532" y="2348.2" width="25.1" height="49.2" fill="#6AA4CE" stroke="#222" stroke-width="0.7"/>
<rect x="557.1" y="2348.2" width="25.1" height="49.2" fill="#3C8EC2" stroke="#222" stroke-width="0.7"/>
<rect x="582.2" y="2348.2" width="25.1" height="49.2" fill="#0AA0FF" stroke="#222" stroke-width="0.7"/>
<rect x="607.3" y="2348.2" width="25.1" height="49.2" fill="#38B8FF" stroke="#222" stroke-width="0.7"/>
<rect x="632.4" y="2348.2" width="25.1" height="49.2" fill="#40D0FF" stroke="#222" stroke-width="0.7"/>
<rect x="657.5" y="2348.2" width="25.1" height="49.2" fill="#40E6FF" stroke="#222" stroke-width="0.7"/>
<rect x="682.6" y="2348.2" width="25.1" height="49.2" fill="#40FAFF" stroke="#222" stroke-width="0.7"/>
<rect x="707.7" y="2348.2" width="25.1" height="49.2" fill="#40FFDC" stroke="#222" stroke-width="0.7"/>
<rect x="732.8" y="2348.2" width="25.1" height="49.2" fill="#40FFAC" stroke="#222" stroke-width="0.7"/>
<rect x="757.9" y="2348.2" width="25.1" height="49.2" fill="#40FF50" stroke="#222" stroke-width="0.7"/>
<rect x="783" y="2348.2" width="25.1" height="49.2" fill="#64FF40" stroke="#222" stroke-width="0.7"/>
<rect x="808.1" y="2348.2" width="25.1" height="49.2" fill="#8CFF40" stroke="#222" stroke-width="0.7"/>
<rect x="833.1" y="2348.2" width="25.1" height="49.2" fill="#B0FF40" stroke="#222" stroke-width="0.7"/>
<rect x="858.2" y="2348.2" width="25.1" height="49.2" fill="#E0FF40" stroke="#222" stroke-width="0.7"/>
<rect x="883.3" y="2348.2" width="25.1" height="49.2" fill="#FFF640" stroke="#222" stroke-width="0.7"/>
<rect x="908.4" y="2348.2" width="25.1" height="49.2" fill="#FFE040" stroke="#222" stroke-width="0.7"/>
<rect x="933.5" y="2348.2" width="25.1" height="49.2" fill="#FFBC40" stroke="#222" stroke-width="0.7"/>
<rect x="958.6" y="2348.2" width="25.1" height="49.2" fill="#FF9040" stroke="#222" stroke-width="0.7"/>
<rect x="983.7" y="2348.2" width="25.1" height="49.2" fill="#FF6440" stroke="#222" stroke-width="0.7"/>
<rect x="1008.8" y="2348.2" width="25.1" height="49.2" fill="#FF4040" stroke="#222" stroke-width="0.7"/>
<rect x="1033.9" y="2348.2" width="25.1" height="49.2" fill="#FF3060" stroke="#222" stroke-width="0.7"/>
<rect x="1059" y="2348.2" width="25.1" height="49.2" fill="#FF5CB4" stroke="#222" stroke-width="0.7"/>
<rect x="1084.1" y="2348.2" width="25.1" height="49.2" fill="#FF88E8" stroke="#222" stroke-width="0.7"/>
<rect x="1109.2" y="2348.2" width="25.1" height="49.2" fill="#FFB0F8" stroke="#222" stroke-width="0.7"/>
<rect x="1134.3" y="2348.2" width="25.1" height="49.2" fill="#FFD8E0" stroke="#222" stroke-width="0.7"/>
<text transform="translate(532 2439.2) scale(1.000 1.040)" font-size="36.6" text-anchor="middle" fill="#000"  stroke="#000" stroke-width="0.4">0</text>
<text transform="translate(607.3 2439.2) scale(1.000 1.040)" font-size="36.6" text-anchor="middle" fill="#000"  stroke="#000" stroke-width="0.4">4</text>
<text transform="translate(682.6 2439.2) scale(1.000 1.040)" font-size="36.6" text-anchor="middle" fill="#000"  stroke="#000" stroke-width="0.4">10</text>
<text transform="translate(757.9 2439.2) scale(1.000 1.040)" font-size="36.6" text-anchor="middle" fill="#000"  stroke="#000" stroke-width="0.4">16</text>
<text transform="translate(833.1 2439.2) scale(1.000 1.040)" font-size="36.6" text-anchor="middle" fill="#000"  stroke="#000" stroke-width="0.4">22</text>
<text transform="translate(908.4 2439.2) scale(1.000 1.040)" font-size="36.6" text-anchor="middle" fill="#000"  stroke="#000" stroke-width="0.4">28</text>
<text transform="translate(983.7 2439.2) scale(1.000 1.040)" font-size="36.6" text-anchor="middle" fill="#000"  stroke="#000" stroke-width="0.4">40</text>
<text transform="translate(1059 2439.2) scale(1.000 1.040)" font-size="36.6" text-anchor="middle" fill="#000"  stroke="#000" stroke-width="0.4">80</text>
<text transform="translate(1134.3 2439.2) scale(1.000 1.040)" font-size="36.6" text-anchor="middle" fill="#000"  stroke="#000" stroke-width="0.4">250</text>
<g fill="#1B3D6D">
<text transform="translate(1598.3 2367.9) scale(1.170 1.020)" font-size="51.7" text-anchor="start" fill="#1B3D6D" stroke="#1B3D6D" stroke-width="0.55">N</text>
<text transform="translate(1639.5 2367.9) scale(1.000 1.020)" font-size="51.7" text-anchor="start" fill="#1B3D6D" stroke="#1B3D6D" stroke-width="0.55">C</text>
<text transform="translate(1676.5 2367.9) scale(1.050 1.020)" font-size="51.7" text-anchor="start" fill="#1B3D6D" stroke="#1B3D6D" stroke-width="0.55">A</text>
<rect x="1602" y="2378.8" width="110" height="3.4"/>
<text transform="translate(1598.8 2430.6) scale(0.990 1.045)" font-size="50" text-anchor="start" fill="#1B3D6D" font-weight="bold" >A</text>
<text transform="translate(1632.8 2430.6) scale(1.050 1.045)" font-size="50" text-anchor="start" fill="#1B3D6D" font-weight="bold" >C</text>
<text transform="translate(1669.3 2430.6) scale(1.040 1.045)" font-size="50" text-anchor="start" fill="#1B3D6D" font-weight="bold" >O</text>
</g>
</svg>
</body></html>
